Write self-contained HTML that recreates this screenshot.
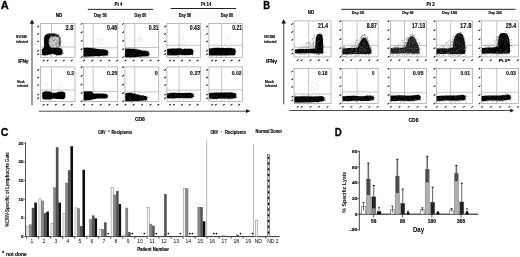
<!DOCTYPE html>
<html><head><meta charset="utf-8"><style>
html,body{margin:0;padding:0;background:#fff;overflow:hidden}
svg{display:block}
text{font-family:"Liberation Sans",sans-serif}
</style></head><body>
<svg width="520" height="257" viewBox="0 0 520 257">
<defs><filter id="b" x="-20%" y="-20%" width="140%" height="140%"><feGaussianBlur stdDeviation="0.35"/></filter><filter id="g" x="0" y="0" width="100%" height="100%"><feGaussianBlur stdDeviation="0.28"/></filter></defs>
<rect width="520" height="257" fill="#fff"/>
<g filter="url(#g)">
<text x="0.8" y="8.9" font-size="11.2" text-anchor="start" font-weight="bold" fill="#000" textLength="8" lengthAdjust="spacingAndGlyphs" stroke="#000" stroke-width="0.3">A</text>
<text x="59.1" y="16.9" font-size="5.0" text-anchor="middle" font-weight="bold" fill="#000" textLength="6.6" lengthAdjust="spacingAndGlyphs"  stroke="#000" stroke-width="0.14">ND</text>
<text x="118.5" y="5.8" font-size="5.0" text-anchor="middle" font-weight="bold" fill="#000" textLength="8" lengthAdjust="spacingAndGlyphs"  stroke="#000" stroke-width="0.14">Pt 4</text>
<line x1="87.8" y1="9.4" x2="153" y2="9.4" stroke="#222" stroke-width="1.0" />
<text x="100.4" y="16.5" font-size="4.8" text-anchor="middle" font-weight="bold" fill="#000" textLength="12.8" lengthAdjust="spacingAndGlyphs"  stroke="#000" stroke-width="0.14">Day 56</text>
<text x="140.4" y="16.5" font-size="4.8" text-anchor="middle" font-weight="bold" fill="#000" textLength="11.8" lengthAdjust="spacingAndGlyphs"  stroke="#000" stroke-width="0.14">Day 80</text>
<text x="206.2" y="5.8" font-size="5.0" text-anchor="middle" font-weight="bold" fill="#000" textLength="10.3" lengthAdjust="spacingAndGlyphs"  stroke="#000" stroke-width="0.14">Pt 14</text>
<line x1="170.7" y1="8.5" x2="236.1" y2="8.5" stroke="#222" stroke-width="1.0" />
<text x="185" y="16.5" font-size="4.8" text-anchor="middle" font-weight="bold" fill="#000" textLength="12.4" lengthAdjust="spacingAndGlyphs"  stroke="#000" stroke-width="0.14">Day 56</text>
<text x="227" y="16.5" font-size="4.8" text-anchor="middle" font-weight="bold" fill="#000" textLength="12.6" lengthAdjust="spacingAndGlyphs"  stroke="#000" stroke-width="0.14">Day 80</text>
<line x1="32" y1="22" x2="32" y2="105.2" stroke="#808080" stroke-width="1.5" />
<path d="M29.7 23.8 L32 19.6 L34.3 23.8Z" fill="#111" />
<text x="16.1" y="37.9" font-size="3.9" text-anchor="start" font-weight="bold" fill="#000" textLength="10.6" lengthAdjust="spacingAndGlyphs"  stroke="#000" stroke-width="0.14">NV/398</text>
<text x="16.1" y="42.7" font-size="3.9" text-anchor="start" font-weight="bold" fill="#000" textLength="11.7" lengthAdjust="spacingAndGlyphs"  stroke="#000" stroke-width="0.14">infected</text>
<text x="18.2" y="62.9" font-size="4.6" text-anchor="start" font-weight="bold" fill="#000" textLength="10.3" lengthAdjust="spacingAndGlyphs"  stroke="#000" stroke-width="0.14">IFN&#947;</text>
<text x="17.3" y="82.6" font-size="3.9" text-anchor="start" font-weight="bold" fill="#000" textLength="7.3" lengthAdjust="spacingAndGlyphs"  stroke="#000" stroke-width="0.14">Mock</text>
<text x="17.3" y="87.1" font-size="3.9" text-anchor="start" font-weight="bold" fill="#000" textLength="10.6" lengthAdjust="spacingAndGlyphs"  stroke="#000" stroke-width="0.14">infected</text>
<line x1="38.8" y1="111.2" x2="247" y2="111.2" stroke="#2a2a2a" stroke-width="0.85" />
<path d="M246 109.2 L250.6 111.1 L246 113Z" fill="#111" />
<text x="139.9" y="121.1" font-size="4.9" text-anchor="middle" font-weight="bold" fill="#000" textLength="10" lengthAdjust="spacingAndGlyphs"  stroke="#000" stroke-width="0.14">CD8</text>
<rect x="40.4" y="23.6" width="34.6" height="33.7" fill="none" stroke="#a0a0a0" stroke-width="0.7" />
<line x1="51.5" y1="23.6" x2="51.5" y2="57.3" stroke="#a0a0a0" stroke-width="0.6" />
<line x1="40.4" y1="47" x2="75" y2="47" stroke="#a0a0a0" stroke-width="0.6" />
<text x="73.4" y="30.2" font-size="6.3" text-anchor="end" font-weight="bold" fill="#111" textLength="8" lengthAdjust="spacingAndGlyphs"  stroke="#111" stroke-width="0.14">2.8</text>
<path d="M37 27l1.7 -1.4 0.7 0.55 -1.7 1.4z" fill="#000"/>
<path d="M37 34.41l1.7 -1.4 0.7 0.55 -1.7 1.4z" fill="#000"/>
<path d="M37 41.82l1.7 -1.4 0.7 0.55 -1.7 1.4z" fill="#000"/>
<path d="M37 51.09l1.7 -1.4 0.7 0.55 -1.7 1.4z" fill="#000"/>
<path d="M37 54.63l1.7 -1.4 0.7 0.55 -1.7 1.4z" fill="#000"/>
<path d="M42.51 61l1.7 -1.4 0.7 0.55 -1.7 1.4z" fill="#000"/>
<path d="M46.32 61l1.7 -1.4 0.7 0.55 -1.7 1.4z" fill="#000"/>
<path d="M54.62 61l1.7 -1.4 0.7 0.55 -1.7 1.4z" fill="#000"/>
<path d="M62.58 61l1.7 -1.4 0.7 0.55 -1.7 1.4z" fill="#000"/>
<path d="M70.54 61l1.7 -1.4 0.7 0.55 -1.7 1.4z" fill="#000"/>
<rect x="40.4" y="66.9" width="34.6" height="34.5" fill="none" stroke="#a0a0a0" stroke-width="0.7" />
<line x1="51.5" y1="66.9" x2="51.5" y2="101.4" stroke="#a0a0a0" stroke-width="0.6" />
<line x1="40.4" y1="90.1" x2="75" y2="90.1" stroke="#a0a0a0" stroke-width="0.6" />
<text x="74" y="75" font-size="6.0" text-anchor="end" font-weight="bold" fill="#111" textLength="7" lengthAdjust="spacingAndGlyphs"  stroke="#111" stroke-width="0.14">0.2</text>
<path d="M37 70.36l1.7 -1.4 0.7 0.55 -1.7 1.4z" fill="#000"/>
<path d="M37 77.95l1.7 -1.4 0.7 0.55 -1.7 1.4z" fill="#000"/>
<path d="M37 85.54l1.7 -1.4 0.7 0.55 -1.7 1.4z" fill="#000"/>
<path d="M37 95.03l1.7 -1.4 0.7 0.55 -1.7 1.4z" fill="#000"/>
<path d="M37 98.65l1.7 -1.4 0.7 0.55 -1.7 1.4z" fill="#000"/>
<path d="M42.51 105.1l1.7 -1.4 0.7 0.55 -1.7 1.4z" fill="#000"/>
<path d="M46.32 105.1l1.7 -1.4 0.7 0.55 -1.7 1.4z" fill="#000"/>
<path d="M54.62 105.1l1.7 -1.4 0.7 0.55 -1.7 1.4z" fill="#000"/>
<path d="M62.58 105.1l1.7 -1.4 0.7 0.55 -1.7 1.4z" fill="#000"/>
<path d="M70.54 105.1l1.7 -1.4 0.7 0.55 -1.7 1.4z" fill="#000"/>
<rect x="83.4" y="23.6" width="34.3" height="33.7" fill="none" stroke="#a0a0a0" stroke-width="0.7" />
<line x1="93.2" y1="23.6" x2="93.2" y2="57.3" stroke="#a0a0a0" stroke-width="0.6" />
<line x1="83.4" y1="47.8" x2="117.7" y2="47.8" stroke="#a0a0a0" stroke-width="0.6" />
<text x="117.2" y="30.2" font-size="6.3" text-anchor="end" font-weight="bold" fill="#111" textLength="10.3" lengthAdjust="spacingAndGlyphs"  stroke="#111" stroke-width="0.14">0.46</text>
<path d="M80.4 24.3l1.7 -1.4 0.7 0.55 -1.7 1.4z" fill="#000"/>
<path d="M80.4 32.73l1.7 -1.4 0.7 0.55 -1.7 1.4z" fill="#000"/>
<path d="M80.4 41.15l1.7 -1.4 0.7 0.55 -1.7 1.4z" fill="#000"/>
<path d="M80.4 49.58l1.7 -1.4 0.7 0.55 -1.7 1.4z" fill="#000"/>
<path d="M80.4 57.66l1.7 -1.4 0.7 0.55 -1.7 1.4z" fill="#000"/>
<path d="M82.74 61l1.7 -1.4 0.7 0.55 -1.7 1.4z" fill="#000"/>
<path d="M90.98 61l1.7 -1.4 0.7 0.55 -1.7 1.4z" fill="#000"/>
<path d="M99.55 61l1.7 -1.4 0.7 0.55 -1.7 1.4z" fill="#000"/>
<path d="M108.12 61l1.7 -1.4 0.7 0.55 -1.7 1.4z" fill="#000"/>
<path d="M116.01 61l1.7 -1.4 0.7 0.55 -1.7 1.4z" fill="#000"/>
<rect x="83.4" y="66.9" width="34.3" height="34.5" fill="none" stroke="#a0a0a0" stroke-width="0.7" />
<line x1="93.2" y1="66.9" x2="93.2" y2="101.4" stroke="#a0a0a0" stroke-width="0.6" />
<line x1="83.4" y1="91.4" x2="117.7" y2="91.4" stroke="#a0a0a0" stroke-width="0.6" />
<text x="117.5" y="75" font-size="6.0" text-anchor="end" font-weight="bold" fill="#111" textLength="10.5" lengthAdjust="spacingAndGlyphs"  stroke="#111" stroke-width="0.14">0.25</text>
<path d="M80.4 67.6l1.7 -1.4 0.7 0.55 -1.7 1.4z" fill="#000"/>
<path d="M80.4 76.23l1.7 -1.4 0.7 0.55 -1.7 1.4z" fill="#000"/>
<path d="M80.4 84.85l1.7 -1.4 0.7 0.55 -1.7 1.4z" fill="#000"/>
<path d="M80.4 93.48l1.7 -1.4 0.7 0.55 -1.7 1.4z" fill="#000"/>
<path d="M80.4 101.76l1.7 -1.4 0.7 0.55 -1.7 1.4z" fill="#000"/>
<path d="M82.74 105.1l1.7 -1.4 0.7 0.55 -1.7 1.4z" fill="#000"/>
<path d="M90.98 105.1l1.7 -1.4 0.7 0.55 -1.7 1.4z" fill="#000"/>
<path d="M99.55 105.1l1.7 -1.4 0.7 0.55 -1.7 1.4z" fill="#000"/>
<path d="M108.12 105.1l1.7 -1.4 0.7 0.55 -1.7 1.4z" fill="#000"/>
<path d="M116.01 105.1l1.7 -1.4 0.7 0.55 -1.7 1.4z" fill="#000"/>
<rect x="124.9" y="23.6" width="33.9" height="33.7" fill="none" stroke="#a0a0a0" stroke-width="0.7" />
<line x1="134.8" y1="23.6" x2="134.8" y2="57.3" stroke="#a0a0a0" stroke-width="0.6" />
<line x1="124.9" y1="47.5" x2="158.8" y2="47.5" stroke="#a0a0a0" stroke-width="0.6" />
<text x="158.6" y="30.2" font-size="6.3" text-anchor="end" font-weight="bold" fill="#111" textLength="9.8" lengthAdjust="spacingAndGlyphs"  stroke="#111" stroke-width="0.14">0.31</text>
<path d="M121.9 24.3l1.7 -1.4 0.7 0.55 -1.7 1.4z" fill="#000"/>
<path d="M121.9 32.73l1.7 -1.4 0.7 0.55 -1.7 1.4z" fill="#000"/>
<path d="M121.9 41.15l1.7 -1.4 0.7 0.55 -1.7 1.4z" fill="#000"/>
<path d="M121.9 49.58l1.7 -1.4 0.7 0.55 -1.7 1.4z" fill="#000"/>
<path d="M121.9 57.66l1.7 -1.4 0.7 0.55 -1.7 1.4z" fill="#000"/>
<path d="M124.24 61l1.7 -1.4 0.7 0.55 -1.7 1.4z" fill="#000"/>
<path d="M132.38 61l1.7 -1.4 0.7 0.55 -1.7 1.4z" fill="#000"/>
<path d="M140.85 61l1.7 -1.4 0.7 0.55 -1.7 1.4z" fill="#000"/>
<path d="M149.33 61l1.7 -1.4 0.7 0.55 -1.7 1.4z" fill="#000"/>
<path d="M157.12 61l1.7 -1.4 0.7 0.55 -1.7 1.4z" fill="#000"/>
<rect x="124.9" y="66.9" width="33.9" height="34.5" fill="none" stroke="#a0a0a0" stroke-width="0.7" />
<line x1="134.8" y1="66.9" x2="134.8" y2="101.4" stroke="#a0a0a0" stroke-width="0.6" />
<line x1="124.9" y1="91.9" x2="158.8" y2="91.9" stroke="#a0a0a0" stroke-width="0.6" />
<text x="157.8" y="75" font-size="6.0" text-anchor="end" font-weight="bold" fill="#111" textLength="3" lengthAdjust="spacingAndGlyphs"  stroke="#111" stroke-width="0.14">0</text>
<path d="M121.9 67.6l1.7 -1.4 0.7 0.55 -1.7 1.4z" fill="#000"/>
<path d="M121.9 76.23l1.7 -1.4 0.7 0.55 -1.7 1.4z" fill="#000"/>
<path d="M121.9 84.85l1.7 -1.4 0.7 0.55 -1.7 1.4z" fill="#000"/>
<path d="M121.9 93.48l1.7 -1.4 0.7 0.55 -1.7 1.4z" fill="#000"/>
<path d="M121.9 101.76l1.7 -1.4 0.7 0.55 -1.7 1.4z" fill="#000"/>
<path d="M124.24 105.1l1.7 -1.4 0.7 0.55 -1.7 1.4z" fill="#000"/>
<path d="M132.38 105.1l1.7 -1.4 0.7 0.55 -1.7 1.4z" fill="#000"/>
<path d="M140.85 105.1l1.7 -1.4 0.7 0.55 -1.7 1.4z" fill="#000"/>
<path d="M149.33 105.1l1.7 -1.4 0.7 0.55 -1.7 1.4z" fill="#000"/>
<path d="M157.12 105.1l1.7 -1.4 0.7 0.55 -1.7 1.4z" fill="#000"/>
<rect x="166.9" y="23.6" width="33.8" height="33.7" fill="none" stroke="#a0a0a0" stroke-width="0.7" />
<line x1="179.1" y1="23.6" x2="179.1" y2="57.3" stroke="#a0a0a0" stroke-width="0.6" />
<line x1="166.9" y1="45.3" x2="200.7" y2="45.3" stroke="#a0a0a0" stroke-width="0.6" />
<text x="199.9" y="30.2" font-size="6.3" text-anchor="end" font-weight="bold" fill="#111" textLength="10.1" lengthAdjust="spacingAndGlyphs"  stroke="#111" stroke-width="0.14">0.43</text>
<path d="M163.9 27l1.7 -1.4 0.7 0.55 -1.7 1.4z" fill="#000"/>
<path d="M163.9 34.41l1.7 -1.4 0.7 0.55 -1.7 1.4z" fill="#000"/>
<path d="M163.9 41.82l1.7 -1.4 0.7 0.55 -1.7 1.4z" fill="#000"/>
<path d="M163.9 51.09l1.7 -1.4 0.7 0.55 -1.7 1.4z" fill="#000"/>
<path d="M163.9 54.63l1.7 -1.4 0.7 0.55 -1.7 1.4z" fill="#000"/>
<path d="M168.94 61l1.7 -1.4 0.7 0.55 -1.7 1.4z" fill="#000"/>
<path d="M172.66 61l1.7 -1.4 0.7 0.55 -1.7 1.4z" fill="#000"/>
<path d="M180.77 61l1.7 -1.4 0.7 0.55 -1.7 1.4z" fill="#000"/>
<path d="M188.55 61l1.7 -1.4 0.7 0.55 -1.7 1.4z" fill="#000"/>
<path d="M196.32 61l1.7 -1.4 0.7 0.55 -1.7 1.4z" fill="#000"/>
<rect x="166.9" y="66.9" width="33.8" height="34.5" fill="none" stroke="#a0a0a0" stroke-width="0.7" />
<line x1="179.1" y1="66.9" x2="179.1" y2="101.4" stroke="#a0a0a0" stroke-width="0.6" />
<line x1="166.9" y1="90.1" x2="200.7" y2="90.1" stroke="#a0a0a0" stroke-width="0.6" />
<text x="200.5" y="75" font-size="6.0" text-anchor="end" font-weight="bold" fill="#111" textLength="10.7" lengthAdjust="spacingAndGlyphs"  stroke="#111" stroke-width="0.14">0.27</text>
<path d="M163.9 70.36l1.7 -1.4 0.7 0.55 -1.7 1.4z" fill="#000"/>
<path d="M163.9 77.95l1.7 -1.4 0.7 0.55 -1.7 1.4z" fill="#000"/>
<path d="M163.9 85.54l1.7 -1.4 0.7 0.55 -1.7 1.4z" fill="#000"/>
<path d="M163.9 95.03l1.7 -1.4 0.7 0.55 -1.7 1.4z" fill="#000"/>
<path d="M163.9 98.65l1.7 -1.4 0.7 0.55 -1.7 1.4z" fill="#000"/>
<path d="M168.94 105.1l1.7 -1.4 0.7 0.55 -1.7 1.4z" fill="#000"/>
<path d="M172.66 105.1l1.7 -1.4 0.7 0.55 -1.7 1.4z" fill="#000"/>
<path d="M180.77 105.1l1.7 -1.4 0.7 0.55 -1.7 1.4z" fill="#000"/>
<path d="M188.55 105.1l1.7 -1.4 0.7 0.55 -1.7 1.4z" fill="#000"/>
<path d="M196.32 105.1l1.7 -1.4 0.7 0.55 -1.7 1.4z" fill="#000"/>
<rect x="208.9" y="23.6" width="33.4" height="33.7" fill="none" stroke="#a0a0a0" stroke-width="0.7" />
<line x1="221.6" y1="23.6" x2="221.6" y2="57.3" stroke="#a0a0a0" stroke-width="0.6" />
<line x1="208.9" y1="45.3" x2="242.3" y2="45.3" stroke="#a0a0a0" stroke-width="0.6" />
<text x="242" y="30.2" font-size="6.3" text-anchor="end" font-weight="bold" fill="#111" textLength="9.7" lengthAdjust="spacingAndGlyphs"  stroke="#111" stroke-width="0.14">0.21</text>
<path d="M205.9 27l1.7 -1.4 0.7 0.55 -1.7 1.4z" fill="#000"/>
<path d="M205.9 34.41l1.7 -1.4 0.7 0.55 -1.7 1.4z" fill="#000"/>
<path d="M205.9 41.82l1.7 -1.4 0.7 0.55 -1.7 1.4z" fill="#000"/>
<path d="M205.9 51.09l1.7 -1.4 0.7 0.55 -1.7 1.4z" fill="#000"/>
<path d="M205.9 54.63l1.7 -1.4 0.7 0.55 -1.7 1.4z" fill="#000"/>
<path d="M210.91 61l1.7 -1.4 0.7 0.55 -1.7 1.4z" fill="#000"/>
<path d="M214.58 61l1.7 -1.4 0.7 0.55 -1.7 1.4z" fill="#000"/>
<path d="M222.6 61l1.7 -1.4 0.7 0.55 -1.7 1.4z" fill="#000"/>
<path d="M230.28 61l1.7 -1.4 0.7 0.55 -1.7 1.4z" fill="#000"/>
<path d="M237.96 61l1.7 -1.4 0.7 0.55 -1.7 1.4z" fill="#000"/>
<rect x="208.9" y="66.9" width="33.4" height="34.5" fill="none" stroke="#a0a0a0" stroke-width="0.7" />
<line x1="221.6" y1="66.9" x2="221.6" y2="101.4" stroke="#a0a0a0" stroke-width="0.6" />
<line x1="208.9" y1="89.8" x2="242.3" y2="89.8" stroke="#a0a0a0" stroke-width="0.6" />
<text x="241.5" y="75" font-size="6.0" text-anchor="end" font-weight="bold" fill="#111" textLength="9.8" lengthAdjust="spacingAndGlyphs"  stroke="#111" stroke-width="0.14">0.02</text>
<path d="M205.9 70.36l1.7 -1.4 0.7 0.55 -1.7 1.4z" fill="#000"/>
<path d="M205.9 77.95l1.7 -1.4 0.7 0.55 -1.7 1.4z" fill="#000"/>
<path d="M205.9 85.54l1.7 -1.4 0.7 0.55 -1.7 1.4z" fill="#000"/>
<path d="M205.9 95.03l1.7 -1.4 0.7 0.55 -1.7 1.4z" fill="#000"/>
<path d="M205.9 98.65l1.7 -1.4 0.7 0.55 -1.7 1.4z" fill="#000"/>
<path d="M210.91 105.1l1.7 -1.4 0.7 0.55 -1.7 1.4z" fill="#000"/>
<path d="M214.58 105.1l1.7 -1.4 0.7 0.55 -1.7 1.4z" fill="#000"/>
<path d="M222.6 105.1l1.7 -1.4 0.7 0.55 -1.7 1.4z" fill="#000"/>
<path d="M230.28 105.1l1.7 -1.4 0.7 0.55 -1.7 1.4z" fill="#000"/>
<path d="M237.96 105.1l1.7 -1.4 0.7 0.55 -1.7 1.4z" fill="#000"/>
<path d="M44.4 47 L44 40 L44.6 36 L46.5 34.2 L50 33.5 L54 33.7 L57.5 34.6 L59.8 36.8 L60.7 41 L60.6 47.2Z" fill="#a8a8a8" filter="url(#b)"/>
<path d="M52.91 38.51h0.6v0.6h-0.6zM55.86 37.72h0.6v0.6h-0.6zM54.82 40.66h0.6v0.6h-0.6zM50.52 42.07h0.6v0.6h-0.6zM50.34 41.34h0.6v0.6h-0.6zM50.63 37.91h0.6v0.6h-0.6zM53.82 45.27h0.6v0.6h-0.6zM51.11 39.23h0.6v0.6h-0.6zM55.65 46.48h0.6v0.6h-0.6zM55.19 40.97h0.6v0.6h-0.6zM58.79 37.47h0.6v0.6h-0.6zM57.73 39.9h0.6v0.6h-0.6zM51.3 38.18h0.6v0.6h-0.6zM52.78 45.16h0.6v0.6h-0.6zM51.63 42.82h0.6v0.6h-0.6zM55.75 40.72h0.6v0.6h-0.6zM54.93 37.63h0.6v0.6h-0.6zM50.54 39.06h0.6v0.6h-0.6zM56.12 41.28h0.6v0.6h-0.6zM52.83 42.86h0.6v0.6h-0.6zM54.08 40h0.6v0.6h-0.6zM57.15 43.99h0.6v0.6h-0.6zM52.2 42.74h0.6v0.6h-0.6zM54.73 45.75h0.6v0.6h-0.6zM56.57 39.88h0.6v0.6h-0.6zM58.82 38.18h0.6v0.6h-0.6zM53.76 44.57h0.6v0.6h-0.6zM51.37 41.89h0.6v0.6h-0.6zM50.35 43.68h0.6v0.6h-0.6zM56.88 42.73h0.6v0.6h-0.6zM57.88 40.14h0.6v0.6h-0.6zM56.26 42.94h0.6v0.6h-0.6zM55.22 41.56h0.6v0.6h-0.6zM57.56 46.45h0.6v0.6h-0.6zM54.27 43.64h0.6v0.6h-0.6zM50.55 44.01h0.6v0.6h-0.6zM55.82 46.93h0.6v0.6h-0.6zM57.4 39.85h0.6v0.6h-0.6zM53.47 43.69h0.6v0.6h-0.6zM50.2 41.62h0.6v0.6h-0.6zM51.51 38.17h0.6v0.6h-0.6zM50.53 44.68h0.6v0.6h-0.6zM51.16 39.48h0.6v0.6h-0.6zM53.52 45.71h0.6v0.6h-0.6zM50.73 41.49h0.6v0.6h-0.6zM54.94 45.83h0.6v0.6h-0.6zM57.37 45.64h0.6v0.6h-0.6zM52.51 41.15h0.6v0.6h-0.6zM53.23 45.84h0.6v0.6h-0.6zM58.62 38.51h0.6v0.6h-0.6zM51.59 39.32h0.6v0.6h-0.6zM52.1 41.85h0.6v0.6h-0.6zM55.3 39.63h0.6v0.6h-0.6zM50.04 41.19h0.6v0.6h-0.6zM53.32 42.66h0.6v0.6h-0.6zM58.58 43.9h0.6v0.6h-0.6zM54.64 43.18h0.6v0.6h-0.6zM56.09 37.54h0.6v0.6h-0.6zM58.1 44.8h0.6v0.6h-0.6zM57.87 44.98h0.6v0.6h-0.6zM53.53 40.99h0.6v0.6h-0.6zM50.93 43.34h0.6v0.6h-0.6zM50.56 37.67h0.6v0.6h-0.6zM51.88 38.62h0.6v0.6h-0.6zM53.06 37.53h0.6v0.6h-0.6zM50 38.51h0.6v0.6h-0.6zM50.91 40.64h0.6v0.6h-0.6zM50.23 45.74h0.6v0.6h-0.6zM55.53 38.49h0.6v0.6h-0.6zM52.27 40.47h0.6v0.6h-0.6zM53.28 38.23h0.6v0.6h-0.6zM57.64 46.93h0.6v0.6h-0.6zM54.19 41.84h0.6v0.6h-0.6zM50.77 38.02h0.6v0.6h-0.6zM53.08 39.65h0.6v0.6h-0.6zM57.46 38.61h0.6v0.6h-0.6zM50.21 46.51h0.6v0.6h-0.6zM54.75 38.47h0.6v0.6h-0.6zM54.89 37.27h0.6v0.6h-0.6zM54.75 46.79h0.6v0.6h-0.6zM57.77 43.96h0.6v0.6h-0.6zM52.35 40.67h0.6v0.6h-0.6zM51.5 44.72h0.6v0.6h-0.6zM54.79 44.79h0.6v0.6h-0.6zM52.97 39.23h0.6v0.6h-0.6zM57.3 46.85h0.6v0.6h-0.6zM57.67 45.06h0.6v0.6h-0.6zM57.36 44.4h0.6v0.6h-0.6zM52.04 42.18h0.6v0.6h-0.6zM53.2 37.29h0.6v0.6h-0.6zM50.25 39.79h0.6v0.6h-0.6zM52.33 43.93h0.6v0.6h-0.6zM58.61 41.47h0.6v0.6h-0.6zM58.43 46.88h0.6v0.6h-0.6zM58.6 40.65h0.6v0.6h-0.6zM51.98 39.27h0.6v0.6h-0.6zM51.77 39.04h0.6v0.6h-0.6zM55.62 46h0.6v0.6h-0.6zM57.56 41.79h0.6v0.6h-0.6zM55.88 45h0.6v0.6h-0.6zM50.76 43.61h0.6v0.6h-0.6zM58.19 44.82h0.6v0.6h-0.6zM56.75 41.78h0.6v0.6h-0.6zM51.61 44.89h0.6v0.6h-0.6zM52.99 45.01h0.6v0.6h-0.6zM58.74 40.96h0.6v0.6h-0.6zM53.61 46.47h0.6v0.6h-0.6zM56.52 38.7h0.6v0.6h-0.6zM51.14 38.51h0.6v0.6h-0.6zM58.14 45.07h0.6v0.6h-0.6zM51.32 45.27h0.6v0.6h-0.6zM58.82 43.57h0.6v0.6h-0.6zM53.15 42.49h0.6v0.6h-0.6zM51.18 37.14h0.6v0.6h-0.6zM58.74 43.5h0.6v0.6h-0.6zM54.74 46.34h0.6v0.6h-0.6zM53.9 45.72h0.6v0.6h-0.6zM57.44 39.11h0.6v0.6h-0.6zM52.27 39.93h0.6v0.6h-0.6zM52.16 42.86h0.6v0.6h-0.6zM52.33 41.19h0.6v0.6h-0.6zM51.18 46.1h0.6v0.6h-0.6zM53.18 41.58h0.6v0.6h-0.6zM55.25 46.04h0.6v0.6h-0.6zM53.79 46.18h0.6v0.6h-0.6zM54.51 42.32h0.6v0.6h-0.6zM54.71 37.19h0.6v0.6h-0.6zM53.96 38.83h0.6v0.6h-0.6zM50.04 44.99h0.6v0.6h-0.6zM51.55 41.73h0.6v0.6h-0.6zM56.53 42.56h0.6v0.6h-0.6zM52.93 42.18h0.6v0.6h-0.6zM55 44.84h0.6v0.6h-0.6zM50.95 42.6h0.6v0.6h-0.6zM52.24 39.77h0.6v0.6h-0.6zM56.95 42.08h0.6v0.6h-0.6zM55.06 44.6h0.6v0.6h-0.6zM58.21 41.43h0.6v0.6h-0.6zM55.51 42.06h0.6v0.6h-0.6zM54.61 43.93h0.6v0.6h-0.6zM54.07 42.33h0.6v0.6h-0.6zM54.3 46.42h0.6v0.6h-0.6zM56.29 45.77h0.6v0.6h-0.6zM58.48 39.6h0.6v0.6h-0.6zM55.04 46.43h0.6v0.6h-0.6zM57.56 38.37h0.6v0.6h-0.6zM51.09 41.42h0.6v0.6h-0.6zM50.65 39.41h0.6v0.6h-0.6zM50.66 43.69h0.6v0.6h-0.6zM57.06 45.97h0.6v0.6h-0.6zM51.39 44.16h0.6v0.6h-0.6zM55.94 38.43h0.6v0.6h-0.6zM57.95 46.68h0.6v0.6h-0.6zM51.98 46.53h0.6v0.6h-0.6zM53.58 41.87h0.6v0.6h-0.6zM58.91 45.32h0.6v0.6h-0.6zM51.45 41.32h0.6v0.6h-0.6zM54.64 40.39h0.6v0.6h-0.6zM51.76 40.19h0.6v0.6h-0.6zM56.5 37.19h0.6v0.6h-0.6zM54.99 41.4h0.6v0.6h-0.6zM50.16 40.31h0.6v0.6h-0.6zM55.62 42.12h0.6v0.6h-0.6zM50.58 46.85h0.6v0.6h-0.6zM57.1 46.72h0.6v0.6h-0.6zM50.94 39.66h0.6v0.6h-0.6zM50.36 44.79h0.6v0.6h-0.6zM52.43 38.3h0.6v0.6h-0.6zM53.8 46.11h0.6v0.6h-0.6zM57.37 39.59h0.6v0.6h-0.6z" fill="#f2f2f2"/>
<path d="M51.34 46.19h0.5v0.5h-0.5zM55.14 44h0.5v0.5h-0.5zM50.81 37.58h0.5v0.5h-0.5zM56.19 41.25h0.5v0.5h-0.5zM50.65 46.38h0.5v0.5h-0.5zM55.71 45.02h0.5v0.5h-0.5zM50.75 45.56h0.5v0.5h-0.5zM50.6 45.63h0.5v0.5h-0.5zM54.08 40.39h0.5v0.5h-0.5zM54.98 46.27h0.5v0.5h-0.5zM52.41 38.29h0.5v0.5h-0.5zM54.74 39.38h0.5v0.5h-0.5zM50.99 38.61h0.5v0.5h-0.5zM50.45 39.02h0.5v0.5h-0.5zM52.81 40.05h0.5v0.5h-0.5zM56.84 39.9h0.5v0.5h-0.5zM54.5 38.78h0.5v0.5h-0.5zM53.12 37.18h0.5v0.5h-0.5zM52.25 37.15h0.5v0.5h-0.5zM56.6 42.51h0.5v0.5h-0.5zM51.71 41.75h0.5v0.5h-0.5zM58.41 38.06h0.5v0.5h-0.5zM57.37 41.32h0.5v0.5h-0.5zM54.46 45.35h0.5v0.5h-0.5zM53.54 42.07h0.5v0.5h-0.5zM56.19 46.82h0.5v0.5h-0.5zM53.08 45.32h0.5v0.5h-0.5zM56.36 43.36h0.5v0.5h-0.5zM53.64 40.48h0.5v0.5h-0.5zM50.49 38.3h0.5v0.5h-0.5zM50.64 44.41h0.5v0.5h-0.5zM52.3 38.63h0.5v0.5h-0.5zM50.76 45.41h0.5v0.5h-0.5zM57.83 43.71h0.5v0.5h-0.5zM52.54 39.42h0.5v0.5h-0.5zM52.64 41.59h0.5v0.5h-0.5zM51.42 41.46h0.5v0.5h-0.5zM52.37 46.62h0.5v0.5h-0.5zM58.75 42.47h0.5v0.5h-0.5zM52.2 46.66h0.5v0.5h-0.5zM52.79 40.57h0.5v0.5h-0.5zM50.01 40.82h0.5v0.5h-0.5zM54.27 42.03h0.5v0.5h-0.5zM51.81 42.05h0.5v0.5h-0.5zM50.04 39.64h0.5v0.5h-0.5zM50.81 41h0.5v0.5h-0.5zM50.38 37.22h0.5v0.5h-0.5zM52.74 39.33h0.5v0.5h-0.5zM55.27 42.29h0.5v0.5h-0.5zM56.75 43.58h0.5v0.5h-0.5zM56.44 45.79h0.5v0.5h-0.5zM53.51 40.26h0.5v0.5h-0.5zM58.86 38.49h0.5v0.5h-0.5zM56.52 43.43h0.5v0.5h-0.5zM50.39 45.35h0.5v0.5h-0.5zM58.03 43.27h0.5v0.5h-0.5zM56.6 45.12h0.5v0.5h-0.5zM51.25 42.24h0.5v0.5h-0.5zM54.54 45.35h0.5v0.5h-0.5zM57.24 45.26h0.5v0.5h-0.5z" fill="#555"/>
<path d="M44.2 47.2 L43.9 39 L44.8 35.4 L47.6 33.7 L51.5 33.8 L50.4 36.4 L48.9 39.2 L48.6 43 L49.8 47.4Z" fill="#000" filter="url(#b)"/>
<ellipse cx="52.5" cy="35" rx="4.2" ry="1.4" fill="#1a1a1a" filter="url(#b)"/>
<ellipse cx="57.2" cy="35.8" rx="2" ry="1.3" fill="#333" filter="url(#b)"/>
<ellipse cx="59.7" cy="41.6" rx="1" ry="5" fill="#5a5a5a" filter="url(#b)"/>
<path d="M45.78 44.7h0.5v0.5h-0.5zM52.32 33.05h0.5v0.5h-0.5zM55.21 33.92h0.5v0.5h-0.5zM45.27 36.72h0.5v0.5h-0.5zM56.58 46.66h0.5v0.5h-0.5zM54.93 34.08h0.5v0.5h-0.5zM53.65 33.17h0.5v0.5h-0.5zM45.03 36.76h0.5v0.5h-0.5zM59.19 35.79h0.5v0.5h-0.5zM44.3 39.43h0.5v0.5h-0.5zM57.94 46.55h0.5v0.5h-0.5zM47.57 46.24h0.5v0.5h-0.5zM52.26 33.35h0.5v0.5h-0.5zM44.06 39.88h0.5v0.5h-0.5zM44.03 43.51h0.5v0.5h-0.5zM58.26 34.68h0.5v0.5h-0.5zM59.75 42.98h0.5v0.5h-0.5zM59.33 37.06h0.5v0.5h-0.5zM60.98 41.25h0.5v0.5h-0.5zM48.68 33.68h0.5v0.5h-0.5zM45.73 44.69h0.5v0.5h-0.5zM59.03 44.37h0.5v0.5h-0.5zM59.99 40.69h0.5v0.5h-0.5zM56.23 33.69h0.5v0.5h-0.5zM48.87 33.69h0.5v0.5h-0.5zM46.84 35.26h0.5v0.5h-0.5zM47.27 34.27h0.5v0.5h-0.5zM45.06 36.89h0.5v0.5h-0.5zM58.67 36.02h0.5v0.5h-0.5zM44.55 42.93h0.5v0.5h-0.5zM53.98 33h0.5v0.5h-0.5zM58.04 44.98h0.5v0.5h-0.5zM45.85 35.16h0.5v0.5h-0.5zM60.01 43.1h0.5v0.5h-0.5zM44.67 43.95h0.5v0.5h-0.5zM54.22 33.15h0.5v0.5h-0.5zM60.3 42.02h0.5v0.5h-0.5zM60.33 42.87h0.5v0.5h-0.5zM49.23 33.31h0.5v0.5h-0.5zM60.49 37.36h0.5v0.5h-0.5z" fill="#222"/>
<path d="M42 49.4 L43.8 47.6 L44.3 46 L49.6 46.2 L51 47.7 L58 47.6 L61.5 48.4 L62.8 51.5 L62.2 54.8 L57 55.2 L53 53.8 L50 54.4 L45 55.5 L42 54.9Z" fill="#000" filter="url(#b)"/>
<path d="M59.06 48.19h0.5v0.5h-0.5zM46.61 53.22h0.5v0.5h-0.5zM52.31 47.78h0.5v0.5h-0.5zM46.65 49.96h0.5v0.5h-0.5zM45.04 49.74h0.5v0.5h-0.5zM44.95 46.49h0.5v0.5h-0.5zM43.25 49.74h0.5v0.5h-0.5zM60.68 54.39h0.5v0.5h-0.5z" fill="#fff" fill-opacity="0.4"/>
<path d="M61.12 47.16h0.5v0.5h-0.5zM41.93 52.74h0.5v0.5h-0.5zM52.87 47.38h0.5v0.5h-0.5zM62.76 51.29h0.5v0.5h-0.5zM41.14 55.08h0.5v0.5h-0.5zM41.47 50.22h0.5v0.5h-0.5zM61.95 49.21h0.5v0.5h-0.5zM52.27 47.19h0.5v0.5h-0.5zM57.82 55.33h0.5v0.5h-0.5zM58.91 55.06h0.5v0.5h-0.5zM57.95 47.08h0.5v0.5h-0.5zM41.72 51.91h0.5v0.5h-0.5zM62.55 50.12h0.5v0.5h-0.5zM41.69 50.32h0.5v0.5h-0.5zM41.02 50.72h0.5v0.5h-0.5zM47.33 55.37h0.5v0.5h-0.5zM49.96 55.06h0.5v0.5h-0.5zM44.59 55.49h0.5v0.5h-0.5zM56.4 55.64h0.5v0.5h-0.5zM44.42 55.51h0.5v0.5h-0.5zM41.97 53.3h0.5v0.5h-0.5zM41.38 54.14h0.5v0.5h-0.5zM55.38 56.33h0.5v0.5h-0.5zM45.98 45.04h0.5v0.5h-0.5zM41.11 48.91h0.5v0.5h-0.5zM56.1 54.89h0.5v0.5h-0.5zM53.82 54.53h0.5v0.5h-0.5zM46.44 45.8h0.5v0.5h-0.5zM45.57 55.74h0.5v0.5h-0.5zM46.14 46.01h0.5v0.5h-0.5zM58.7 55.31h0.5v0.5h-0.5zM62.95 53.05h0.5v0.5h-0.5zM61.77 48.12h0.5v0.5h-0.5zM53.28 54.21h0.5v0.5h-0.5zM42.98 47.46h0.5v0.5h-0.5zM41.82 53.71h0.5v0.5h-0.5zM60.85 55.3h0.5v0.5h-0.5zM42.57 48.67h0.5v0.5h-0.5zM46.21 46.05h0.5v0.5h-0.5zM63.28 53.42h0.5v0.5h-0.5z" fill="#333"/>
<path d="M83.6 47.8 L92 48 L98 48.9 L104 49.5 L107.4 50.3 L108.5 52.8 L107.6 55.4 L100 56 L90 56.4 L83.6 56.8Z" fill="#000" filter="url(#b)"/>
<path d="M107.55 53.38h0.5v0.5h-0.5zM100.44 53.28h0.5v0.5h-0.5zM91 52.94h0.5v0.5h-0.5zM107.32 52.13h0.5v0.5h-0.5zM99.72 50.49h0.5v0.5h-0.5zM92.15 55.77h0.5v0.5h-0.5zM84.29 49.5h0.5v0.5h-0.5zM100.5 51.83h0.5v0.5h-0.5zM85.72 53.74h0.5v0.5h-0.5zM92.86 53.03h0.5v0.5h-0.5zM93.97 52.57h0.5v0.5h-0.5zM97.66 51.37h0.5v0.5h-0.5zM86.44 49.42h0.5v0.5h-0.5zM105.76 52.73h0.5v0.5h-0.5zM86.4 55.56h0.5v0.5h-0.5zM89.91 48.65h0.5v0.5h-0.5zM96.82 50.06h0.5v0.5h-0.5zM95.78 52.79h0.5v0.5h-0.5zM89.24 52.95h0.5v0.5h-0.5zM86.41 52.42h0.5v0.5h-0.5zM93.76 48.46h0.5v0.5h-0.5zM94.54 55.57h0.5v0.5h-0.5zM97.31 54.23h0.5v0.5h-0.5zM86.14 55.27h0.5v0.5h-0.5zM93.36 49.34h0.5v0.5h-0.5zM107.5 52.87h0.5v0.5h-0.5zM89.5 51.15h0.5v0.5h-0.5zM83.98 53.15h0.5v0.5h-0.5zM88.91 50.5h0.5v0.5h-0.5zM101.21 51.63h0.5v0.5h-0.5z" fill="#fff" fill-opacity="0.4"/>
<path d="M98.48 56.07h0.5v0.5h-0.5zM103.55 56h0.5v0.5h-0.5zM101.77 48.97h0.5v0.5h-0.5zM103.19 48.68h0.5v0.5h-0.5zM87.2 47.82h0.5v0.5h-0.5zM87.73 47.55h0.5v0.5h-0.5zM105.26 48.9h0.5v0.5h-0.5zM98.39 57.15h0.5v0.5h-0.5zM84.5 56.93h0.5v0.5h-0.5zM83.51 58.03h0.5v0.5h-0.5zM89.22 47.82h0.5v0.5h-0.5zM99.66 56.23h0.5v0.5h-0.5zM91.83 47.75h0.5v0.5h-0.5zM83.48 53.32h0.5v0.5h-0.5zM86.15 47.69h0.5v0.5h-0.5zM99.24 49h0.5v0.5h-0.5zM86.48 46.98h0.5v0.5h-0.5zM82.74 56.38h0.5v0.5h-0.5zM107.7 56.22h0.5v0.5h-0.5zM99.34 56.12h0.5v0.5h-0.5zM98.15 56.35h0.5v0.5h-0.5zM86.74 56.66h0.5v0.5h-0.5zM103.84 56.2h0.5v0.5h-0.5zM89.41 47.62h0.5v0.5h-0.5zM93.39 47.55h0.5v0.5h-0.5zM107.81 50.74h0.5v0.5h-0.5zM109.32 54.03h0.5v0.5h-0.5zM107.94 51.05h0.5v0.5h-0.5zM94.51 48.18h0.5v0.5h-0.5zM108.32 55.36h0.5v0.5h-0.5zM82.44 55.02h0.5v0.5h-0.5zM99.25 56.05h0.5v0.5h-0.5zM87.05 56.68h0.5v0.5h-0.5zM83.49 48.07h0.5v0.5h-0.5zM105.01 48.84h0.5v0.5h-0.5zM85.2 56.78h0.5v0.5h-0.5zM83.57 54.04h0.5v0.5h-0.5zM86.83 56.75h0.5v0.5h-0.5zM108.53 51.96h0.5v0.5h-0.5zM83.36 51.09h0.5v0.5h-0.5z" fill="#333"/>
<path d="M100.89 39.26h0.5v0.5h-0.5zM102.75 43.5h0.5v0.5h-0.5zM98.4 41.01h0.5v0.5h-0.5zM102.75 39.45h0.5v0.5h-0.5zM99.45 44.73h0.5v0.5h-0.5zM102.4 39.63h0.5v0.5h-0.5zM101.41 40.52h0.5v0.5h-0.5zM100.98 43.37h0.5v0.5h-0.5zM97.77 39.56h0.5v0.5h-0.5zM98.29 39.86h0.5v0.5h-0.5zM97.21 38.95h0.5v0.5h-0.5zM99.44 40.95h0.5v0.5h-0.5z" fill="#999"/>
<path d="M125.1 48.6 L129 48.4 L133 49 L138 49.6 L142 50.4 L146 50.9 L148.8 51.8 L149.6 54.2 L148 56.2 L142 56.6 L136 57 L130 57.2 L125.1 57.2Z" fill="#000" filter="url(#b)"/>
<path d="M127.01 53.52h0.5v0.5h-0.5zM148.19 53.48h0.5v0.5h-0.5zM133.81 54.6h0.5v0.5h-0.5zM135.81 49.94h0.5v0.5h-0.5zM134.16 56.87h0.5v0.5h-0.5zM143.89 55.75h0.5v0.5h-0.5zM140.83 53.98h0.5v0.5h-0.5zM129.91 55.14h0.5v0.5h-0.5zM132.47 50.65h0.5v0.5h-0.5zM145.23 53.69h0.5v0.5h-0.5zM145.92 56.1h0.5v0.5h-0.5zM139.53 50.15h0.5v0.5h-0.5zM125.47 53.11h0.5v0.5h-0.5zM142.88 50.8h0.5v0.5h-0.5zM129.34 54.52h0.5v0.5h-0.5zM125.2 50.42h0.5v0.5h-0.5zM131.6 54.66h0.5v0.5h-0.5zM127.9 56.62h0.5v0.5h-0.5zM133.32 53h0.5v0.5h-0.5zM132.94 52.07h0.5v0.5h-0.5zM136.83 50.67h0.5v0.5h-0.5zM126.45 49.14h0.5v0.5h-0.5zM129.08 49.2h0.5v0.5h-0.5zM140.39 54.53h0.5v0.5h-0.5zM131.54 55.37h0.5v0.5h-0.5zM142.95 51.41h0.5v0.5h-0.5zM137.15 50.06h0.5v0.5h-0.5zM147.86 53.33h0.5v0.5h-0.5zM126.36 49.75h0.5v0.5h-0.5zM142.07 51.79h0.5v0.5h-0.5z" fill="#fff" fill-opacity="0.4"/>
<path d="M130.3 48.45h0.5v0.5h-0.5zM140.33 56.92h0.5v0.5h-0.5zM138.99 49.13h0.5v0.5h-0.5zM130.85 57.63h0.5v0.5h-0.5zM146.89 56.62h0.5v0.5h-0.5zM125 50.26h0.5v0.5h-0.5zM140.15 57.24h0.5v0.5h-0.5zM134.2 57.11h0.5v0.5h-0.5zM128.69 47.3h0.5v0.5h-0.5zM139.94 57.36h0.5v0.5h-0.5zM135.72 48.71h0.5v0.5h-0.5zM135.37 48.38h0.5v0.5h-0.5zM133.3 57.29h0.5v0.5h-0.5zM148.88 55.53h0.5v0.5h-0.5zM148.59 56.02h0.5v0.5h-0.5zM132.4 48.85h0.5v0.5h-0.5zM142.77 49.65h0.5v0.5h-0.5zM136.68 49.05h0.5v0.5h-0.5zM148.73 51.14h0.5v0.5h-0.5zM127.43 58.04h0.5v0.5h-0.5zM125.02 49.15h0.5v0.5h-0.5zM133.26 48.19h0.5v0.5h-0.5zM137.25 49.23h0.5v0.5h-0.5zM136.52 48.52h0.5v0.5h-0.5zM149.71 53.78h0.5v0.5h-0.5zM147.79 51.42h0.5v0.5h-0.5zM133.68 48.26h0.5v0.5h-0.5zM146.87 50.13h0.5v0.5h-0.5zM135.53 57.71h0.5v0.5h-0.5zM144.47 56.73h0.5v0.5h-0.5zM134.41 48.94h0.5v0.5h-0.5zM143.19 50.39h0.5v0.5h-0.5zM145.74 50.3h0.5v0.5h-0.5zM129.69 57.95h0.5v0.5h-0.5zM138.64 49.37h0.5v0.5h-0.5zM144.94 50.04h0.5v0.5h-0.5zM144.16 50.6h0.5v0.5h-0.5zM132.77 48.2h0.5v0.5h-0.5zM124.62 55.91h0.5v0.5h-0.5zM135.68 57.34h0.5v0.5h-0.5z" fill="#333"/>
<path d="M141.55 38.44h0.5v0.5h-0.5zM142.62 38.76h0.5v0.5h-0.5zM139.51 43.01h0.5v0.5h-0.5zM138.1 40.63h0.5v0.5h-0.5zM138.63 41.31h0.5v0.5h-0.5zM138.08 39.06h0.5v0.5h-0.5zM139.11 38.57h0.5v0.5h-0.5zM138.45 39.36h0.5v0.5h-0.5zM140.59 38.96h0.5v0.5h-0.5zM142.11 40.92h0.5v0.5h-0.5z" fill="#999"/>
<path d="M167.2 49 L172 48.4 L176 48.6 L180 48.2 L182 49 L186 48.8 L192 48.8 L193.5 51 L193 54.8 L186 55.2 L180 54.8 L176 55.5 L167.2 55.3Z" fill="#000" filter="url(#b)"/>
<path d="M173.82 49.96h0.5v0.5h-0.5zM186.72 48.91h0.5v0.5h-0.5zM192.04 51.18h0.5v0.5h-0.5zM182.92 54.5h0.5v0.5h-0.5zM185.44 52.49h0.5v0.5h-0.5zM186.16 50.23h0.5v0.5h-0.5zM180.27 49.56h0.5v0.5h-0.5zM178.7 50.26h0.5v0.5h-0.5zM182.6 50.38h0.5v0.5h-0.5zM174.43 52.89h0.5v0.5h-0.5zM169.45 54.05h0.5v0.5h-0.5zM180.24 49.87h0.5v0.5h-0.5zM170.22 51.91h0.5v0.5h-0.5zM180.45 53.45h0.5v0.5h-0.5zM177.03 51.21h0.5v0.5h-0.5zM190.67 50.2h0.5v0.5h-0.5zM193 54.72h0.5v0.5h-0.5zM173.96 54.14h0.5v0.5h-0.5zM183.29 49.69h0.5v0.5h-0.5zM188.49 52.27h0.5v0.5h-0.5zM169.29 54.5h0.5v0.5h-0.5zM171.81 50.09h0.5v0.5h-0.5zM183.41 49.62h0.5v0.5h-0.5zM179.37 53.41h0.5v0.5h-0.5zM169.72 53.02h0.5v0.5h-0.5z" fill="#fff" fill-opacity="0.4"/>
<path d="M193.54 51.22h0.5v0.5h-0.5zM188.94 55.52h0.5v0.5h-0.5zM188.03 55.08h0.5v0.5h-0.5zM181.02 48.24h0.5v0.5h-0.5zM193.78 49.42h0.5v0.5h-0.5zM180.13 48.05h0.5v0.5h-0.5zM179.64 54.93h0.5v0.5h-0.5zM192.45 54.87h0.5v0.5h-0.5zM187.25 48.07h0.5v0.5h-0.5zM178.8 48.12h0.5v0.5h-0.5zM172.56 48h0.5v0.5h-0.5zM167.13 53.87h0.5v0.5h-0.5zM178.38 56.58h0.5v0.5h-0.5zM170.16 55.38h0.5v0.5h-0.5zM189.17 48.59h0.5v0.5h-0.5zM178.67 55.35h0.5v0.5h-0.5zM184.91 48.01h0.5v0.5h-0.5zM181.06 47.91h0.5v0.5h-0.5zM169.5 48.45h0.5v0.5h-0.5zM184.19 48.61h0.5v0.5h-0.5zM166.89 51.44h0.5v0.5h-0.5zM169.46 55.48h0.5v0.5h-0.5zM192.06 55.71h0.5v0.5h-0.5zM184.56 48.78h0.5v0.5h-0.5zM182.27 55.52h0.5v0.5h-0.5zM193.19 50.16h0.5v0.5h-0.5zM184.05 55.42h0.5v0.5h-0.5zM193.19 54.19h0.5v0.5h-0.5zM177.18 55.82h0.5v0.5h-0.5zM182.69 55.06h0.5v0.5h-0.5z" fill="#333"/>
<path d="M183.34 37.86h0.5v0.5h-0.5zM182.32 44.37h0.5v0.5h-0.5zM184.62 41.07h0.5v0.5h-0.5zM184.05 43.89h0.5v0.5h-0.5zM185.77 41.76h0.5v0.5h-0.5zM181.25 43.97h0.5v0.5h-0.5zM181.82 38.92h0.5v0.5h-0.5zM181.69 41.1h0.5v0.5h-0.5zM183.91 40.68h0.5v0.5h-0.5zM183.35 38.13h0.5v0.5h-0.5z" fill="#aaa"/>
<path d="M209.1 48.6 L216 47.8 L224 48 L231 48 L235.2 48.8 L235.8 51.5 L235 55.2 L226 55.5 L216 55.5 L209.1 55.6Z" fill="#000" filter="url(#b)"/>
<path d="M228.27 51.99h0.5v0.5h-0.5zM217.35 54.3h0.5v0.5h-0.5zM234.17 54.99h0.5v0.5h-0.5zM219.48 51.31h0.5v0.5h-0.5zM215.95 53.6h0.5v0.5h-0.5zM233.26 48.88h0.5v0.5h-0.5zM222.61 55.35h0.5v0.5h-0.5zM232.83 51.32h0.5v0.5h-0.5zM211.9 51.36h0.5v0.5h-0.5zM222.92 53.93h0.5v0.5h-0.5zM214.07 49.98h0.5v0.5h-0.5zM225.41 48.54h0.5v0.5h-0.5zM229.14 51.1h0.5v0.5h-0.5zM233.81 49.54h0.5v0.5h-0.5zM232.53 49.58h0.5v0.5h-0.5zM210.37 48.47h0.5v0.5h-0.5zM211.13 50.83h0.5v0.5h-0.5zM235.05 50.57h0.5v0.5h-0.5zM228.24 48.07h0.5v0.5h-0.5zM222.87 52.01h0.5v0.5h-0.5zM211.72 52.32h0.5v0.5h-0.5zM221.01 50.35h0.5v0.5h-0.5zM231.27 53.19h0.5v0.5h-0.5zM212.31 48.63h0.5v0.5h-0.5zM210.5 49.85h0.5v0.5h-0.5z" fill="#fff" fill-opacity="0.4"/>
<path d="M210.9 48.35h0.5v0.5h-0.5zM235.95 51.6h0.5v0.5h-0.5zM216.24 56.4h0.5v0.5h-0.5zM229.61 47.37h0.5v0.5h-0.5zM217.97 47.02h0.5v0.5h-0.5zM225.15 47.91h0.5v0.5h-0.5zM211.49 56.04h0.5v0.5h-0.5zM228.11 47.6h0.5v0.5h-0.5zM226.34 47.3h0.5v0.5h-0.5zM223.18 47.61h0.5v0.5h-0.5zM214.41 47.7h0.5v0.5h-0.5zM209.21 48.4h0.5v0.5h-0.5zM233 55.47h0.5v0.5h-0.5zM220.35 55.57h0.5v0.5h-0.5zM214.49 47.72h0.5v0.5h-0.5zM232.88 47.96h0.5v0.5h-0.5zM215.51 55.54h0.5v0.5h-0.5zM219.35 56.91h0.5v0.5h-0.5zM225.03 56.15h0.5v0.5h-0.5zM235.4 49.5h0.5v0.5h-0.5zM230.79 47.84h0.5v0.5h-0.5zM213.78 47.42h0.5v0.5h-0.5zM212.46 47.9h0.5v0.5h-0.5zM233.89 48.07h0.5v0.5h-0.5zM208.86 53.04h0.5v0.5h-0.5zM226.46 55.57h0.5v0.5h-0.5zM235.7 50.98h0.5v0.5h-0.5zM222.63 47.63h0.5v0.5h-0.5zM217.16 47.39h0.5v0.5h-0.5zM211.77 55.77h0.5v0.5h-0.5z" fill="#333"/>
<path d="M228.05 38.83h0.5v0.5h-0.5zM229.13 35.47h0.5v0.5h-0.5zM227.76 43.07h0.5v0.5h-0.5zM229.18 42.49h0.5v0.5h-0.5zM225.49 39.12h0.5v0.5h-0.5zM228.79 37.8h0.5v0.5h-0.5zM224.04 34.31h0.5v0.5h-0.5zM223.63 35.41h0.5v0.5h-0.5zM229.43 37.09h0.5v0.5h-0.5zM224.82 43.75h0.5v0.5h-0.5zM227.53 38.34h0.5v0.5h-0.5zM222.84 37.65h0.5v0.5h-0.5zM224.33 43.49h0.5v0.5h-0.5zM225.37 43.73h0.5v0.5h-0.5z" fill="#aaa"/>
<path d="M42.2 92.6 L45 91.3 L50 91.6 L52.5 92.8 L56 92.8 L58.5 91.8 L62.5 91.4 L65.2 92.6 L65.4 97.5 L63.5 99.2 L57 99.1 L53.5 98.4 L50 99.4 L44 99.6 L42.2 98.6Z" fill="#000" filter="url(#b)"/>
<path d="M45.31 84.33h0.5v0.5h-0.5zM47.2 84.53h0.5v0.5h-0.5zM46.86 88.17h0.5v0.5h-0.5zM45.35 89.84h0.5v0.5h-0.5zM45.79 90.88h0.5v0.5h-0.5zM46.17 90.61h0.5v0.5h-0.5zM47.29 86.63h0.5v0.5h-0.5zM46.57 89.1h0.5v0.5h-0.5zM46.47 84.16h0.5v0.5h-0.5zM46.56 89.33h0.5v0.5h-0.5z" fill="#999"/>
<path d="M58.77 82.86h0.5v0.5h-0.5zM58.27 86.9h0.5v0.5h-0.5zM58.42 89.63h0.5v0.5h-0.5zM59.66 90.96h0.5v0.5h-0.5zM60.94 85.85h0.5v0.5h-0.5zM58.73 85.84h0.5v0.5h-0.5zM60.43 89.75h0.5v0.5h-0.5zM61.57 84.92h0.5v0.5h-0.5zM58.09 87.98h0.5v0.5h-0.5zM60.75 87.83h0.5v0.5h-0.5z" fill="#999"/>
<path d="M83.8 91.6 L88 91.2 L92 91.6 L93.4 93.4 L100 93.6 L106 93.8 L107.8 95 L107.9 97.6 L106 98.4 L98 98.6 L93 99.2 L90 100.2 L83.8 100.4Z" fill="#000" filter="url(#b)"/>
<path d="M125.3 93.2 L130 92.8 L134 93.6 L138 94.8 L142 95.6 L146 96 L147.4 97.5 L146.8 100 L142 100.8 L136 101.1 L130 101.3 L125.3 101.3Z" fill="#000" filter="url(#b)"/>
<path d="M143.05 99.7h0.5v0.5h-0.5zM139.12 99.78h0.5v0.5h-0.5zM128.06 100.84h0.5v0.5h-0.5zM129.02 98.25h0.5v0.5h-0.5zM132.06 100.77h0.5v0.5h-0.5zM131.46 96.93h0.5v0.5h-0.5zM136.43 100.79h0.5v0.5h-0.5zM132.02 100.38h0.5v0.5h-0.5zM141.29 97.64h0.5v0.5h-0.5zM141.86 97.44h0.5v0.5h-0.5zM126.27 94.68h0.5v0.5h-0.5zM139.51 95.75h0.5v0.5h-0.5zM133.86 99.79h0.5v0.5h-0.5zM143.88 99.15h0.5v0.5h-0.5zM135.17 97.36h0.5v0.5h-0.5zM127.89 98.4h0.5v0.5h-0.5zM129.64 99.2h0.5v0.5h-0.5zM143.01 96.82h0.5v0.5h-0.5zM133.53 98.78h0.5v0.5h-0.5zM133.39 94.22h0.5v0.5h-0.5zM139.25 98.27h0.5v0.5h-0.5zM129.7 98.13h0.5v0.5h-0.5zM137.44 98.03h0.5v0.5h-0.5zM129.39 96.85h0.5v0.5h-0.5zM143.78 98.05h0.5v0.5h-0.5zM130.69 95.64h0.5v0.5h-0.5zM135.87 97.16h0.5v0.5h-0.5zM127.65 99.96h0.5v0.5h-0.5zM135.36 95.28h0.5v0.5h-0.5zM127.1 99.84h0.5v0.5h-0.5z" fill="#fff" fill-opacity="0.4"/>
<path d="M143.37 95.06h0.5v0.5h-0.5zM147.86 97.5h0.5v0.5h-0.5zM138.19 101.11h0.5v0.5h-0.5zM137.86 94.75h0.5v0.5h-0.5zM135.1 93.22h0.5v0.5h-0.5zM147.13 98.84h0.5v0.5h-0.5zM140.88 94.99h0.5v0.5h-0.5zM147.7 96.97h0.5v0.5h-0.5zM130.45 92.43h0.5v0.5h-0.5zM131.22 101.38h0.5v0.5h-0.5zM125.3 97.18h0.5v0.5h-0.5zM131.6 92.83h0.5v0.5h-0.5zM137.1 101.09h0.5v0.5h-0.5zM140.21 101.97h0.5v0.5h-0.5zM142.51 101.28h0.5v0.5h-0.5zM125.23 96.2h0.5v0.5h-0.5zM137.42 94.38h0.5v0.5h-0.5zM145.47 100.22h0.5v0.5h-0.5zM146.18 100.18h0.5v0.5h-0.5zM125.02 101.17h0.5v0.5h-0.5zM136.01 93.92h0.5v0.5h-0.5zM134.64 101.23h0.5v0.5h-0.5zM143.42 95.55h0.5v0.5h-0.5zM125.53 101.5h0.5v0.5h-0.5zM138.35 94.25h0.5v0.5h-0.5zM129.02 101.36h0.5v0.5h-0.5zM145.91 100.19h0.5v0.5h-0.5zM145.18 100.98h0.5v0.5h-0.5zM137.84 94.23h0.5v0.5h-0.5zM137.38 101.18h0.5v0.5h-0.5zM132.36 102.23h0.5v0.5h-0.5zM130.98 102.42h0.5v0.5h-0.5zM147.58 100.08h0.5v0.5h-0.5zM142.95 95.12h0.5v0.5h-0.5zM145.4 100.76h0.5v0.5h-0.5zM147.11 96.78h0.5v0.5h-0.5zM137.39 94.25h0.5v0.5h-0.5zM141.95 95.35h0.5v0.5h-0.5zM128.8 92.86h0.5v0.5h-0.5zM132.58 101.84h0.5v0.5h-0.5z" fill="#333"/>
<path d="M167.1 93.4 L174 92.8 L182 93 L190 92.8 L193.6 93.8 L193.8 97 L190 98.3 L180 98 L172 98.4 L167.1 98.2Z" fill="#000" filter="url(#b)"/>
<path d="M170.42 96.16h0.5v0.5h-0.5zM174.36 94.11h0.5v0.5h-0.5zM175.21 95.02h0.5v0.5h-0.5zM184.29 95.08h0.5v0.5h-0.5zM190.09 93.67h0.5v0.5h-0.5zM189.94 95.24h0.5v0.5h-0.5zM188.26 95.01h0.5v0.5h-0.5zM173.97 97.81h0.5v0.5h-0.5zM184.1 96.84h0.5v0.5h-0.5zM181.05 96.78h0.5v0.5h-0.5zM192.64 96.95h0.5v0.5h-0.5zM192.97 94.76h0.5v0.5h-0.5zM175.05 97.75h0.5v0.5h-0.5zM189.37 97.78h0.5v0.5h-0.5zM178.73 95.12h0.5v0.5h-0.5zM192.39 93.93h0.5v0.5h-0.5zM171.54 93.76h0.5v0.5h-0.5zM175.18 95.14h0.5v0.5h-0.5zM177.33 95.38h0.5v0.5h-0.5zM168.04 94.71h0.5v0.5h-0.5zM180.67 93.1h0.5v0.5h-0.5zM179.96 97.87h0.5v0.5h-0.5zM184.54 98.1h0.5v0.5h-0.5zM190.06 95.57h0.5v0.5h-0.5zM182.48 97.52h0.5v0.5h-0.5zM175.96 93.54h0.5v0.5h-0.5zM187.37 95.82h0.5v0.5h-0.5zM179.59 93.52h0.5v0.5h-0.5zM181.89 96.01h0.5v0.5h-0.5zM186.07 97.85h0.5v0.5h-0.5z" fill="#fff" fill-opacity="0.4"/>
<path d="M193.83 96.22h0.5v0.5h-0.5zM186.25 98.49h0.5v0.5h-0.5zM172.53 92.41h0.5v0.5h-0.5zM173.21 98.71h0.5v0.5h-0.5zM173.37 98.67h0.5v0.5h-0.5zM183.75 98.47h0.5v0.5h-0.5zM168.98 92.94h0.5v0.5h-0.5zM175.45 92.75h0.5v0.5h-0.5zM192.53 98.08h0.5v0.5h-0.5zM184 98.73h0.5v0.5h-0.5zM167.02 93h0.5v0.5h-0.5zM166.69 92.1h0.5v0.5h-0.5zM192.29 97.69h0.5v0.5h-0.5zM181.07 98.55h0.5v0.5h-0.5zM185.33 92.48h0.5v0.5h-0.5zM193.66 94.01h0.5v0.5h-0.5zM178.39 92.73h0.5v0.5h-0.5zM193.91 96.29h0.5v0.5h-0.5zM191.41 98.54h0.5v0.5h-0.5zM169.9 92.88h0.5v0.5h-0.5zM173.71 99.16h0.5v0.5h-0.5zM166.87 95.59h0.5v0.5h-0.5zM190.9 98.38h0.5v0.5h-0.5zM183.29 99h0.5v0.5h-0.5zM166.81 94.1h0.5v0.5h-0.5zM190.57 92.77h0.5v0.5h-0.5zM166.22 96.33h0.5v0.5h-0.5zM182.3 99.73h0.5v0.5h-0.5zM169.92 92.84h0.5v0.5h-0.5zM174.9 98.42h0.5v0.5h-0.5zM170.42 92.74h0.5v0.5h-0.5zM169.3 91.94h0.5v0.5h-0.5zM181.24 92.53h0.5v0.5h-0.5zM179.3 98.16h0.5v0.5h-0.5zM171.25 92.06h0.5v0.5h-0.5zM180.95 98.04h0.5v0.5h-0.5zM174.81 92.72h0.5v0.5h-0.5zM187.07 98.23h0.5v0.5h-0.5zM165.54 97.37h0.5v0.5h-0.5zM172.65 92.75h0.5v0.5h-0.5z" fill="#333"/>
<path d="M209.1 93.2 L216 92.4 L224 92.6 L232 92.4 L236.2 93.4 L236.4 97.8 L232 98.8 L222 98.4 L214 98.9 L209.1 98.6Z" fill="#000" filter="url(#b)"/>
<path d="M226.26 97.33h0.5v0.5h-0.5zM226.47 93.35h0.5v0.5h-0.5zM216.07 96.18h0.5v0.5h-0.5zM229.68 95.13h0.5v0.5h-0.5zM228.07 94.57h0.5v0.5h-0.5zM217.7 93.5h0.5v0.5h-0.5zM220.4 96.17h0.5v0.5h-0.5zM212.1 98.45h0.5v0.5h-0.5zM209.33 97.15h0.5v0.5h-0.5zM218.57 98.5h0.5v0.5h-0.5zM216.92 92.57h0.5v0.5h-0.5zM227.95 94.86h0.5v0.5h-0.5zM231.43 96.73h0.5v0.5h-0.5zM221.14 96.7h0.5v0.5h-0.5zM227.7 94.54h0.5v0.5h-0.5zM214.42 96.65h0.5v0.5h-0.5zM224.64 92.71h0.5v0.5h-0.5zM213.52 95.2h0.5v0.5h-0.5zM211.56 95.81h0.5v0.5h-0.5zM219.89 94.32h0.5v0.5h-0.5zM229.59 97.2h0.5v0.5h-0.5zM210.93 96.28h0.5v0.5h-0.5zM236.2 96.34h0.5v0.5h-0.5zM235.99 93.91h0.5v0.5h-0.5zM215.13 94.53h0.5v0.5h-0.5zM215.5 93.44h0.5v0.5h-0.5zM216.05 95.66h0.5v0.5h-0.5zM231.26 97.42h0.5v0.5h-0.5zM210.19 97.38h0.5v0.5h-0.5zM226.52 94.13h0.5v0.5h-0.5z" fill="#fff" fill-opacity="0.4"/>
<path d="M208.87 93.2h0.5v0.5h-0.5zM215.92 92.23h0.5v0.5h-0.5zM210.95 92.06h0.5v0.5h-0.5zM236.69 96.96h0.5v0.5h-0.5zM236.92 97.06h0.5v0.5h-0.5zM215.79 98.87h0.5v0.5h-0.5zM227.92 99.09h0.5v0.5h-0.5zM209.79 98.92h0.5v0.5h-0.5zM225.65 92.02h0.5v0.5h-0.5zM229.82 92.45h0.5v0.5h-0.5zM208.52 93.14h0.5v0.5h-0.5zM222.89 98.85h0.5v0.5h-0.5zM230.7 91.35h0.5v0.5h-0.5zM208.94 92.46h0.5v0.5h-0.5zM210.87 91.48h0.5v0.5h-0.5zM217.07 98.95h0.5v0.5h-0.5zM224.98 91.68h0.5v0.5h-0.5zM213.19 99.15h0.5v0.5h-0.5zM236.36 94.22h0.5v0.5h-0.5zM230.56 98.9h0.5v0.5h-0.5zM208.8 94.75h0.5v0.5h-0.5zM223.72 98.57h0.5v0.5h-0.5zM226.6 92.13h0.5v0.5h-0.5zM212.85 99.38h0.5v0.5h-0.5zM216.19 92.31h0.5v0.5h-0.5zM227.63 92.39h0.5v0.5h-0.5zM207.97 97.7h0.5v0.5h-0.5zM216.4 98.86h0.5v0.5h-0.5zM236.4 98.32h0.5v0.5h-0.5zM211.42 99.72h0.5v0.5h-0.5zM214.6 92.24h0.5v0.5h-0.5zM228.57 99.58h0.5v0.5h-0.5zM215.75 92.1h0.5v0.5h-0.5zM210.82 92.69h0.5v0.5h-0.5zM214.66 91.74h0.5v0.5h-0.5zM208.78 94.04h0.5v0.5h-0.5zM208.49 99.18h0.5v0.5h-0.5zM211.85 92.52h0.5v0.5h-0.5zM223.87 98.88h0.5v0.5h-0.5zM227.81 98.8h0.5v0.5h-0.5z" fill="#333"/>
<text x="263.2" y="9.1" font-size="11.2" text-anchor="start" font-weight="bold" fill="#000" textLength="6.8" lengthAdjust="spacingAndGlyphs" stroke="#000" stroke-width="0.3">B</text>
<text x="311" y="13.7" font-size="4.6" text-anchor="middle" font-weight="bold" fill="#000" textLength="6.3" lengthAdjust="spacingAndGlyphs"  stroke="#000" stroke-width="0.14">ND</text>
<text x="430.6" y="6.1" font-size="5.0" text-anchor="middle" font-weight="bold" fill="#000" textLength="8.4" lengthAdjust="spacingAndGlyphs"  stroke="#000" stroke-width="0.14">Pt 2</text>
<line x1="341.4" y1="9.3" x2="515.6" y2="9.3" stroke="#222" stroke-width="1.0" />
<text x="357.9" y="13.8" font-size="4.0" text-anchor="middle" font-weight="bold" fill="#000" textLength="12.2" lengthAdjust="spacingAndGlyphs"  stroke="#000" stroke-width="0.14">Day 56</text>
<text x="407.9" y="13.8" font-size="4.0" text-anchor="middle" font-weight="bold" fill="#000" textLength="11.4" lengthAdjust="spacingAndGlyphs"  stroke="#000" stroke-width="0.14">Day 80</text>
<text x="449.6" y="13.8" font-size="4.0" text-anchor="middle" font-weight="bold" fill="#000" textLength="15" lengthAdjust="spacingAndGlyphs"  stroke="#000" stroke-width="0.14">Day 180</text>
<text x="495.3" y="13.8" font-size="4.0" text-anchor="middle" font-weight="bold" fill="#000" textLength="13.4" lengthAdjust="spacingAndGlyphs"  stroke="#000" stroke-width="0.14">Day 365</text>
<line x1="283.7" y1="22" x2="283.7" y2="104.4" stroke="#808080" stroke-width="1.5" />
<path d="M281.4 23.4 L283.7 19.3 L286 23.4Z" fill="#111" />
<text x="264.2" y="37.8" font-size="3.9" text-anchor="start" font-weight="bold" fill="#000" textLength="10.9" lengthAdjust="spacingAndGlyphs"  stroke="#000" stroke-width="0.14">NV398</text>
<text x="264.1" y="43" font-size="3.9" text-anchor="start" font-weight="bold" fill="#000" textLength="12.4" lengthAdjust="spacingAndGlyphs"  stroke="#000" stroke-width="0.14">infected</text>
<text x="266" y="62.7" font-size="4.6" text-anchor="start" font-weight="bold" fill="#000" textLength="11.2" lengthAdjust="spacingAndGlyphs"  stroke="#000" stroke-width="0.14">IFN&#947;</text>
<text x="265" y="82.5" font-size="3.9" text-anchor="start" font-weight="bold" fill="#000" textLength="8.9" lengthAdjust="spacingAndGlyphs"  stroke="#000" stroke-width="0.14">Mock</text>
<text x="265" y="87.4" font-size="3.9" text-anchor="start" font-weight="bold" fill="#000" textLength="11.9" lengthAdjust="spacingAndGlyphs"  stroke="#000" stroke-width="0.14">infected</text>
<line x1="289.4" y1="110.5" x2="511" y2="110.5" stroke="#2a2a2a" stroke-width="0.85" />
<path d="M510.2 108.7 L514 110.5 L510.2 112.4Z" fill="#111" />
<text x="413.5" y="121.5" font-size="4.8" text-anchor="middle" font-weight="bold" fill="#000" textLength="9.9" lengthAdjust="spacingAndGlyphs"  stroke="#000" stroke-width="0.14">CD8</text>
<text x="504.1" y="62.1" font-size="3.9" text-anchor="middle" font-weight="bold" fill="#000" textLength="10.2" lengthAdjust="spacingAndGlyphs"  stroke="#000" stroke-width="0.14">Pt 2*</text>
<rect x="294.1" y="20.9" width="36.9" height="36" fill="none" stroke="#a0a0a0" stroke-width="0.7" />
<line x1="308.6" y1="20.9" x2="308.6" y2="56.9" stroke="#a0a0a0" stroke-width="0.6" />
<line x1="294.1" y1="47.2" x2="331" y2="47.2" stroke="#a0a0a0" stroke-width="0.6" />
<text x="328.1" y="28" font-size="6.4" text-anchor="end" font-weight="bold" fill="#111" textLength="10" lengthAdjust="spacingAndGlyphs"  stroke="#111" stroke-width="0.14">21.4</text>
<path d="M291.1 24.48l1.7 -1.4 0.7 0.55 -1.7 1.4z" fill="#000"/>
<path d="M291.1 32.4l1.7 -1.4 0.7 0.55 -1.7 1.4z" fill="#000"/>
<path d="M291.1 40.32l1.7 -1.4 0.7 0.55 -1.7 1.4z" fill="#000"/>
<path d="M291.1 50.22l1.7 -1.4 0.7 0.55 -1.7 1.4z" fill="#000"/>
<path d="M291.1 54l1.7 -1.4 0.7 0.55 -1.7 1.4z" fill="#000"/>
<path d="M296.42 60.6l1.7 -1.4 0.7 0.55 -1.7 1.4z" fill="#000"/>
<path d="M300.48 60.6l1.7 -1.4 0.7 0.55 -1.7 1.4z" fill="#000"/>
<path d="M309.34 60.6l1.7 -1.4 0.7 0.55 -1.7 1.4z" fill="#000"/>
<path d="M317.82 60.6l1.7 -1.4 0.7 0.55 -1.7 1.4z" fill="#000"/>
<path d="M326.31 60.6l1.7 -1.4 0.7 0.55 -1.7 1.4z" fill="#000"/>
<rect x="294.1" y="68.4" width="36.9" height="35.2" fill="none" stroke="#a0a0a0" stroke-width="0.7" />
<line x1="308.6" y1="68.4" x2="308.6" y2="103.6" stroke="#a0a0a0" stroke-width="0.6" />
<line x1="294.1" y1="94" x2="331" y2="94" stroke="#a0a0a0" stroke-width="0.6" />
<text x="327.5" y="74.5" font-size="5.3" text-anchor="end" font-weight="bold" fill="#111" textLength="9.4" lengthAdjust="spacingAndGlyphs"  stroke="#111" stroke-width="0.14">0.18</text>
<path d="M291.1 71.92l1.7 -1.4 0.7 0.55 -1.7 1.4z" fill="#000"/>
<path d="M291.1 79.66l1.7 -1.4 0.7 0.55 -1.7 1.4z" fill="#000"/>
<path d="M291.1 87.4l1.7 -1.4 0.7 0.55 -1.7 1.4z" fill="#000"/>
<path d="M291.1 97.08l1.7 -1.4 0.7 0.55 -1.7 1.4z" fill="#000"/>
<path d="M291.1 100.78l1.7 -1.4 0.7 0.55 -1.7 1.4z" fill="#000"/>
<path d="M296.42 107.3l1.7 -1.4 0.7 0.55 -1.7 1.4z" fill="#000"/>
<path d="M300.48 107.3l1.7 -1.4 0.7 0.55 -1.7 1.4z" fill="#000"/>
<path d="M309.34 107.3l1.7 -1.4 0.7 0.55 -1.7 1.4z" fill="#000"/>
<path d="M317.82 107.3l1.7 -1.4 0.7 0.55 -1.7 1.4z" fill="#000"/>
<path d="M326.31 107.3l1.7 -1.4 0.7 0.55 -1.7 1.4z" fill="#000"/>
<rect x="342.2" y="20.9" width="35.9" height="36" fill="none" stroke="#a0a0a0" stroke-width="0.7" />
<line x1="357.1" y1="20.9" x2="357.1" y2="56.9" stroke="#a0a0a0" stroke-width="0.6" />
<line x1="342.2" y1="45.6" x2="378.1" y2="45.6" stroke="#a0a0a0" stroke-width="0.6" />
<text x="376.8" y="28" font-size="6.4" text-anchor="end" font-weight="bold" fill="#111" textLength="10.1" lengthAdjust="spacingAndGlyphs"  stroke="#111" stroke-width="0.14">8.87</text>
<path d="M339.2 21.6l1.7 -1.4 0.7 0.55 -1.7 1.4z" fill="#000"/>
<path d="M339.2 30.6l1.7 -1.4 0.7 0.55 -1.7 1.4z" fill="#000"/>
<path d="M339.2 39.6l1.7 -1.4 0.7 0.55 -1.7 1.4z" fill="#000"/>
<path d="M339.2 48.6l1.7 -1.4 0.7 0.55 -1.7 1.4z" fill="#000"/>
<path d="M339.2 57.24l1.7 -1.4 0.7 0.55 -1.7 1.4z" fill="#000"/>
<path d="M341.56 60.6l1.7 -1.4 0.7 0.55 -1.7 1.4z" fill="#000"/>
<path d="M350.18 60.6l1.7 -1.4 0.7 0.55 -1.7 1.4z" fill="#000"/>
<path d="M359.15 60.6l1.7 -1.4 0.7 0.55 -1.7 1.4z" fill="#000"/>
<path d="M368.12 60.6l1.7 -1.4 0.7 0.55 -1.7 1.4z" fill="#000"/>
<path d="M376.38 60.6l1.7 -1.4 0.7 0.55 -1.7 1.4z" fill="#000"/>
<rect x="342.2" y="68.4" width="35.9" height="35.2" fill="none" stroke="#a0a0a0" stroke-width="0.7" />
<line x1="357.1" y1="68.4" x2="357.1" y2="103.6" stroke="#a0a0a0" stroke-width="0.6" />
<line x1="342.2" y1="91.9" x2="378.1" y2="91.9" stroke="#a0a0a0" stroke-width="0.6" />
<text x="374.3" y="74.5" font-size="5.3" text-anchor="end" font-weight="bold" fill="#111" textLength="2.4" lengthAdjust="spacingAndGlyphs"  stroke="#111" stroke-width="0.14">0</text>
<path d="M339.2 69.1l1.7 -1.4 0.7 0.55 -1.7 1.4z" fill="#000"/>
<path d="M339.2 77.9l1.7 -1.4 0.7 0.55 -1.7 1.4z" fill="#000"/>
<path d="M339.2 86.7l1.7 -1.4 0.7 0.55 -1.7 1.4z" fill="#000"/>
<path d="M339.2 95.5l1.7 -1.4 0.7 0.55 -1.7 1.4z" fill="#000"/>
<path d="M339.2 103.95l1.7 -1.4 0.7 0.55 -1.7 1.4z" fill="#000"/>
<path d="M341.56 107.3l1.7 -1.4 0.7 0.55 -1.7 1.4z" fill="#000"/>
<path d="M350.18 107.3l1.7 -1.4 0.7 0.55 -1.7 1.4z" fill="#000"/>
<path d="M359.15 107.3l1.7 -1.4 0.7 0.55 -1.7 1.4z" fill="#000"/>
<path d="M368.12 107.3l1.7 -1.4 0.7 0.55 -1.7 1.4z" fill="#000"/>
<path d="M376.38 107.3l1.7 -1.4 0.7 0.55 -1.7 1.4z" fill="#000"/>
<rect x="390.3" y="20.9" width="36.1" height="36" fill="none" stroke="#a0a0a0" stroke-width="0.7" />
<line x1="404.5" y1="20.9" x2="404.5" y2="56.9" stroke="#a0a0a0" stroke-width="0.6" />
<line x1="390.3" y1="45.5" x2="426.4" y2="45.5" stroke="#a0a0a0" stroke-width="0.6" />
<text x="425.3" y="28" font-size="6.4" text-anchor="end" font-weight="bold" fill="#111" textLength="13.5" lengthAdjust="spacingAndGlyphs"  stroke="#111" stroke-width="0.14">17.13</text>
<path d="M387.3 21.6l1.7 -1.4 0.7 0.55 -1.7 1.4z" fill="#000"/>
<path d="M387.3 30.6l1.7 -1.4 0.7 0.55 -1.7 1.4z" fill="#000"/>
<path d="M387.3 39.6l1.7 -1.4 0.7 0.55 -1.7 1.4z" fill="#000"/>
<path d="M387.3 48.6l1.7 -1.4 0.7 0.55 -1.7 1.4z" fill="#000"/>
<path d="M387.3 57.24l1.7 -1.4 0.7 0.55 -1.7 1.4z" fill="#000"/>
<path d="M389.66 60.6l1.7 -1.4 0.7 0.55 -1.7 1.4z" fill="#000"/>
<path d="M398.32 60.6l1.7 -1.4 0.7 0.55 -1.7 1.4z" fill="#000"/>
<path d="M407.35 60.6l1.7 -1.4 0.7 0.55 -1.7 1.4z" fill="#000"/>
<path d="M416.38 60.6l1.7 -1.4 0.7 0.55 -1.7 1.4z" fill="#000"/>
<path d="M424.68 60.6l1.7 -1.4 0.7 0.55 -1.7 1.4z" fill="#000"/>
<rect x="390.3" y="68.4" width="36.1" height="35.2" fill="none" stroke="#a0a0a0" stroke-width="0.7" />
<line x1="404.5" y1="68.4" x2="404.5" y2="103.6" stroke="#a0a0a0" stroke-width="0.6" />
<line x1="390.3" y1="92.7" x2="426.4" y2="92.7" stroke="#a0a0a0" stroke-width="0.6" />
<text x="423.5" y="74.5" font-size="5.3" text-anchor="end" font-weight="bold" fill="#111" textLength="10.8" lengthAdjust="spacingAndGlyphs"  stroke="#111" stroke-width="0.14">0.05</text>
<path d="M387.3 69.1l1.7 -1.4 0.7 0.55 -1.7 1.4z" fill="#000"/>
<path d="M387.3 77.9l1.7 -1.4 0.7 0.55 -1.7 1.4z" fill="#000"/>
<path d="M387.3 86.7l1.7 -1.4 0.7 0.55 -1.7 1.4z" fill="#000"/>
<path d="M387.3 95.5l1.7 -1.4 0.7 0.55 -1.7 1.4z" fill="#000"/>
<path d="M387.3 103.95l1.7 -1.4 0.7 0.55 -1.7 1.4z" fill="#000"/>
<path d="M389.66 107.3l1.7 -1.4 0.7 0.55 -1.7 1.4z" fill="#000"/>
<path d="M398.32 107.3l1.7 -1.4 0.7 0.55 -1.7 1.4z" fill="#000"/>
<path d="M407.35 107.3l1.7 -1.4 0.7 0.55 -1.7 1.4z" fill="#000"/>
<path d="M416.38 107.3l1.7 -1.4 0.7 0.55 -1.7 1.4z" fill="#000"/>
<path d="M424.68 107.3l1.7 -1.4 0.7 0.55 -1.7 1.4z" fill="#000"/>
<rect x="436.3" y="20.9" width="36.4" height="36" fill="none" stroke="#a0a0a0" stroke-width="0.7" />
<line x1="450.7" y1="20.9" x2="450.7" y2="56.9" stroke="#a0a0a0" stroke-width="0.6" />
<line x1="436.3" y1="45.3" x2="472.7" y2="45.3" stroke="#a0a0a0" stroke-width="0.6" />
<text x="471.5" y="28" font-size="6.4" text-anchor="end" font-weight="bold" fill="#111" textLength="11.4" lengthAdjust="spacingAndGlyphs"  stroke="#111" stroke-width="0.14">17.8</text>
<path d="M433.3 21.6l1.7 -1.4 0.7 0.55 -1.7 1.4z" fill="#000"/>
<path d="M433.3 30.6l1.7 -1.4 0.7 0.55 -1.7 1.4z" fill="#000"/>
<path d="M433.3 39.6l1.7 -1.4 0.7 0.55 -1.7 1.4z" fill="#000"/>
<path d="M433.3 48.6l1.7 -1.4 0.7 0.55 -1.7 1.4z" fill="#000"/>
<path d="M433.3 57.24l1.7 -1.4 0.7 0.55 -1.7 1.4z" fill="#000"/>
<path d="M435.66 60.6l1.7 -1.4 0.7 0.55 -1.7 1.4z" fill="#000"/>
<path d="M444.4 60.6l1.7 -1.4 0.7 0.55 -1.7 1.4z" fill="#000"/>
<path d="M453.5 60.6l1.7 -1.4 0.7 0.55 -1.7 1.4z" fill="#000"/>
<path d="M462.6 60.6l1.7 -1.4 0.7 0.55 -1.7 1.4z" fill="#000"/>
<path d="M470.97 60.6l1.7 -1.4 0.7 0.55 -1.7 1.4z" fill="#000"/>
<rect x="436.3" y="68.4" width="36.4" height="35.2" fill="none" stroke="#a0a0a0" stroke-width="0.7" />
<line x1="450.7" y1="68.4" x2="450.7" y2="103.6" stroke="#a0a0a0" stroke-width="0.6" />
<line x1="436.3" y1="92.3" x2="472.7" y2="92.3" stroke="#a0a0a0" stroke-width="0.6" />
<text x="470" y="74.5" font-size="5.3" text-anchor="end" font-weight="bold" fill="#111" textLength="9.5" lengthAdjust="spacingAndGlyphs"  stroke="#111" stroke-width="0.14">0.01</text>
<path d="M433.3 69.1l1.7 -1.4 0.7 0.55 -1.7 1.4z" fill="#000"/>
<path d="M433.3 77.9l1.7 -1.4 0.7 0.55 -1.7 1.4z" fill="#000"/>
<path d="M433.3 86.7l1.7 -1.4 0.7 0.55 -1.7 1.4z" fill="#000"/>
<path d="M433.3 95.5l1.7 -1.4 0.7 0.55 -1.7 1.4z" fill="#000"/>
<path d="M433.3 103.95l1.7 -1.4 0.7 0.55 -1.7 1.4z" fill="#000"/>
<path d="M435.66 107.3l1.7 -1.4 0.7 0.55 -1.7 1.4z" fill="#000"/>
<path d="M444.4 107.3l1.7 -1.4 0.7 0.55 -1.7 1.4z" fill="#000"/>
<path d="M453.5 107.3l1.7 -1.4 0.7 0.55 -1.7 1.4z" fill="#000"/>
<path d="M462.6 107.3l1.7 -1.4 0.7 0.55 -1.7 1.4z" fill="#000"/>
<path d="M470.97 107.3l1.7 -1.4 0.7 0.55 -1.7 1.4z" fill="#000"/>
<rect x="481.3" y="20.9" width="37.1" height="36" fill="none" stroke="#a0a0a0" stroke-width="0.7" />
<line x1="496.7" y1="20.9" x2="496.7" y2="56.9" stroke="#a0a0a0" stroke-width="0.6" />
<line x1="481.3" y1="45.3" x2="518.4" y2="45.3" stroke="#a0a0a0" stroke-width="0.6" />
<text x="516.1" y="28" font-size="6.4" text-anchor="end" font-weight="bold" fill="#111" textLength="10.3" lengthAdjust="spacingAndGlyphs"  stroke="#111" stroke-width="0.14">25.4</text>
<path d="M478.3 21.6l1.7 -1.4 0.7 0.55 -1.7 1.4z" fill="#000"/>
<path d="M478.3 30.6l1.7 -1.4 0.7 0.55 -1.7 1.4z" fill="#000"/>
<path d="M478.3 39.6l1.7 -1.4 0.7 0.55 -1.7 1.4z" fill="#000"/>
<path d="M478.3 48.6l1.7 -1.4 0.7 0.55 -1.7 1.4z" fill="#000"/>
<path d="M478.3 57.24l1.7 -1.4 0.7 0.55 -1.7 1.4z" fill="#000"/>
<path d="M480.67 60.6l1.7 -1.4 0.7 0.55 -1.7 1.4z" fill="#000"/>
<path d="M489.57 60.6l1.7 -1.4 0.7 0.55 -1.7 1.4z" fill="#000"/>
<path d="M498.85 60.6l1.7 -1.4 0.7 0.55 -1.7 1.4z" fill="#000"/>
<path d="M508.12 60.6l1.7 -1.4 0.7 0.55 -1.7 1.4z" fill="#000"/>
<path d="M516.66 60.6l1.7 -1.4 0.7 0.55 -1.7 1.4z" fill="#000"/>
<rect x="481.3" y="68.4" width="37.1" height="35.2" fill="none" stroke="#a0a0a0" stroke-width="0.7" />
<line x1="496.7" y1="68.4" x2="496.7" y2="103.6" stroke="#a0a0a0" stroke-width="0.6" />
<line x1="481.3" y1="92.3" x2="518.4" y2="92.3" stroke="#a0a0a0" stroke-width="0.6" />
<text x="516" y="74.5" font-size="5.3" text-anchor="end" font-weight="bold" fill="#111" textLength="10.1" lengthAdjust="spacingAndGlyphs"  stroke="#111" stroke-width="0.14">0.03</text>
<path d="M478.3 69.1l1.7 -1.4 0.7 0.55 -1.7 1.4z" fill="#000"/>
<path d="M478.3 77.9l1.7 -1.4 0.7 0.55 -1.7 1.4z" fill="#000"/>
<path d="M478.3 86.7l1.7 -1.4 0.7 0.55 -1.7 1.4z" fill="#000"/>
<path d="M478.3 95.5l1.7 -1.4 0.7 0.55 -1.7 1.4z" fill="#000"/>
<path d="M478.3 103.95l1.7 -1.4 0.7 0.55 -1.7 1.4z" fill="#000"/>
<path d="M480.67 107.3l1.7 -1.4 0.7 0.55 -1.7 1.4z" fill="#000"/>
<path d="M489.57 107.3l1.7 -1.4 0.7 0.55 -1.7 1.4z" fill="#000"/>
<path d="M498.85 107.3l1.7 -1.4 0.7 0.55 -1.7 1.4z" fill="#000"/>
<path d="M508.12 107.3l1.7 -1.4 0.7 0.55 -1.7 1.4z" fill="#000"/>
<path d="M516.66 107.3l1.7 -1.4 0.7 0.55 -1.7 1.4z" fill="#000"/>
<path d="M309.52 42.68h0.5v0.5h-0.5zM311.74 45.13h0.5v0.5h-0.5zM316.4 42.12h0.5v0.5h-0.5zM309.31 42.14h0.5v0.5h-0.5zM307.94 44.03h0.5v0.5h-0.5zM316.75 42.87h0.5v0.5h-0.5zM316.82 39.27h0.5v0.5h-0.5zM309.17 42.86h0.5v0.5h-0.5zM301.73 48.26h0.5v0.5h-0.5zM303.14 47.77h0.5v0.5h-0.5zM305.32 43.93h0.5v0.5h-0.5zM308.15 42.18h0.5v0.5h-0.5zM311.83 39.39h0.5v0.5h-0.5zM311.1 46.23h0.5v0.5h-0.5zM316.11 42.52h0.5v0.5h-0.5zM315.94 39.97h0.5v0.5h-0.5zM307.07 43.59h0.5v0.5h-0.5zM312.28 39.83h0.5v0.5h-0.5zM309.59 42.5h0.5v0.5h-0.5zM316.46 39.71h0.5v0.5h-0.5zM314.95 46.55h0.5v0.5h-0.5zM301.72 45.52h0.5v0.5h-0.5zM312.8 46.68h0.5v0.5h-0.5zM313.3 39.7h0.5v0.5h-0.5zM313.38 38.52h0.5v0.5h-0.5zM315.63 36.9h0.5v0.5h-0.5zM313.41 45.32h0.5v0.5h-0.5zM307.63 42.26h0.5v0.5h-0.5zM316.11 41.17h0.5v0.5h-0.5zM306.28 42.9h0.5v0.5h-0.5zM304.59 47.53h0.5v0.5h-0.5zM310.82 45.08h0.5v0.5h-0.5zM314.61 46h0.5v0.5h-0.5zM307.13 47.02h0.5v0.5h-0.5zM312.58 44.08h0.5v0.5h-0.5zM310.5 44.47h0.5v0.5h-0.5zM315.91 40.17h0.5v0.5h-0.5zM304.27 46.62h0.5v0.5h-0.5zM312.83 48.23h0.5v0.5h-0.5zM305.26 45.77h0.5v0.5h-0.5zM312.05 44.72h0.5v0.5h-0.5zM313.4 42.63h0.5v0.5h-0.5zM312.78 45.26h0.5v0.5h-0.5zM301.98 47.55h0.5v0.5h-0.5zM305.31 46.61h0.5v0.5h-0.5zM299.11 47.38h0.5v0.5h-0.5zM309.7 41.99h0.5v0.5h-0.5zM315.21 40.72h0.5v0.5h-0.5zM307.06 47.45h0.5v0.5h-0.5zM304.98 46.52h0.5v0.5h-0.5zM314.87 45.71h0.5v0.5h-0.5zM307.4 47.13h0.5v0.5h-0.5zM316.75 47.81h0.5v0.5h-0.5zM311.27 43.43h0.5v0.5h-0.5zM310.57 45.33h0.5v0.5h-0.5zM312.97 38.24h0.5v0.5h-0.5zM309.79 44.11h0.5v0.5h-0.5zM301.81 47.49h0.5v0.5h-0.5zM300.51 47.93h0.5v0.5h-0.5zM314.93 38.67h0.5v0.5h-0.5zM306.36 43.81h0.5v0.5h-0.5zM310.07 43.8h0.5v0.5h-0.5zM313.92 43.01h0.5v0.5h-0.5zM310.5 48.18h0.5v0.5h-0.5zM299.96 47.13h0.5v0.5h-0.5zM308.73 46.8h0.5v0.5h-0.5zM307.09 43.47h0.5v0.5h-0.5zM312.53 38.31h0.5v0.5h-0.5zM312.09 42.33h0.5v0.5h-0.5zM309.6 45.7h0.5v0.5h-0.5zM309.48 42.54h0.5v0.5h-0.5zM316.59 46.37h0.5v0.5h-0.5zM310.71 39.71h0.5v0.5h-0.5zM310.05 46.62h0.5v0.5h-0.5zM302.15 46.24h0.5v0.5h-0.5zM306.11 42.43h0.5v0.5h-0.5zM316.66 40.25h0.5v0.5h-0.5zM312.01 47.14h0.5v0.5h-0.5zM301.93 47.34h0.5v0.5h-0.5zM309.87 41.73h0.5v0.5h-0.5zM306.19 45.74h0.5v0.5h-0.5zM311.79 38.8h0.5v0.5h-0.5zM301.59 46.96h0.5v0.5h-0.5zM306.1 42.38h0.5v0.5h-0.5zM303.38 47.87h0.5v0.5h-0.5zM316.9 45h0.5v0.5h-0.5zM315.19 45.44h0.5v0.5h-0.5zM312.71 42.83h0.5v0.5h-0.5zM315.35 39.43h0.5v0.5h-0.5zM314.56 46.98h0.5v0.5h-0.5zM303.01 44.7h0.5v0.5h-0.5zM311.8 40.82h0.5v0.5h-0.5zM313.53 44.97h0.5v0.5h-0.5zM307.23 42.66h0.5v0.5h-0.5zM309.62 46.08h0.5v0.5h-0.5zM310.57 43.64h0.5v0.5h-0.5zM316.02 39.53h0.5v0.5h-0.5zM312.53 43.42h0.5v0.5h-0.5zM302.56 47.75h0.5v0.5h-0.5zM311.88 45.46h0.5v0.5h-0.5zM315.46 42h0.5v0.5h-0.5zM311.94 45.69h0.5v0.5h-0.5zM313.3 43.17h0.5v0.5h-0.5zM314.88 45.06h0.5v0.5h-0.5zM313.8 47.52h0.5v0.5h-0.5zM304.55 47.46h0.5v0.5h-0.5zM312.88 44.39h0.5v0.5h-0.5zM314.18 42.48h0.5v0.5h-0.5zM308.3 45.62h0.5v0.5h-0.5zM313.94 47.93h0.5v0.5h-0.5z" fill="#777"/>
<path d="M294.9 49.4 L300 49.1 L308 48.9 L315.2 48.4 L315.6 41 L316.4 36 L318 34 L320.8 33.8 L322.4 35.2 L323 40 L323.3 47 L323.2 53.4 L318 53.8 L310 53.2 L300 53.4 L294.9 53.2Z" fill="#000" filter="url(#b)"/>
<path d="M320.58 51.51h0.5v0.5h-0.5zM322.87 46.68h0.5v0.5h-0.5zM319.83 39.02h0.5v0.5h-0.5zM308.7 50.66h0.5v0.5h-0.5zM320.31 45.5h0.5v0.5h-0.5zM316.44 39.84h0.5v0.5h-0.5zM320.92 46.64h0.5v0.5h-0.5zM316.8 45.28h0.5v0.5h-0.5zM316.29 53.05h0.5v0.5h-0.5zM322.83 49.48h0.5v0.5h-0.5zM321.29 52.67h0.5v0.5h-0.5zM316.83 53.13h0.5v0.5h-0.5zM308.4 52.45h0.5v0.5h-0.5zM319.75 51.82h0.5v0.5h-0.5zM313.75 50.05h0.5v0.5h-0.5zM318.52 36.2h0.5v0.5h-0.5zM317.9 40.28h0.5v0.5h-0.5zM309.17 50.7h0.5v0.5h-0.5zM318.22 47.07h0.5v0.5h-0.5zM316.69 44.92h0.5v0.5h-0.5zM304.54 51.1h0.5v0.5h-0.5zM307.26 52.42h0.5v0.5h-0.5zM318.54 38.29h0.5v0.5h-0.5zM316.63 41.08h0.5v0.5h-0.5zM322.09 52.91h0.5v0.5h-0.5zM299.85 49.92h0.5v0.5h-0.5zM309.61 51.91h0.5v0.5h-0.5zM320.45 33.94h0.5v0.5h-0.5zM316.11 50.19h0.5v0.5h-0.5zM321.25 41.73h0.5v0.5h-0.5zM317.83 42.91h0.5v0.5h-0.5zM318.83 35.89h0.5v0.5h-0.5zM318.92 42.74h0.5v0.5h-0.5zM322.86 40.38h0.5v0.5h-0.5zM296.01 52.08h0.5v0.5h-0.5zM322.72 46.08h0.5v0.5h-0.5zM304.17 50.56h0.5v0.5h-0.5zM316.56 48.36h0.5v0.5h-0.5zM318.11 41.24h0.5v0.5h-0.5zM318.03 35.79h0.5v0.5h-0.5zM315.4 47.65h0.5v0.5h-0.5zM318.94 40.52h0.5v0.5h-0.5zM295.08 51.37h0.5v0.5h-0.5zM316.06 42.48h0.5v0.5h-0.5zM321.35 46.72h0.5v0.5h-0.5zM305.15 52.77h0.5v0.5h-0.5zM315.75 49.86h0.5v0.5h-0.5zM317.51 41.74h0.5v0.5h-0.5zM302.5 52.65h0.5v0.5h-0.5zM319.07 52.71h0.5v0.5h-0.5z" fill="#fff" fill-opacity="0.5"/>
<path d="M317.82 54h0.5v0.5h-0.5zM321.84 53.68h0.5v0.5h-0.5zM311.63 48.41h0.5v0.5h-0.5zM311.63 48.45h0.5v0.5h-0.5zM323.32 46.74h0.5v0.5h-0.5zM319.3 53.76h0.5v0.5h-0.5zM319.48 54.68h0.5v0.5h-0.5zM323.6 46.73h0.5v0.5h-0.5zM299.21 53.73h0.5v0.5h-0.5zM323.83 34.05h0.5v0.5h-0.5zM296.47 48.91h0.5v0.5h-0.5zM298.5 48.52h0.5v0.5h-0.5zM302.4 54.37h0.5v0.5h-0.5zM323.14 38.92h0.5v0.5h-0.5zM323.68 45.31h0.5v0.5h-0.5zM305.26 54.73h0.5v0.5h-0.5zM299.42 48.87h0.5v0.5h-0.5zM306.51 47.29h0.5v0.5h-0.5zM305.98 48.53h0.5v0.5h-0.5zM324.35 51.27h0.5v0.5h-0.5zM323.36 52.39h0.5v0.5h-0.5zM301.39 48.97h0.5v0.5h-0.5zM295.99 49.26h0.5v0.5h-0.5zM299.76 48.43h0.5v0.5h-0.5zM309.08 48.67h0.5v0.5h-0.5zM323.87 45.85h0.5v0.5h-0.5zM321.75 33.63h0.5v0.5h-0.5zM316.19 36.67h0.5v0.5h-0.5zM315.17 46.68h0.5v0.5h-0.5zM305.75 48.03h0.5v0.5h-0.5zM300.88 54.29h0.5v0.5h-0.5zM297.81 53.34h0.5v0.5h-0.5zM295.93 49.33h0.5v0.5h-0.5zM322.67 53.68h0.5v0.5h-0.5zM301.24 53.92h0.5v0.5h-0.5zM316.94 54.04h0.5v0.5h-0.5zM296.1 53.63h0.5v0.5h-0.5zM308.34 53.34h0.5v0.5h-0.5zM314.43 54.58h0.5v0.5h-0.5zM308.56 47.77h0.5v0.5h-0.5zM316.24 54.54h0.5v0.5h-0.5zM308.77 53.96h0.5v0.5h-0.5zM318.62 54.07h0.5v0.5h-0.5zM305.01 53.43h0.5v0.5h-0.5zM318.04 55.99h0.5v0.5h-0.5zM293.93 54.24h0.5v0.5h-0.5zM304.53 53.96h0.5v0.5h-0.5zM316.73 54.22h0.5v0.5h-0.5zM319.65 32.08h0.5v0.5h-0.5zM318.21 54.55h0.5v0.5h-0.5z" fill="#333"/>
<path d="M315.68 43.49h0.5v0.5h-0.5zM313.33 42.09h0.5v0.5h-0.5zM313.89 44.99h0.5v0.5h-0.5zM313.32 43.84h0.5v0.5h-0.5zM314.2 35.38h0.5v0.5h-0.5zM313.76 44.99h0.5v0.5h-0.5zM315.84 47.48h0.5v0.5h-0.5zM313.12 46.24h0.5v0.5h-0.5zM314.88 38.85h0.5v0.5h-0.5zM313.12 43.75h0.5v0.5h-0.5zM314.61 36.24h0.5v0.5h-0.5zM314.6 34.2h0.5v0.5h-0.5zM315.83 45.7h0.5v0.5h-0.5zM315.2 47.89h0.5v0.5h-0.5zM313.53 40.26h0.5v0.5h-0.5zM315.86 46.55h0.5v0.5h-0.5zM314.92 34.66h0.5v0.5h-0.5zM314.48 41.29h0.5v0.5h-0.5zM314.61 37.31h0.5v0.5h-0.5zM313.67 37.53h0.5v0.5h-0.5z" fill="#333"/>
<path d="M347.95 47.07h0.5v0.5h-0.5zM359.72 37.48h0.5v0.5h-0.5zM352.91 43.56h0.5v0.5h-0.5zM357.89 46.54h0.5v0.5h-0.5zM352.68 46.71h0.5v0.5h-0.5zM350.55 43.36h0.5v0.5h-0.5zM356.27 40.19h0.5v0.5h-0.5zM351.71 42.37h0.5v0.5h-0.5zM351.04 43.51h0.5v0.5h-0.5zM352.66 44.89h0.5v0.5h-0.5zM359.05 40.54h0.5v0.5h-0.5zM354.19 47.32h0.5v0.5h-0.5zM357.39 40.14h0.5v0.5h-0.5zM353.76 45.69h0.5v0.5h-0.5zM358.25 39.13h0.5v0.5h-0.5zM355.14 43.64h0.5v0.5h-0.5zM354.78 44.87h0.5v0.5h-0.5zM353.48 44.19h0.5v0.5h-0.5zM354.94 39.77h0.5v0.5h-0.5zM352.68 41.84h0.5v0.5h-0.5zM350.23 45.96h0.5v0.5h-0.5zM349.74 45.77h0.5v0.5h-0.5zM359.62 44.75h0.5v0.5h-0.5zM356.18 40.38h0.5v0.5h-0.5zM355.66 43.73h0.5v0.5h-0.5zM359.8 38.77h0.5v0.5h-0.5zM355.31 39.65h0.5v0.5h-0.5zM359.56 38.28h0.5v0.5h-0.5zM354.28 45.8h0.5v0.5h-0.5zM359.76 40.44h0.5v0.5h-0.5zM356.42 42.15h0.5v0.5h-0.5zM344.92 47.21h0.5v0.5h-0.5zM351.89 45.82h0.5v0.5h-0.5zM358.68 42.76h0.5v0.5h-0.5zM351.02 43.82h0.5v0.5h-0.5zM358.66 44.22h0.5v0.5h-0.5zM352.52 45.65h0.5v0.5h-0.5zM356.56 46.17h0.5v0.5h-0.5zM352.93 42.08h0.5v0.5h-0.5zM353.84 40.47h0.5v0.5h-0.5zM353.4 45.25h0.5v0.5h-0.5zM349.64 44.07h0.5v0.5h-0.5zM355.71 43.9h0.5v0.5h-0.5zM353.64 46.15h0.5v0.5h-0.5zM352.5 46.26h0.5v0.5h-0.5zM357.81 42.15h0.5v0.5h-0.5zM355.46 46.62h0.5v0.5h-0.5zM355.34 43.1h0.5v0.5h-0.5zM357.02 47.27h0.5v0.5h-0.5zM359.6 43.15h0.5v0.5h-0.5zM356.96 40.49h0.5v0.5h-0.5zM354.82 42.47h0.5v0.5h-0.5zM354.98 46.82h0.5v0.5h-0.5zM358.33 44.51h0.5v0.5h-0.5zM354.78 42.24h0.5v0.5h-0.5zM357.07 39.74h0.5v0.5h-0.5zM359.05 41.32h0.5v0.5h-0.5zM355.31 42.56h0.5v0.5h-0.5zM356.61 47.25h0.5v0.5h-0.5zM356.36 43.93h0.5v0.5h-0.5zM358.99 44.6h0.5v0.5h-0.5zM355 40.96h0.5v0.5h-0.5zM359.94 41.41h0.5v0.5h-0.5zM357.72 43.79h0.5v0.5h-0.5zM356.02 40.6h0.5v0.5h-0.5zM359.62 37.39h0.5v0.5h-0.5zM353.85 45.86h0.5v0.5h-0.5zM359.4 40.61h0.5v0.5h-0.5zM358.42 41.62h0.5v0.5h-0.5zM357.3 39.51h0.5v0.5h-0.5z" fill="#888"/>
<path d="M342.4 48.4 L348 47.9 L354 48 L357.5 47.4 L359.5 43 L361.3 39.5 L363.5 37.6 L365.8 38.2 L367.8 41.5 L369.8 46 L371.4 50.4 L371.2 53.8 L366 54.2 L356 54.1 L348 54.4 L342.4 54.2Z" fill="#111" filter="url(#b)"/>
<path d="M348.34 51.61h0.5v0.5h-0.5zM361.67 47.02h0.5v0.5h-0.5zM369.98 52.63h0.5v0.5h-0.5zM368.44 43.65h0.5v0.5h-0.5zM361.24 41.81h0.5v0.5h-0.5zM361.03 46.56h0.5v0.5h-0.5zM360.53 50.04h0.5v0.5h-0.5zM352.69 48.34h0.5v0.5h-0.5zM363.07 52.83h0.5v0.5h-0.5zM363.61 47.65h0.5v0.5h-0.5zM360.11 42.12h0.5v0.5h-0.5zM370.13 53.86h0.5v0.5h-0.5zM344.37 51.52h0.5v0.5h-0.5zM350.17 51.91h0.5v0.5h-0.5zM362.41 47.61h0.5v0.5h-0.5zM368.69 49.94h0.5v0.5h-0.5zM351.21 49.34h0.5v0.5h-0.5zM345.56 51.03h0.5v0.5h-0.5zM352.63 52.45h0.5v0.5h-0.5zM349.28 50.57h0.5v0.5h-0.5zM367.29 43.08h0.5v0.5h-0.5zM358.78 50.62h0.5v0.5h-0.5zM369.72 47.23h0.5v0.5h-0.5zM368.32 52.56h0.5v0.5h-0.5zM355.63 47.93h0.5v0.5h-0.5zM359.07 53.06h0.5v0.5h-0.5zM351.33 52.87h0.5v0.5h-0.5zM356.42 48.76h0.5v0.5h-0.5zM367.08 40.71h0.5v0.5h-0.5zM358.62 46.32h0.5v0.5h-0.5zM360.33 49.02h0.5v0.5h-0.5zM344.6 53.9h0.5v0.5h-0.5zM347.31 50.95h0.5v0.5h-0.5zM344.85 48.37h0.5v0.5h-0.5zM351.37 53.81h0.5v0.5h-0.5zM363.18 50.83h0.5v0.5h-0.5zM346.9 54.28h0.5v0.5h-0.5zM365.77 51.31h0.5v0.5h-0.5zM370.13 48.49h0.5v0.5h-0.5zM346.19 53.27h0.5v0.5h-0.5zM359.95 49.62h0.5v0.5h-0.5zM364.65 50.21h0.5v0.5h-0.5zM360.11 46.01h0.5v0.5h-0.5zM354.72 52.28h0.5v0.5h-0.5zM360.15 52.71h0.5v0.5h-0.5zM354.31 53h0.5v0.5h-0.5zM351.82 49h0.5v0.5h-0.5zM363.58 42.33h0.5v0.5h-0.5zM353.97 51.81h0.5v0.5h-0.5zM359.44 50.85h0.5v0.5h-0.5zM355.41 52.46h0.5v0.5h-0.5zM349.03 54.29h0.5v0.5h-0.5zM342.73 51.27h0.5v0.5h-0.5zM357.43 52.32h0.5v0.5h-0.5zM364.76 44.55h0.5v0.5h-0.5zM350.43 51.81h0.5v0.5h-0.5zM359.14 47.67h0.5v0.5h-0.5zM368.43 43.9h0.5v0.5h-0.5zM354.94 54.06h0.5v0.5h-0.5zM350.66 53.75h0.5v0.5h-0.5zM364.75 52.62h0.5v0.5h-0.5zM361.81 53.39h0.5v0.5h-0.5zM350.27 52.95h0.5v0.5h-0.5zM365.08 49.04h0.5v0.5h-0.5zM355.8 49.77h0.5v0.5h-0.5zM344.29 52.69h0.5v0.5h-0.5zM344.22 49.41h0.5v0.5h-0.5zM367.67 53.06h0.5v0.5h-0.5zM362.72 49.36h0.5v0.5h-0.5zM358.71 45.98h0.5v0.5h-0.5zM354.1 51.9h0.5v0.5h-0.5zM363.82 49.53h0.5v0.5h-0.5zM364.74 39.04h0.5v0.5h-0.5zM356.92 51.28h0.5v0.5h-0.5zM360.92 53.78h0.5v0.5h-0.5zM364.94 49.84h0.5v0.5h-0.5zM369.13 46.74h0.5v0.5h-0.5zM359.28 47.63h0.5v0.5h-0.5zM367.14 46.12h0.5v0.5h-0.5zM364.69 50.77h0.5v0.5h-0.5zM353.5 53.63h0.5v0.5h-0.5zM362.32 45.54h0.5v0.5h-0.5zM359 45.57h0.5v0.5h-0.5zM343.38 50.18h0.5v0.5h-0.5zM352.19 49.43h0.5v0.5h-0.5zM362.18 50.97h0.5v0.5h-0.5zM362.66 43.22h0.5v0.5h-0.5zM361.72 50.98h0.5v0.5h-0.5zM362.77 47.73h0.5v0.5h-0.5zM350.95 50.46h0.5v0.5h-0.5zM359.4 52.61h0.5v0.5h-0.5zM367.35 49.72h0.5v0.5h-0.5zM363.9 48.23h0.5v0.5h-0.5zM356.88 52.8h0.5v0.5h-0.5zM363.11 53.23h0.5v0.5h-0.5zM365 38.71h0.5v0.5h-0.5zM354.01 51.8h0.5v0.5h-0.5zM363.3 45.83h0.5v0.5h-0.5zM360.7 47.24h0.5v0.5h-0.5zM355.55 47.95h0.5v0.5h-0.5zM364.79 38.45h0.5v0.5h-0.5zM355.77 52.84h0.5v0.5h-0.5zM369.38 49.76h0.5v0.5h-0.5zM369.51 46.01h0.5v0.5h-0.5zM363.38 42.06h0.5v0.5h-0.5zM367.88 46.39h0.5v0.5h-0.5zM364.63 41.92h0.5v0.5h-0.5zM352.01 49.03h0.5v0.5h-0.5zM359.26 49.58h0.5v0.5h-0.5zM355.76 52.26h0.5v0.5h-0.5zM367.24 47.4h0.5v0.5h-0.5zM356.4 50.43h0.5v0.5h-0.5zM361.85 39.21h0.5v0.5h-0.5zM365.96 53.19h0.5v0.5h-0.5zM364.04 40.5h0.5v0.5h-0.5zM342.86 49.38h0.5v0.5h-0.5zM362.44 50.71h0.5v0.5h-0.5zM343.49 48.46h0.5v0.5h-0.5zM364.46 43.42h0.5v0.5h-0.5zM364.56 43.96h0.5v0.5h-0.5zM355.65 49.13h0.5v0.5h-0.5zM362.37 48.48h0.5v0.5h-0.5zM346.42 49.18h0.5v0.5h-0.5zM365.04 50.23h0.5v0.5h-0.5zM360.68 47.57h0.5v0.5h-0.5zM349.47 54.33h0.5v0.5h-0.5zM361.45 50.24h0.5v0.5h-0.5zM365.68 46.32h0.5v0.5h-0.5zM345.94 48.24h0.5v0.5h-0.5zM349.22 53.08h0.5v0.5h-0.5z" fill="#fff" fill-opacity="0.55"/>
<path d="M355.34 55.81h0.5v0.5h-0.5zM361.88 38.33h0.5v0.5h-0.5zM358.24 54.22h0.5v0.5h-0.5zM357.63 43.74h0.5v0.5h-0.5zM366.37 38.38h0.5v0.5h-0.5zM341.02 55.18h0.5v0.5h-0.5zM342.55 54.87h0.5v0.5h-0.5zM355.98 45.6h0.5v0.5h-0.5zM360.97 39.79h0.5v0.5h-0.5zM367.79 41.13h0.5v0.5h-0.5zM368.16 40.52h0.5v0.5h-0.5zM369.79 43.54h0.5v0.5h-0.5zM351.37 47.33h0.5v0.5h-0.5zM343.19 47.24h0.5v0.5h-0.5zM354.24 56.71h0.5v0.5h-0.5zM345.88 57.26h0.5v0.5h-0.5zM367.99 54.38h0.5v0.5h-0.5zM357.81 55.14h0.5v0.5h-0.5zM365.45 37.72h0.5v0.5h-0.5zM371.11 47.04h0.5v0.5h-0.5zM368.79 54.21h0.5v0.5h-0.5zM342.33 48.54h0.5v0.5h-0.5zM371.02 47.78h0.5v0.5h-0.5zM357.75 46.62h0.5v0.5h-0.5zM351.14 47.5h0.5v0.5h-0.5zM370.81 47.97h0.5v0.5h-0.5zM351.03 54.69h0.5v0.5h-0.5zM367.08 40h0.5v0.5h-0.5zM365.81 55.72h0.5v0.5h-0.5zM367.06 39.67h0.5v0.5h-0.5zM371.78 49.84h0.5v0.5h-0.5zM344.27 56.02h0.5v0.5h-0.5zM368.76 41.32h0.5v0.5h-0.5zM343.4 47.55h0.5v0.5h-0.5zM368.16 54.63h0.5v0.5h-0.5zM345.43 56.26h0.5v0.5h-0.5zM370.97 48.76h0.5v0.5h-0.5zM359.55 42.73h0.5v0.5h-0.5zM368.13 40.7h0.5v0.5h-0.5zM342.63 46.72h0.5v0.5h-0.5zM346 55.33h0.5v0.5h-0.5zM362.22 54.35h0.5v0.5h-0.5zM353.63 47.7h0.5v0.5h-0.5zM370.35 47.4h0.5v0.5h-0.5zM343.21 48.21h0.5v0.5h-0.5zM363.58 36.84h0.5v0.5h-0.5zM367.23 39.08h0.5v0.5h-0.5zM343.22 56.29h0.5v0.5h-0.5zM354.94 55.21h0.5v0.5h-0.5zM341.74 51.22h0.5v0.5h-0.5zM358.15 54.46h0.5v0.5h-0.5zM359.28 54.79h0.5v0.5h-0.5zM355.45 44.83h0.5v0.5h-0.5zM371.62 52.09h0.5v0.5h-0.5zM341.8 54.16h0.5v0.5h-0.5zM358.31 43.69h0.5v0.5h-0.5zM344.67 47.31h0.5v0.5h-0.5zM354.61 47.52h0.5v0.5h-0.5zM365.91 54.22h0.5v0.5h-0.5zM341.26 50.64h0.5v0.5h-0.5zM369.8 45.58h0.5v0.5h-0.5zM344.27 46h0.5v0.5h-0.5zM352.53 47.78h0.5v0.5h-0.5zM354.9 54.62h0.5v0.5h-0.5zM358.74 42.99h0.5v0.5h-0.5zM369.7 54.69h0.5v0.5h-0.5zM369.06 43.7h0.5v0.5h-0.5zM341.86 49.26h0.5v0.5h-0.5zM371.54 53.14h0.5v0.5h-0.5zM344 47.67h0.5v0.5h-0.5z" fill="#333"/>
<path d="M364.59 38.98h0.5v0.5h-0.5zM361.51 36.11h0.5v0.5h-0.5zM363.94 34.24h0.5v0.5h-0.5zM360.71 37.67h0.5v0.5h-0.5zM363.57 38.6h0.5v0.5h-0.5zM361.99 35.1h0.5v0.5h-0.5zM365.44 37.68h0.5v0.5h-0.5zM364.38 38.9h0.5v0.5h-0.5zM365.23 35.69h0.5v0.5h-0.5zM362.11 38.67h0.5v0.5h-0.5zM363.78 37.07h0.5v0.5h-0.5zM363.48 38.21h0.5v0.5h-0.5zM361.26 36.53h0.5v0.5h-0.5zM365.05 37.6h0.5v0.5h-0.5zM365.26 35.87h0.5v0.5h-0.5zM364.71 37.87h0.5v0.5h-0.5zM360.94 36.83h0.5v0.5h-0.5zM360.78 38.77h0.5v0.5h-0.5zM365.12 38.61h0.5v0.5h-0.5zM365.14 38.27h0.5v0.5h-0.5zM366.65 38.6h0.5v0.5h-0.5zM360.52 37.1h0.5v0.5h-0.5zM365.73 37.62h0.5v0.5h-0.5zM365.96 38.94h0.5v0.5h-0.5zM367.41 37.12h0.5v0.5h-0.5zM361.97 35.79h0.5v0.5h-0.5zM362.21 34.98h0.5v0.5h-0.5zM362.72 35h0.5v0.5h-0.5zM362 37.05h0.5v0.5h-0.5zM364.22 38.28h0.5v0.5h-0.5zM365.91 37.57h0.5v0.5h-0.5zM367.09 38.61h0.5v0.5h-0.5zM364.34 34.3h0.5v0.5h-0.5zM361.06 36.7h0.5v0.5h-0.5zM364.74 34.05h0.5v0.5h-0.5zM364.74 34.52h0.5v0.5h-0.5zM364.46 36.27h0.5v0.5h-0.5zM362.71 38.06h0.5v0.5h-0.5zM367.77 37.87h0.5v0.5h-0.5zM362.92 35.25h0.5v0.5h-0.5zM364.05 35.12h0.5v0.5h-0.5zM364.37 38.25h0.5v0.5h-0.5zM364.16 38.78h0.5v0.5h-0.5zM361.08 38.19h0.5v0.5h-0.5zM364.21 35.11h0.5v0.5h-0.5z" fill="#222"/>
<path d="M404.49 46.34h0.5v0.5h-0.5zM405.6 38.83h0.5v0.5h-0.5zM400.21 44.32h0.5v0.5h-0.5zM399.68 45.6h0.5v0.5h-0.5zM399.14 45.13h0.5v0.5h-0.5zM400.62 41.08h0.5v0.5h-0.5zM397.55 46.55h0.5v0.5h-0.5zM405.47 46.84h0.5v0.5h-0.5zM402.99 39.93h0.5v0.5h-0.5zM402.65 42.46h0.5v0.5h-0.5zM398.42 45.3h0.5v0.5h-0.5zM404.86 41.44h0.5v0.5h-0.5zM403.47 43.13h0.5v0.5h-0.5zM406.33 39.84h0.5v0.5h-0.5zM406.28 42.84h0.5v0.5h-0.5zM405.46 38.63h0.5v0.5h-0.5zM406.6 43.16h0.5v0.5h-0.5zM398.24 45.82h0.5v0.5h-0.5zM401.84 46.03h0.5v0.5h-0.5zM403.62 46.07h0.5v0.5h-0.5zM402.54 40.32h0.5v0.5h-0.5zM400.35 46.65h0.5v0.5h-0.5zM399.88 46.72h0.5v0.5h-0.5zM403.56 42.19h0.5v0.5h-0.5zM405.71 40.96h0.5v0.5h-0.5zM404.88 42.97h0.5v0.5h-0.5zM405.01 42.61h0.5v0.5h-0.5zM400.6 40.93h0.5v0.5h-0.5zM394.5 46.46h0.5v0.5h-0.5zM404.83 46h0.5v0.5h-0.5zM394.77 45.71h0.5v0.5h-0.5zM405.49 41.92h0.5v0.5h-0.5zM401.85 41.94h0.5v0.5h-0.5zM405.48 43.25h0.5v0.5h-0.5zM405.13 43.6h0.5v0.5h-0.5zM402.45 46.43h0.5v0.5h-0.5zM397.98 46.93h0.5v0.5h-0.5zM404.54 44.37h0.5v0.5h-0.5zM403.04 43.59h0.5v0.5h-0.5zM395.78 46.04h0.5v0.5h-0.5zM401.58 40.57h0.5v0.5h-0.5zM400.72 43.11h0.5v0.5h-0.5zM397.79 46.62h0.5v0.5h-0.5zM406.8 42.95h0.5v0.5h-0.5zM404.1 40.04h0.5v0.5h-0.5zM403.93 45.82h0.5v0.5h-0.5zM402.57 44.43h0.5v0.5h-0.5zM404.27 40.16h0.5v0.5h-0.5zM397.11 45.08h0.5v0.5h-0.5zM403.01 40.93h0.5v0.5h-0.5zM398.8 42.68h0.5v0.5h-0.5zM400.79 42.55h0.5v0.5h-0.5zM403.2 45.66h0.5v0.5h-0.5zM405.07 45.82h0.5v0.5h-0.5zM395.73 46.08h0.5v0.5h-0.5zM404.01 44.59h0.5v0.5h-0.5zM406.02 39.08h0.5v0.5h-0.5zM405.63 42.36h0.5v0.5h-0.5zM404.66 43.76h0.5v0.5h-0.5zM405.54 43h0.5v0.5h-0.5zM397.81 46.39h0.5v0.5h-0.5zM406.93 45.46h0.5v0.5h-0.5zM401.19 45.22h0.5v0.5h-0.5zM401.74 40.06h0.5v0.5h-0.5zM405.44 45.98h0.5v0.5h-0.5zM404.21 42.79h0.5v0.5h-0.5zM404.12 39.77h0.5v0.5h-0.5zM401.58 46.69h0.5v0.5h-0.5zM403.77 43.98h0.5v0.5h-0.5zM395.24 46.91h0.5v0.5h-0.5z" fill="#888"/>
<path d="M390.6 47.9 L396 47.5 L401 47.8 L405.5 47.2 L407.2 42 L409 38 L411.3 36 L413.8 36.9 L416 40 L418.3 45 L419.6 49.5 L419.4 53.4 L414 53.7 L404 53.2 L396 53.8 L390.6 53.7Z" fill="#1a1a1a" filter="url(#b)"/>
<path d="M411.14 49.86h0.5v0.5h-0.5zM398.67 50.2h0.5v0.5h-0.5zM416.19 41.59h0.5v0.5h-0.5zM414.6 38.23h0.5v0.5h-0.5zM400.03 49.86h0.5v0.5h-0.5zM411.02 39.03h0.5v0.5h-0.5zM418.7 47.81h0.5v0.5h-0.5zM414.04 53.51h0.5v0.5h-0.5zM414.9 46.6h0.5v0.5h-0.5zM415.37 53.56h0.5v0.5h-0.5zM418.56 47.05h0.5v0.5h-0.5zM411.35 38.87h0.5v0.5h-0.5zM417.29 50.99h0.5v0.5h-0.5zM406.48 46.61h0.5v0.5h-0.5zM394.04 52.46h0.5v0.5h-0.5zM412.25 43.06h0.5v0.5h-0.5zM410.26 49.82h0.5v0.5h-0.5zM416.32 48.34h0.5v0.5h-0.5zM394.3 47.99h0.5v0.5h-0.5zM412.09 47.9h0.5v0.5h-0.5zM416.57 45.34h0.5v0.5h-0.5zM409.89 41.01h0.5v0.5h-0.5zM403.85 48.87h0.5v0.5h-0.5zM409.47 45.4h0.5v0.5h-0.5zM409.82 41.95h0.5v0.5h-0.5zM414.8 48.19h0.5v0.5h-0.5zM398.63 52.54h0.5v0.5h-0.5zM409.06 47.83h0.5v0.5h-0.5zM409.26 45.88h0.5v0.5h-0.5zM418.31 49.64h0.5v0.5h-0.5zM419.3 49.98h0.5v0.5h-0.5zM408.81 38.45h0.5v0.5h-0.5zM409.3 51.95h0.5v0.5h-0.5zM406.46 49.53h0.5v0.5h-0.5zM409.2 38.72h0.5v0.5h-0.5zM411.4 48.32h0.5v0.5h-0.5zM400.52 52.58h0.5v0.5h-0.5zM414.05 48.76h0.5v0.5h-0.5zM409.22 40.62h0.5v0.5h-0.5zM415.17 46.63h0.5v0.5h-0.5zM406.05 51.21h0.5v0.5h-0.5zM416.47 52.65h0.5v0.5h-0.5zM416.07 43.14h0.5v0.5h-0.5zM412.89 50.7h0.5v0.5h-0.5zM406.5 46.44h0.5v0.5h-0.5zM392.55 48.71h0.5v0.5h-0.5zM409.35 48.88h0.5v0.5h-0.5zM399.94 50.99h0.5v0.5h-0.5zM416.5 48.04h0.5v0.5h-0.5zM397.93 51.82h0.5v0.5h-0.5zM404.3 51.06h0.5v0.5h-0.5zM399.12 50.9h0.5v0.5h-0.5zM412.26 42.04h0.5v0.5h-0.5zM417.98 45.26h0.5v0.5h-0.5zM395.32 50.33h0.5v0.5h-0.5zM412.22 48.78h0.5v0.5h-0.5zM411.66 40.3h0.5v0.5h-0.5zM406.71 45.28h0.5v0.5h-0.5zM412.18 43.29h0.5v0.5h-0.5zM390.79 52.07h0.5v0.5h-0.5zM399.27 49.62h0.5v0.5h-0.5zM412.71 50.97h0.5v0.5h-0.5zM411.09 51.55h0.5v0.5h-0.5zM398.82 48.23h0.5v0.5h-0.5zM408.4 47.34h0.5v0.5h-0.5zM403.37 48.77h0.5v0.5h-0.5zM413.1 43.13h0.5v0.5h-0.5zM413.75 40.74h0.5v0.5h-0.5zM418.16 47.33h0.5v0.5h-0.5zM395.62 51.76h0.5v0.5h-0.5zM415.42 52.79h0.5v0.5h-0.5zM391.92 52.35h0.5v0.5h-0.5zM390.87 52.1h0.5v0.5h-0.5zM393.69 50.11h0.5v0.5h-0.5zM417.68 50.95h0.5v0.5h-0.5zM413.33 38.47h0.5v0.5h-0.5zM406.41 52.24h0.5v0.5h-0.5zM407.44 51.12h0.5v0.5h-0.5zM410.11 41.45h0.5v0.5h-0.5zM404.59 49.51h0.5v0.5h-0.5zM411.04 52.07h0.5v0.5h-0.5zM396.07 47.99h0.5v0.5h-0.5zM413.79 50.17h0.5v0.5h-0.5zM417.06 48.7h0.5v0.5h-0.5zM414.29 42.67h0.5v0.5h-0.5zM399.6 47.84h0.5v0.5h-0.5zM396.34 47.72h0.5v0.5h-0.5zM407.58 47h0.5v0.5h-0.5zM409.67 45.87h0.5v0.5h-0.5zM395.03 53.27h0.5v0.5h-0.5zM410.64 37.02h0.5v0.5h-0.5zM414.22 46.84h0.5v0.5h-0.5zM413.62 41.15h0.5v0.5h-0.5zM415.67 42.68h0.5v0.5h-0.5zM414.31 40.57h0.5v0.5h-0.5zM414.55 48.18h0.5v0.5h-0.5zM409.58 42.47h0.5v0.5h-0.5zM404.32 49.61h0.5v0.5h-0.5zM399.75 51.4h0.5v0.5h-0.5zM410.86 53.39h0.5v0.5h-0.5zM405.54 52.53h0.5v0.5h-0.5zM412.69 42.06h0.5v0.5h-0.5zM408.6 48.03h0.5v0.5h-0.5zM413.17 38.92h0.5v0.5h-0.5zM409.32 43.98h0.5v0.5h-0.5zM407.87 44.46h0.5v0.5h-0.5zM407.67 41.82h0.5v0.5h-0.5zM416.82 48.48h0.5v0.5h-0.5zM402.33 50.69h0.5v0.5h-0.5zM414.92 40.24h0.5v0.5h-0.5zM409.4 43.43h0.5v0.5h-0.5zM408.88 44.48h0.5v0.5h-0.5zM407.29 48.6h0.5v0.5h-0.5zM405.81 47.86h0.5v0.5h-0.5zM418.98 51.12h0.5v0.5h-0.5zM412.77 47.33h0.5v0.5h-0.5zM414.46 50.15h0.5v0.5h-0.5zM410.86 53.1h0.5v0.5h-0.5zM411.43 47.85h0.5v0.5h-0.5zM392.9 53.1h0.5v0.5h-0.5zM392.73 48.44h0.5v0.5h-0.5zM408.07 50.97h0.5v0.5h-0.5zM414.77 48.27h0.5v0.5h-0.5zM393.21 48.17h0.5v0.5h-0.5zM413.13 38.82h0.5v0.5h-0.5zM410.68 52.31h0.5v0.5h-0.5zM408.94 38.95h0.5v0.5h-0.5zM395.39 53.74h0.5v0.5h-0.5zM401.62 50.61h0.5v0.5h-0.5zM408.54 40.67h0.5v0.5h-0.5zM396.01 49.35h0.5v0.5h-0.5zM412.7 44.27h0.5v0.5h-0.5zM399.67 50.41h0.5v0.5h-0.5zM413.96 41.94h0.5v0.5h-0.5zM409.13 48.53h0.5v0.5h-0.5zM415.76 48.82h0.5v0.5h-0.5zM415.8 42.86h0.5v0.5h-0.5zM412.24 45.72h0.5v0.5h-0.5zM391.2 52.83h0.5v0.5h-0.5zM401.74 52.31h0.5v0.5h-0.5zM403.36 50.01h0.5v0.5h-0.5zM409.78 45.95h0.5v0.5h-0.5zM396.86 50.22h0.5v0.5h-0.5zM407.53 42.66h0.5v0.5h-0.5zM404.69 51.4h0.5v0.5h-0.5zM409.45 45.59h0.5v0.5h-0.5zM401.95 50.31h0.5v0.5h-0.5zM396.85 53.1h0.5v0.5h-0.5zM392.29 47.93h0.5v0.5h-0.5zM404.46 51.17h0.5v0.5h-0.5z" fill="#fff" fill-opacity="0.55"/>
<path d="M397.88 44.3h0.5v0.5h-0.5zM406.67 40.42h0.5v0.5h-0.5zM414.11 54.47h0.5v0.5h-0.5zM418.49 55.99h0.5v0.5h-0.5zM417.62 43.2h0.5v0.5h-0.5zM403.73 45.56h0.5v0.5h-0.5zM419.81 53.93h0.5v0.5h-0.5zM406.37 43.96h0.5v0.5h-0.5zM396.51 54.91h0.5v0.5h-0.5zM403.85 47.26h0.5v0.5h-0.5zM390.08 53.9h0.5v0.5h-0.5zM405.06 43.07h0.5v0.5h-0.5zM417.21 55.09h0.5v0.5h-0.5zM411.68 36.12h0.5v0.5h-0.5zM414.27 37.13h0.5v0.5h-0.5zM414.72 37.78h0.5v0.5h-0.5zM418.49 53.54h0.5v0.5h-0.5zM389.94 50.42h0.5v0.5h-0.5zM406.49 42.22h0.5v0.5h-0.5zM416.49 56.53h0.5v0.5h-0.5zM406.25 43.2h0.5v0.5h-0.5zM412.08 35.7h0.5v0.5h-0.5zM399.04 55.49h0.5v0.5h-0.5zM392.69 54.46h0.5v0.5h-0.5zM409.18 36.77h0.5v0.5h-0.5zM406.22 44.16h0.5v0.5h-0.5zM390.4 52.16h0.5v0.5h-0.5zM406.17 54.22h0.5v0.5h-0.5zM408.48 37.58h0.5v0.5h-0.5zM419.22 43.74h0.5v0.5h-0.5zM404.72 45.23h0.5v0.5h-0.5zM392.81 54.44h0.5v0.5h-0.5zM411.89 54.51h0.5v0.5h-0.5zM419.54 53.34h0.5v0.5h-0.5zM392.83 55.43h0.5v0.5h-0.5zM416.76 39.51h0.5v0.5h-0.5zM407.09 53.55h0.5v0.5h-0.5zM408.36 38.7h0.5v0.5h-0.5zM407.56 55.47h0.5v0.5h-0.5zM407.39 40.14h0.5v0.5h-0.5zM412.58 54.86h0.5v0.5h-0.5zM405.38 45.97h0.5v0.5h-0.5zM410.43 55.88h0.5v0.5h-0.5zM406.66 53.95h0.5v0.5h-0.5zM408.08 54.21h0.5v0.5h-0.5zM406.56 54.04h0.5v0.5h-0.5zM397.54 54.42h0.5v0.5h-0.5zM419.24 42.75h0.5v0.5h-0.5zM398.6 53.91h0.5v0.5h-0.5zM409.99 36.16h0.5v0.5h-0.5zM408.95 53.94h0.5v0.5h-0.5zM417.29 54.74h0.5v0.5h-0.5zM394.04 47.22h0.5v0.5h-0.5zM412.91 35.09h0.5v0.5h-0.5zM416.18 54.35h0.5v0.5h-0.5zM410.26 36.47h0.5v0.5h-0.5zM418.94 43.34h0.5v0.5h-0.5zM392.57 55.5h0.5v0.5h-0.5zM395.33 47.52h0.5v0.5h-0.5zM413.86 54.18h0.5v0.5h-0.5zM396.94 47.17h0.5v0.5h-0.5zM397.34 46.1h0.5v0.5h-0.5zM403.84 46.25h0.5v0.5h-0.5zM420.38 48.59h0.5v0.5h-0.5zM397.61 55.08h0.5v0.5h-0.5zM409.06 34.21h0.5v0.5h-0.5zM418.63 45.02h0.5v0.5h-0.5zM418.8 53.46h0.5v0.5h-0.5zM419.05 47.23h0.5v0.5h-0.5zM405.98 44.74h0.5v0.5h-0.5zM394.64 46.64h0.5v0.5h-0.5zM390.39 51.25h0.5v0.5h-0.5zM401.89 53.77h0.5v0.5h-0.5zM393.75 47.59h0.5v0.5h-0.5zM402.32 53.68h0.5v0.5h-0.5zM418.7 42.16h0.5v0.5h-0.5zM403.11 46.2h0.5v0.5h-0.5zM404.52 45.37h0.5v0.5h-0.5zM412.19 54.21h0.5v0.5h-0.5zM402.41 54.58h0.5v0.5h-0.5z" fill="#333"/>
<path d="M406.67 38.64h0.5v0.5h-0.5zM411.56 36.54h0.5v0.5h-0.5zM410.3 34.85h0.5v0.5h-0.5zM416.92 39.8h0.5v0.5h-0.5zM409.03 38.11h0.5v0.5h-0.5zM412 38.27h0.5v0.5h-0.5zM408.17 38.72h0.5v0.5h-0.5zM411.19 37.12h0.5v0.5h-0.5zM411.65 37.92h0.5v0.5h-0.5zM411.86 34h0.5v0.5h-0.5zM411.18 36.7h0.5v0.5h-0.5zM407.8 38.49h0.5v0.5h-0.5zM414.53 37.4h0.5v0.5h-0.5zM413.86 39.17h0.5v0.5h-0.5zM413.7 38.46h0.5v0.5h-0.5zM408.26 39.57h0.5v0.5h-0.5zM413.8 35.31h0.5v0.5h-0.5zM414.98 37.72h0.5v0.5h-0.5zM407.55 39.07h0.5v0.5h-0.5zM413.98 35.93h0.5v0.5h-0.5zM406.87 37.66h0.5v0.5h-0.5zM411.48 36.32h0.5v0.5h-0.5zM409.49 37.54h0.5v0.5h-0.5zM411.14 36.38h0.5v0.5h-0.5zM406.49 38.3h0.5v0.5h-0.5zM415.67 39.52h0.5v0.5h-0.5zM412.1 34.87h0.5v0.5h-0.5zM410.74 37.71h0.5v0.5h-0.5zM411.16 35.21h0.5v0.5h-0.5zM407.8 38.8h0.5v0.5h-0.5zM411.61 39.36h0.5v0.5h-0.5zM410.17 37.43h0.5v0.5h-0.5zM411.64 38.52h0.5v0.5h-0.5zM411.75 39.61h0.5v0.5h-0.5zM412.08 33.42h0.5v0.5h-0.5zM413.2 37.16h0.5v0.5h-0.5zM413.72 37.72h0.5v0.5h-0.5zM412.49 35.02h0.5v0.5h-0.5zM413.09 36.54h0.5v0.5h-0.5zM413.41 35.13h0.5v0.5h-0.5zM408.04 36.91h0.5v0.5h-0.5zM407.73 39.36h0.5v0.5h-0.5zM407.21 37.42h0.5v0.5h-0.5zM410.34 35.76h0.5v0.5h-0.5zM414.97 39.37h0.5v0.5h-0.5z" fill="#333"/>
<path d="M450.54 47.37h0.5v0.5h-0.5zM444.13 46.46h0.5v0.5h-0.5zM452.29 44.45h0.5v0.5h-0.5zM445.82 46.14h0.5v0.5h-0.5zM451.29 42.59h0.5v0.5h-0.5zM450.88 44.11h0.5v0.5h-0.5zM449.17 46.92h0.5v0.5h-0.5zM450.51 40.53h0.5v0.5h-0.5zM447.99 44.64h0.5v0.5h-0.5zM442.82 47h0.5v0.5h-0.5zM447.76 43.77h0.5v0.5h-0.5zM441.35 45.4h0.5v0.5h-0.5zM443.33 44.66h0.5v0.5h-0.5zM446.97 46.21h0.5v0.5h-0.5zM442.72 46.5h0.5v0.5h-0.5zM441.32 45.86h0.5v0.5h-0.5zM450.4 44.41h0.5v0.5h-0.5zM452.58 39.54h0.5v0.5h-0.5zM448.2 41.56h0.5v0.5h-0.5zM439.31 47.36h0.5v0.5h-0.5zM442.47 45.86h0.5v0.5h-0.5zM452.69 45.68h0.5v0.5h-0.5zM450.32 43.21h0.5v0.5h-0.5zM448.54 44.63h0.5v0.5h-0.5zM450.21 41.66h0.5v0.5h-0.5zM449.47 41.13h0.5v0.5h-0.5zM452.95 40.7h0.5v0.5h-0.5zM452.19 47.11h0.5v0.5h-0.5zM442.99 46.3h0.5v0.5h-0.5zM451.9 45.5h0.5v0.5h-0.5zM448.18 44.46h0.5v0.5h-0.5zM451.72 41.75h0.5v0.5h-0.5zM450.85 40.17h0.5v0.5h-0.5zM445.28 42.46h0.5v0.5h-0.5zM452.83 45.87h0.5v0.5h-0.5zM441.07 45.55h0.5v0.5h-0.5zM448.7 42.57h0.5v0.5h-0.5zM447.7 42.7h0.5v0.5h-0.5zM449.79 45.91h0.5v0.5h-0.5zM447.62 41.75h0.5v0.5h-0.5zM452.47 44.16h0.5v0.5h-0.5zM446.21 42.42h0.5v0.5h-0.5zM448.67 40.48h0.5v0.5h-0.5zM446.64 41.93h0.5v0.5h-0.5zM449.53 46.66h0.5v0.5h-0.5zM447.25 43.02h0.5v0.5h-0.5zM444.46 46.76h0.5v0.5h-0.5zM450.39 44.74h0.5v0.5h-0.5zM452.28 42.03h0.5v0.5h-0.5zM449.47 43.83h0.5v0.5h-0.5zM451.44 46.9h0.5v0.5h-0.5zM441.14 45.67h0.5v0.5h-0.5zM443.51 44.68h0.5v0.5h-0.5zM445.4 44.24h0.5v0.5h-0.5zM450.04 41.46h0.5v0.5h-0.5zM443.29 46.8h0.5v0.5h-0.5zM450.84 46.56h0.5v0.5h-0.5zM449.64 45.84h0.5v0.5h-0.5zM451.1 44.56h0.5v0.5h-0.5zM446.65 43.64h0.5v0.5h-0.5zM450.63 42.22h0.5v0.5h-0.5zM449.13 39.99h0.5v0.5h-0.5zM445.27 44.63h0.5v0.5h-0.5zM439.11 47.43h0.5v0.5h-0.5zM445.74 42.69h0.5v0.5h-0.5zM441.51 46.23h0.5v0.5h-0.5zM440.65 46.96h0.5v0.5h-0.5zM450.3 47.39h0.5v0.5h-0.5zM450.18 43.44h0.5v0.5h-0.5zM441.15 45.42h0.5v0.5h-0.5z" fill="#888"/>
<path d="M436.6 48.5 L442 48.2 L448 48.4 L452.8 47.4 L453.6 41 L455 36 L457.2 33.4 L460.6 33.1 L463 35 L464.5 40 L465.4 46 L465.5 51 L465.1 54 L458 54.2 L448 53.8 L436.6 54.2Z" fill="#0a0a0a" filter="url(#b)"/>
<path d="M459.14 53.07h0.5v0.5h-0.5zM458.09 34.39h0.5v0.5h-0.5zM460.99 48.39h0.5v0.5h-0.5zM438.29 53.15h0.5v0.5h-0.5zM458.88 41.9h0.5v0.5h-0.5zM455.27 36.42h0.5v0.5h-0.5zM464.51 45.46h0.5v0.5h-0.5zM455.15 40.62h0.5v0.5h-0.5zM456.19 52.7h0.5v0.5h-0.5zM458.89 36.01h0.5v0.5h-0.5zM463.8 49.36h0.5v0.5h-0.5zM442.96 49.21h0.5v0.5h-0.5zM448.34 52.2h0.5v0.5h-0.5zM461.25 43.87h0.5v0.5h-0.5zM440.01 51.58h0.5v0.5h-0.5zM462.6 47.39h0.5v0.5h-0.5zM438.09 49.47h0.5v0.5h-0.5zM455.79 41.48h0.5v0.5h-0.5zM464.15 48.86h0.5v0.5h-0.5zM440.53 48.87h0.5v0.5h-0.5zM457.48 51.39h0.5v0.5h-0.5zM447.53 52.62h0.5v0.5h-0.5zM442.83 52.01h0.5v0.5h-0.5zM453.66 48.75h0.5v0.5h-0.5zM447.79 51.46h0.5v0.5h-0.5zM455.52 46.42h0.5v0.5h-0.5zM458.91 36.19h0.5v0.5h-0.5zM458.01 43.12h0.5v0.5h-0.5zM454.31 51.47h0.5v0.5h-0.5zM454.23 51.47h0.5v0.5h-0.5zM464.72 53.44h0.5v0.5h-0.5zM462.28 46.76h0.5v0.5h-0.5zM454.84 50.78h0.5v0.5h-0.5zM454.38 41.36h0.5v0.5h-0.5zM454.78 53.1h0.5v0.5h-0.5zM463.51 49.37h0.5v0.5h-0.5zM461.98 41.26h0.5v0.5h-0.5zM459.81 52.99h0.5v0.5h-0.5zM443.08 48.89h0.5v0.5h-0.5zM442.21 53.16h0.5v0.5h-0.5zM458.84 45.9h0.5v0.5h-0.5zM456.69 49.2h0.5v0.5h-0.5zM441.33 50.72h0.5v0.5h-0.5zM447.61 50.57h0.5v0.5h-0.5zM456.69 51.36h0.5v0.5h-0.5zM449.56 49.31h0.5v0.5h-0.5zM455.88 38.09h0.5v0.5h-0.5zM439.42 48.69h0.5v0.5h-0.5zM453.62 52.07h0.5v0.5h-0.5zM439.48 53.55h0.5v0.5h-0.5zM459.34 40.48h0.5v0.5h-0.5zM463.7 45.44h0.5v0.5h-0.5zM451.5 50.9h0.5v0.5h-0.5zM445.28 49.78h0.5v0.5h-0.5zM456.66 45.98h0.5v0.5h-0.5zM456.65 51.31h0.5v0.5h-0.5zM459.72 46.02h0.5v0.5h-0.5zM447.31 49.45h0.5v0.5h-0.5zM461.44 36.45h0.5v0.5h-0.5zM456.97 42.37h0.5v0.5h-0.5zM461.22 42.45h0.5v0.5h-0.5zM447.72 53.64h0.5v0.5h-0.5zM455.95 50.64h0.5v0.5h-0.5zM458.67 44.05h0.5v0.5h-0.5zM437.82 53.2h0.5v0.5h-0.5zM449.37 51.78h0.5v0.5h-0.5zM456.64 49.89h0.5v0.5h-0.5zM440.51 51.81h0.5v0.5h-0.5zM458.19 36.32h0.5v0.5h-0.5zM454.46 43.64h0.5v0.5h-0.5zM442.4 52.64h0.5v0.5h-0.5zM463.97 49.52h0.5v0.5h-0.5zM461.94 53.34h0.5v0.5h-0.5zM453.97 47.47h0.5v0.5h-0.5zM453.87 51.35h0.5v0.5h-0.5zM453.25 46.42h0.5v0.5h-0.5zM458.41 49.37h0.5v0.5h-0.5zM460.17 50.31h0.5v0.5h-0.5zM458.72 34.01h0.5v0.5h-0.5zM465.06 51.18h0.5v0.5h-0.5zM460.78 48.2h0.5v0.5h-0.5zM453.66 48.98h0.5v0.5h-0.5zM449.67 52.46h0.5v0.5h-0.5zM456.67 41.39h0.5v0.5h-0.5zM440.69 51.98h0.5v0.5h-0.5zM463.93 39.92h0.5v0.5h-0.5zM455.3 46.14h0.5v0.5h-0.5zM458.78 48.7h0.5v0.5h-0.5zM454.47 47.3h0.5v0.5h-0.5zM461.67 44.57h0.5v0.5h-0.5zM455.96 42.38h0.5v0.5h-0.5zM438.73 53.47h0.5v0.5h-0.5zM459.16 43.12h0.5v0.5h-0.5zM460.39 53.7h0.5v0.5h-0.5zM457.34 49.86h0.5v0.5h-0.5zM452.37 51.31h0.5v0.5h-0.5zM460.44 33.36h0.5v0.5h-0.5zM459.99 52.28h0.5v0.5h-0.5zM462.14 37.18h0.5v0.5h-0.5zM461.94 49.72h0.5v0.5h-0.5zM462.47 45.04h0.5v0.5h-0.5zM459.16 40.53h0.5v0.5h-0.5zM458.34 52.13h0.5v0.5h-0.5zM463.57 37.91h0.5v0.5h-0.5zM436.77 48.6h0.5v0.5h-0.5zM457.58 39.74h0.5v0.5h-0.5zM462.28 46.43h0.5v0.5h-0.5zM451 50.42h0.5v0.5h-0.5zM457.1 44.47h0.5v0.5h-0.5zM456.04 35.7h0.5v0.5h-0.5z" fill="#fff" fill-opacity="0.5"/>
<path d="M453.26 40.01h0.5v0.5h-0.5zM452.96 43.63h0.5v0.5h-0.5zM443.52 54.7h0.5v0.5h-0.5zM434.64 53.15h0.5v0.5h-0.5zM436.17 50.9h0.5v0.5h-0.5zM454.25 36.31h0.5v0.5h-0.5zM446.95 47.34h0.5v0.5h-0.5zM453.48 39.41h0.5v0.5h-0.5zM451.7 55.21h0.5v0.5h-0.5zM459.37 55.43h0.5v0.5h-0.5zM460.65 54.48h0.5v0.5h-0.5zM459.2 55.56h0.5v0.5h-0.5zM452.4 42.26h0.5v0.5h-0.5zM455.01 55.21h0.5v0.5h-0.5zM444.58 47.89h0.5v0.5h-0.5zM452.23 54.77h0.5v0.5h-0.5zM450.53 46.48h0.5v0.5h-0.5zM448 54.78h0.5v0.5h-0.5zM459.03 32.35h0.5v0.5h-0.5zM465.56 47.11h0.5v0.5h-0.5zM465.87 50.77h0.5v0.5h-0.5zM443.63 46.9h0.5v0.5h-0.5zM448.47 47.83h0.5v0.5h-0.5zM447.8 53.91h0.5v0.5h-0.5zM452.09 47.27h0.5v0.5h-0.5zM438.17 54.72h0.5v0.5h-0.5zM461.22 32.53h0.5v0.5h-0.5zM465.36 55.27h0.5v0.5h-0.5zM464.56 39.57h0.5v0.5h-0.5zM437.6 54.18h0.5v0.5h-0.5zM450.89 54.59h0.5v0.5h-0.5zM436.84 55.26h0.5v0.5h-0.5zM439.29 55.56h0.5v0.5h-0.5zM457.82 55.13h0.5v0.5h-0.5zM448.96 54.53h0.5v0.5h-0.5zM454.08 54.67h0.5v0.5h-0.5zM450.58 54.06h0.5v0.5h-0.5zM443.8 54.21h0.5v0.5h-0.5zM435.86 51.03h0.5v0.5h-0.5zM435.97 48.18h0.5v0.5h-0.5zM459.95 32.61h0.5v0.5h-0.5zM456.26 54.29h0.5v0.5h-0.5zM451.78 44.68h0.5v0.5h-0.5zM443.27 48.19h0.5v0.5h-0.5zM454.04 37.71h0.5v0.5h-0.5zM455.67 34.98h0.5v0.5h-0.5zM458.34 56.04h0.5v0.5h-0.5zM460.23 54.25h0.5v0.5h-0.5zM452.41 41.28h0.5v0.5h-0.5zM453.32 55.09h0.5v0.5h-0.5zM463.2 56.09h0.5v0.5h-0.5zM437.93 47.68h0.5v0.5h-0.5zM442.23 54.42h0.5v0.5h-0.5zM453.08 43.96h0.5v0.5h-0.5zM443.79 48.15h0.5v0.5h-0.5zM456.89 33.71h0.5v0.5h-0.5zM437.21 48.42h0.5v0.5h-0.5zM464.89 55.64h0.5v0.5h-0.5zM464.09 37.63h0.5v0.5h-0.5zM466.11 46.96h0.5v0.5h-0.5zM445.22 54.11h0.5v0.5h-0.5zM454.03 54.27h0.5v0.5h-0.5zM443.21 55.33h0.5v0.5h-0.5zM452.39 54.11h0.5v0.5h-0.5zM442.73 55.17h0.5v0.5h-0.5zM449.09 47.18h0.5v0.5h-0.5zM466.49 47.92h0.5v0.5h-0.5zM435.29 48.16h0.5v0.5h-0.5zM457.61 55.21h0.5v0.5h-0.5zM453 43.47h0.5v0.5h-0.5zM458.81 31.97h0.5v0.5h-0.5zM455.66 32.93h0.5v0.5h-0.5zM442.22 54.48h0.5v0.5h-0.5zM460.06 33.14h0.5v0.5h-0.5zM460.43 32.27h0.5v0.5h-0.5zM448.29 54.82h0.5v0.5h-0.5zM448.79 46.87h0.5v0.5h-0.5zM453.22 35.81h0.5v0.5h-0.5zM465.49 42.09h0.5v0.5h-0.5zM463.69 36.54h0.5v0.5h-0.5z" fill="#333"/>
<path d="M452.08 46.93h0.5v0.5h-0.5zM455.37 36.59h0.5v0.5h-0.5zM454 45.38h0.5v0.5h-0.5zM452.48 38.16h0.5v0.5h-0.5zM453.07 41.73h0.5v0.5h-0.5zM455.43 38.97h0.5v0.5h-0.5zM453.45 43.87h0.5v0.5h-0.5zM454.61 38.22h0.5v0.5h-0.5zM454.33 42.45h0.5v0.5h-0.5zM452.43 39.76h0.5v0.5h-0.5zM453.03 39.16h0.5v0.5h-0.5zM452.43 42.62h0.5v0.5h-0.5zM454.01 44.99h0.5v0.5h-0.5zM453.14 45.01h0.5v0.5h-0.5zM452.16 44.59h0.5v0.5h-0.5zM453.44 42.86h0.5v0.5h-0.5zM454.87 37.58h0.5v0.5h-0.5zM452.13 41.85h0.5v0.5h-0.5zM455.08 38.5h0.5v0.5h-0.5zM453.24 45.37h0.5v0.5h-0.5zM454.73 44.06h0.5v0.5h-0.5zM455.84 43.51h0.5v0.5h-0.5zM453.58 36.09h0.5v0.5h-0.5zM455.67 46.63h0.5v0.5h-0.5zM452.45 37.09h0.5v0.5h-0.5z" fill="#444"/>
<path d="M486.42 46.56h0.5v0.5h-0.5zM493.95 44.19h0.5v0.5h-0.5zM496.69 46.71h0.5v0.5h-0.5zM497.28 43.59h0.5v0.5h-0.5zM492.95 40.85h0.5v0.5h-0.5zM492.02 46.79h0.5v0.5h-0.5zM494.91 42.05h0.5v0.5h-0.5zM496.98 45.18h0.5v0.5h-0.5zM487.7 45.83h0.5v0.5h-0.5zM495.25 40.4h0.5v0.5h-0.5zM496.23 37.92h0.5v0.5h-0.5zM495.61 43.21h0.5v0.5h-0.5zM496.47 44.56h0.5v0.5h-0.5zM489.5 45.32h0.5v0.5h-0.5zM486.97 44.7h0.5v0.5h-0.5zM496.33 46.58h0.5v0.5h-0.5zM494.62 46.54h0.5v0.5h-0.5zM497.87 44.85h0.5v0.5h-0.5zM485.61 45.39h0.5v0.5h-0.5zM491.32 44h0.5v0.5h-0.5zM497.2 44.04h0.5v0.5h-0.5zM493.78 41.53h0.5v0.5h-0.5zM486.18 45.95h0.5v0.5h-0.5zM490.66 42.37h0.5v0.5h-0.5zM497.97 42.47h0.5v0.5h-0.5zM488.45 46.84h0.5v0.5h-0.5zM497.79 40.44h0.5v0.5h-0.5zM486.32 44.96h0.5v0.5h-0.5zM491.24 43.35h0.5v0.5h-0.5zM492.72 46.82h0.5v0.5h-0.5zM497.12 42.97h0.5v0.5h-0.5zM497.7 37.22h0.5v0.5h-0.5zM491.23 41.57h0.5v0.5h-0.5zM495.52 40.29h0.5v0.5h-0.5zM496.6 43.06h0.5v0.5h-0.5zM497.96 36.38h0.5v0.5h-0.5zM494.99 46.35h0.5v0.5h-0.5zM486.57 46.76h0.5v0.5h-0.5zM496.76 41.45h0.5v0.5h-0.5zM494.5 44.18h0.5v0.5h-0.5zM494.71 39.62h0.5v0.5h-0.5zM496.95 40.36h0.5v0.5h-0.5zM493.93 44.94h0.5v0.5h-0.5zM495.74 38.28h0.5v0.5h-0.5zM490.17 44.33h0.5v0.5h-0.5zM488.78 45.44h0.5v0.5h-0.5zM497.12 45.18h0.5v0.5h-0.5zM497.18 40.06h0.5v0.5h-0.5zM489.52 46.48h0.5v0.5h-0.5zM496.3 41.44h0.5v0.5h-0.5zM493.04 44.2h0.5v0.5h-0.5zM495.84 41.61h0.5v0.5h-0.5zM493.82 46.04h0.5v0.5h-0.5zM496.44 37.16h0.5v0.5h-0.5zM495.37 42.87h0.5v0.5h-0.5zM493.17 40.87h0.5v0.5h-0.5zM494.64 42.82h0.5v0.5h-0.5zM487.25 44.58h0.5v0.5h-0.5zM492.32 45.23h0.5v0.5h-0.5zM493.19 45.13h0.5v0.5h-0.5zM497.41 37.25h0.5v0.5h-0.5zM488.51 43.83h0.5v0.5h-0.5zM497.12 43.47h0.5v0.5h-0.5zM497.7 36.3h0.5v0.5h-0.5zM491.37 46.11h0.5v0.5h-0.5zM489.71 45.89h0.5v0.5h-0.5zM495.19 41.82h0.5v0.5h-0.5zM489.59 42.95h0.5v0.5h-0.5zM485.5 46.19h0.5v0.5h-0.5zM497.17 43.99h0.5v0.5h-0.5z" fill="#888"/>
<path d="M481.9 47.9 L488 47.5 L494 47.6 L497.6 46.5 L498.2 40 L499.3 35 L501.5 33.1 L505.5 33 L507.8 34.8 L509.2 39 L510 45 L510.1 50 L509.6 53.6 L500 53.7 L490 53.4 L481.9 53.8Z" fill="#000" filter="url(#b)"/>
<path d="M506.41 50.35h0.5v0.5h-0.5zM499.71 38.29h0.5v0.5h-0.5zM498.45 44.37h0.5v0.5h-0.5zM500.2 42.7h0.5v0.5h-0.5zM507 34.23h0.5v0.5h-0.5zM500.36 39.87h0.5v0.5h-0.5zM503.45 45.92h0.5v0.5h-0.5zM501.31 36.43h0.5v0.5h-0.5zM499.27 35.48h0.5v0.5h-0.5zM505.38 51.7h0.5v0.5h-0.5zM503.4 35.57h0.5v0.5h-0.5zM505.61 36.5h0.5v0.5h-0.5zM507.36 40.3h0.5v0.5h-0.5zM507.16 47.32h0.5v0.5h-0.5zM507.11 48.73h0.5v0.5h-0.5zM484.92 48.17h0.5v0.5h-0.5zM509.23 43.37h0.5v0.5h-0.5zM496.82 51.9h0.5v0.5h-0.5zM507.64 48.95h0.5v0.5h-0.5zM505.64 43.98h0.5v0.5h-0.5zM505.59 41.77h0.5v0.5h-0.5zM497.88 46.76h0.5v0.5h-0.5zM499.91 49.32h0.5v0.5h-0.5zM483.62 50.03h0.5v0.5h-0.5zM505.33 39.14h0.5v0.5h-0.5zM498.92 45.48h0.5v0.5h-0.5zM498.07 42.41h0.5v0.5h-0.5zM500.42 49.8h0.5v0.5h-0.5zM496.4 52.42h0.5v0.5h-0.5zM505.89 51.58h0.5v0.5h-0.5zM500.21 52.01h0.5v0.5h-0.5zM497.49 50.96h0.5v0.5h-0.5zM485.83 48.76h0.5v0.5h-0.5zM501.32 41.36h0.5v0.5h-0.5zM504.61 47.75h0.5v0.5h-0.5zM499.22 53.07h0.5v0.5h-0.5zM506.23 41.87h0.5v0.5h-0.5zM500.41 42.75h0.5v0.5h-0.5zM500.26 50.24h0.5v0.5h-0.5zM498.59 51.16h0.5v0.5h-0.5zM506.19 52.14h0.5v0.5h-0.5zM505.11 52.91h0.5v0.5h-0.5zM489.57 52.88h0.5v0.5h-0.5zM509.61 45.48h0.5v0.5h-0.5zM497.12 51h0.5v0.5h-0.5zM507.59 42.32h0.5v0.5h-0.5zM509.09 40.85h0.5v0.5h-0.5zM486.07 49.39h0.5v0.5h-0.5zM487.04 49.37h0.5v0.5h-0.5zM499.66 51.88h0.5v0.5h-0.5zM506.28 49.01h0.5v0.5h-0.5zM497.49 53.31h0.5v0.5h-0.5zM504.92 33.76h0.5v0.5h-0.5zM504.4 37.72h0.5v0.5h-0.5zM504.56 52.24h0.5v0.5h-0.5zM506.48 51.62h0.5v0.5h-0.5zM484.9 50.77h0.5v0.5h-0.5zM509.74 46.87h0.5v0.5h-0.5zM497.44 51.02h0.5v0.5h-0.5zM499.78 40.42h0.5v0.5h-0.5zM504.04 43.62h0.5v0.5h-0.5zM491.09 52.45h0.5v0.5h-0.5zM500.34 38.31h0.5v0.5h-0.5zM507.44 39.92h0.5v0.5h-0.5zM507.05 39.04h0.5v0.5h-0.5zM496.23 50.78h0.5v0.5h-0.5zM508.71 42.77h0.5v0.5h-0.5zM503.63 52.06h0.5v0.5h-0.5zM497.59 52.14h0.5v0.5h-0.5zM505.39 49.14h0.5v0.5h-0.5zM502.07 39.07h0.5v0.5h-0.5zM502.77 53.63h0.5v0.5h-0.5zM484.94 52.94h0.5v0.5h-0.5zM502.54 41.41h0.5v0.5h-0.5zM504.79 44.06h0.5v0.5h-0.5zM505.26 34.82h0.5v0.5h-0.5zM488.15 50.04h0.5v0.5h-0.5zM504.71 40.7h0.5v0.5h-0.5zM485.1 50.51h0.5v0.5h-0.5zM493.62 52.17h0.5v0.5h-0.5z" fill="#fff" fill-opacity="0.5"/>
<path d="M498.89 34.54h0.5v0.5h-0.5zM497 54.6h0.5v0.5h-0.5zM495.85 45.26h0.5v0.5h-0.5zM508.22 33.27h0.5v0.5h-0.5zM492.85 47.51h0.5v0.5h-0.5zM496.63 46.29h0.5v0.5h-0.5zM501.81 32.78h0.5v0.5h-0.5zM510.66 44.96h0.5v0.5h-0.5zM501.09 33.09h0.5v0.5h-0.5zM485.27 45.38h0.5v0.5h-0.5zM493.01 47.33h0.5v0.5h-0.5zM510.06 51.32h0.5v0.5h-0.5zM495.21 46.39h0.5v0.5h-0.5zM501.75 53.86h0.5v0.5h-0.5zM507.3 54.47h0.5v0.5h-0.5zM486.72 54.7h0.5v0.5h-0.5zM481.51 50.31h0.5v0.5h-0.5zM488.59 46.43h0.5v0.5h-0.5zM511.19 41.94h0.5v0.5h-0.5zM510.34 41.82h0.5v0.5h-0.5zM511.25 39.53h0.5v0.5h-0.5zM496.09 46.5h0.5v0.5h-0.5zM510.83 45h0.5v0.5h-0.5zM500.36 54.09h0.5v0.5h-0.5zM512.24 47.17h0.5v0.5h-0.5zM498.28 55.25h0.5v0.5h-0.5zM502.77 55.01h0.5v0.5h-0.5zM508.85 37.63h0.5v0.5h-0.5zM496.86 40.48h0.5v0.5h-0.5zM497.43 42.89h0.5v0.5h-0.5zM498.19 36.05h0.5v0.5h-0.5zM497.61 45.08h0.5v0.5h-0.5zM511.17 45.62h0.5v0.5h-0.5zM505.42 31.44h0.5v0.5h-0.5zM504.27 53.83h0.5v0.5h-0.5zM490.19 46.88h0.5v0.5h-0.5zM505.7 54.68h0.5v0.5h-0.5zM499.19 35.18h0.5v0.5h-0.5zM509.13 35.01h0.5v0.5h-0.5zM498.23 35.89h0.5v0.5h-0.5zM494.36 47.28h0.5v0.5h-0.5zM498.72 54.42h0.5v0.5h-0.5zM497.76 40.58h0.5v0.5h-0.5zM485.35 54.31h0.5v0.5h-0.5zM511.25 50h0.5v0.5h-0.5zM484.01 53.9h0.5v0.5h-0.5zM497.95 38.05h0.5v0.5h-0.5zM505.11 31.5h0.5v0.5h-0.5zM511 45.82h0.5v0.5h-0.5zM500.5 32.86h0.5v0.5h-0.5zM496.39 46.12h0.5v0.5h-0.5zM480.4 50.44h0.5v0.5h-0.5zM506.1 33.06h0.5v0.5h-0.5zM497.01 39.46h0.5v0.5h-0.5zM510.07 40.22h0.5v0.5h-0.5zM495.2 46.98h0.5v0.5h-0.5zM509.89 44.1h0.5v0.5h-0.5zM479.52 54.25h0.5v0.5h-0.5zM490.66 53.63h0.5v0.5h-0.5zM501.63 54.07h0.5v0.5h-0.5zM490.87 55.09h0.5v0.5h-0.5zM493.19 47.02h0.5v0.5h-0.5zM507.1 33.64h0.5v0.5h-0.5zM492.56 54.86h0.5v0.5h-0.5zM488.64 53.57h0.5v0.5h-0.5zM497.69 44.37h0.5v0.5h-0.5zM493.57 54.09h0.5v0.5h-0.5zM510.05 51.14h0.5v0.5h-0.5zM492.75 47.18h0.5v0.5h-0.5zM481.54 51.34h0.5v0.5h-0.5z" fill="#333"/>
<path d="M498.76 40.35h0.5v0.5h-0.5zM498.31 39.69h0.5v0.5h-0.5zM498.98 44.83h0.5v0.5h-0.5zM497.97 40.55h0.5v0.5h-0.5zM497.97 36.12h0.5v0.5h-0.5zM496.88 36.08h0.5v0.5h-0.5zM498.65 43.84h0.5v0.5h-0.5zM497.1 38.53h0.5v0.5h-0.5zM499 40.87h0.5v0.5h-0.5zM496.1 39.62h0.5v0.5h-0.5zM498.13 43.26h0.5v0.5h-0.5zM498.38 38.93h0.5v0.5h-0.5zM498.07 45.88h0.5v0.5h-0.5zM498.84 45.32h0.5v0.5h-0.5zM498.33 40.62h0.5v0.5h-0.5zM497.71 36.29h0.5v0.5h-0.5zM497.15 42.02h0.5v0.5h-0.5zM497.27 37.31h0.5v0.5h-0.5zM497.43 42.31h0.5v0.5h-0.5zM497.08 38.39h0.5v0.5h-0.5z" fill="#444"/>
<path d="M317.24 86.23h0.5v0.5h-0.5zM311.9 92.09h0.5v0.5h-0.5zM311.6 87.24h0.5v0.5h-0.5zM313.95 93.52h0.5v0.5h-0.5zM316.94 85.08h0.5v0.5h-0.5zM316.1 83.39h0.5v0.5h-0.5zM316.72 94.33h0.5v0.5h-0.5zM311.07 86.38h0.5v0.5h-0.5zM315.82 93.23h0.5v0.5h-0.5zM311.48 89.55h0.5v0.5h-0.5zM316.78 81.87h0.5v0.5h-0.5zM311.97 82.33h0.5v0.5h-0.5zM314.46 88.74h0.5v0.5h-0.5zM312.18 86.8h0.5v0.5h-0.5zM315.51 88.76h0.5v0.5h-0.5zM317.05 87.9h0.5v0.5h-0.5zM315.65 83.76h0.5v0.5h-0.5zM318.07 88.77h0.5v0.5h-0.5zM314.65 87.72h0.5v0.5h-0.5zM317.6 84.59h0.5v0.5h-0.5zM312.36 90.08h0.5v0.5h-0.5zM313.55 81.76h0.5v0.5h-0.5zM318.86 93.05h0.5v0.5h-0.5zM315.93 83.44h0.5v0.5h-0.5zM311.23 91.61h0.5v0.5h-0.5z" fill="#aaa"/>
<path d="M294.4 96.6 L304 96.2 L314 96.4 L322 96 L324.6 97.5 L324.4 101 L318 102 L304 102.4 L294.4 102.4Z" fill="#000" filter="url(#b)"/>
<path d="M316.74 98.05h0.5v0.5h-0.5zM303.42 101.21h0.5v0.5h-0.5zM306.04 101.8h0.5v0.5h-0.5zM312.56 96.68h0.5v0.5h-0.5zM311.07 99.27h0.5v0.5h-0.5zM298.33 96.45h0.5v0.5h-0.5zM305.78 100.42h0.5v0.5h-0.5zM310.59 101.86h0.5v0.5h-0.5zM294.64 100.4h0.5v0.5h-0.5zM318.93 96.45h0.5v0.5h-0.5zM303.98 101.45h0.5v0.5h-0.5zM299.56 98.92h0.5v0.5h-0.5zM303.12 98.55h0.5v0.5h-0.5zM323.5 98.77h0.5v0.5h-0.5zM298.25 100.22h0.5v0.5h-0.5zM294.5 100.77h0.5v0.5h-0.5zM296.59 101.87h0.5v0.5h-0.5zM300.57 101.88h0.5v0.5h-0.5zM320.2 100.9h0.5v0.5h-0.5zM316.08 97.42h0.5v0.5h-0.5zM306.15 98.42h0.5v0.5h-0.5zM304.47 97.47h0.5v0.5h-0.5zM301.29 99.59h0.5v0.5h-0.5zM313.5 99.86h0.5v0.5h-0.5zM307.83 100.77h0.5v0.5h-0.5zM313.72 100.98h0.5v0.5h-0.5zM302.62 99.24h0.5v0.5h-0.5zM312.62 100.19h0.5v0.5h-0.5zM322.59 97.31h0.5v0.5h-0.5zM299.48 97.64h0.5v0.5h-0.5zM317.31 96.37h0.5v0.5h-0.5zM297.79 98.55h0.5v0.5h-0.5zM306.39 97.2h0.5v0.5h-0.5zM322.59 98.97h0.5v0.5h-0.5zM314.04 101.44h0.5v0.5h-0.5zM294.6 97.22h0.5v0.5h-0.5zM304.5 100.83h0.5v0.5h-0.5zM307.65 98.78h0.5v0.5h-0.5zM311.03 100.52h0.5v0.5h-0.5zM307.88 102.27h0.5v0.5h-0.5z" fill="#fff" fill-opacity="0.45"/>
<path d="M310.41 102.8h0.5v0.5h-0.5zM313.78 96.32h0.5v0.5h-0.5zM307.98 95.42h0.5v0.5h-0.5zM312.86 103.01h0.5v0.5h-0.5zM310.37 95.39h0.5v0.5h-0.5zM307 95.85h0.5v0.5h-0.5zM317.33 102.11h0.5v0.5h-0.5zM304.2 102.64h0.5v0.5h-0.5zM313.72 102.25h0.5v0.5h-0.5zM308.48 96.09h0.5v0.5h-0.5zM321.2 101.74h0.5v0.5h-0.5zM295.72 96.45h0.5v0.5h-0.5zM325.02 100.95h0.5v0.5h-0.5zM325.06 98.87h0.5v0.5h-0.5zM308.18 102.45h0.5v0.5h-0.5zM320.58 95.99h0.5v0.5h-0.5zM318.3 102.43h0.5v0.5h-0.5zM304.99 102.44h0.5v0.5h-0.5zM305.98 95.86h0.5v0.5h-0.5zM298.45 96.22h0.5v0.5h-0.5zM311.07 96.25h0.5v0.5h-0.5zM294.3 102.99h0.5v0.5h-0.5zM296.59 103.25h0.5v0.5h-0.5zM298.62 102.75h0.5v0.5h-0.5zM303.34 102.46h0.5v0.5h-0.5zM303.58 95.2h0.5v0.5h-0.5zM308.62 96.19h0.5v0.5h-0.5zM294.38 96.79h0.5v0.5h-0.5zM293.85 99.81h0.5v0.5h-0.5zM294.39 97.53h0.5v0.5h-0.5zM296.65 96.13h0.5v0.5h-0.5zM315.41 96.05h0.5v0.5h-0.5zM311.01 102.76h0.5v0.5h-0.5zM295.44 96.31h0.5v0.5h-0.5zM314.59 95.95h0.5v0.5h-0.5zM325.46 99.78h0.5v0.5h-0.5zM307.12 96.01h0.5v0.5h-0.5zM311.59 102.22h0.5v0.5h-0.5zM317.6 102.06h0.5v0.5h-0.5zM306.89 103.11h0.5v0.5h-0.5zM317.11 102.27h0.5v0.5h-0.5zM319.14 94.87h0.5v0.5h-0.5zM300.55 102.68h0.5v0.5h-0.5zM298.06 102.76h0.5v0.5h-0.5zM295.18 95.51h0.5v0.5h-0.5z" fill="#333"/>
<path d="M342.6 96.2 L352 95.8 L362 96.2 L370 95.4 L373.9 96.5 L373.8 100 L368 101 L356 100.8 L342.6 101.2Z" fill="#000" filter="url(#b)"/>
<path d="M367.55 96.66h0.5v0.5h-0.5zM357.27 98.37h0.5v0.5h-0.5zM370.08 98.9h0.5v0.5h-0.5zM370.66 99.27h0.5v0.5h-0.5zM344.99 99.71h0.5v0.5h-0.5zM356.34 99.52h0.5v0.5h-0.5zM359.63 96.61h0.5v0.5h-0.5zM369.57 97.9h0.5v0.5h-0.5zM354.04 100.6h0.5v0.5h-0.5zM357.91 98.08h0.5v0.5h-0.5zM345.31 98.21h0.5v0.5h-0.5zM345.77 98.93h0.5v0.5h-0.5zM362.01 99.53h0.5v0.5h-0.5zM345.11 96.6h0.5v0.5h-0.5zM366.24 99.24h0.5v0.5h-0.5zM370.98 98.79h0.5v0.5h-0.5zM360.85 96.69h0.5v0.5h-0.5zM347.42 98.4h0.5v0.5h-0.5zM358.91 99.88h0.5v0.5h-0.5zM365.51 98.67h0.5v0.5h-0.5zM362.48 97.82h0.5v0.5h-0.5zM369.96 97.38h0.5v0.5h-0.5zM363.81 96.57h0.5v0.5h-0.5zM367.87 96.41h0.5v0.5h-0.5zM348.67 99.42h0.5v0.5h-0.5zM354.56 97.91h0.5v0.5h-0.5zM364.63 97.48h0.5v0.5h-0.5zM365.73 100.84h0.5v0.5h-0.5zM357.19 96.07h0.5v0.5h-0.5zM353.34 100.29h0.5v0.5h-0.5zM349.09 98.06h0.5v0.5h-0.5zM345.29 100.77h0.5v0.5h-0.5zM345.63 96.5h0.5v0.5h-0.5zM359.52 100.54h0.5v0.5h-0.5zM352.37 97.73h0.5v0.5h-0.5zM353.05 97.64h0.5v0.5h-0.5zM354.74 97.05h0.5v0.5h-0.5zM353.48 100.06h0.5v0.5h-0.5zM358.31 100.36h0.5v0.5h-0.5zM371.33 97.48h0.5v0.5h-0.5z" fill="#fff" fill-opacity="0.45"/>
<path d="M353.07 95.05h0.5v0.5h-0.5zM372.51 95.94h0.5v0.5h-0.5zM348.11 101.56h0.5v0.5h-0.5zM365.52 95.51h0.5v0.5h-0.5zM347.43 94.84h0.5v0.5h-0.5zM355.07 94.8h0.5v0.5h-0.5zM349.23 101.03h0.5v0.5h-0.5zM361.04 101.14h0.5v0.5h-0.5zM370.32 95.35h0.5v0.5h-0.5zM372.1 95.43h0.5v0.5h-0.5zM342.33 96.49h0.5v0.5h-0.5zM349.2 101h0.5v0.5h-0.5zM353.45 95.69h0.5v0.5h-0.5zM371.86 95.6h0.5v0.5h-0.5zM356.51 95.88h0.5v0.5h-0.5zM370.03 95.17h0.5v0.5h-0.5zM354.88 101.04h0.5v0.5h-0.5zM371.94 95.82h0.5v0.5h-0.5zM373.94 99.23h0.5v0.5h-0.5zM341.53 99.83h0.5v0.5h-0.5zM369.12 100.83h0.5v0.5h-0.5zM342.59 97.87h0.5v0.5h-0.5zM367.17 94.87h0.5v0.5h-0.5zM346.89 101.38h0.5v0.5h-0.5zM354.12 94.95h0.5v0.5h-0.5zM360.55 101.01h0.5v0.5h-0.5zM366.36 101.69h0.5v0.5h-0.5zM356.79 100.93h0.5v0.5h-0.5zM351.31 101.54h0.5v0.5h-0.5zM367.3 95.37h0.5v0.5h-0.5zM373.89 96.98h0.5v0.5h-0.5zM362.91 95.85h0.5v0.5h-0.5zM357.68 101.4h0.5v0.5h-0.5zM354.81 101.8h0.5v0.5h-0.5zM360.79 95.78h0.5v0.5h-0.5zM365.06 95.63h0.5v0.5h-0.5zM362.93 101.51h0.5v0.5h-0.5zM354.74 100.84h0.5v0.5h-0.5zM370.69 95.16h0.5v0.5h-0.5zM346.67 95.66h0.5v0.5h-0.5zM373.89 95.42h0.5v0.5h-0.5zM357.49 100.83h0.5v0.5h-0.5zM367 95.4h0.5v0.5h-0.5zM374.22 97.37h0.5v0.5h-0.5zM347.43 95.88h0.5v0.5h-0.5z" fill="#333"/>
<path d="M390.6 95.8 L400 95.2 L410 95.8 L418 94.8 L420.7 96 L420.4 100 L412 101 L400 100.8 L390.6 101.3Z" fill="#000" filter="url(#b)"/>
<path d="M414.45 95.82h0.5v0.5h-0.5zM399.89 95.29h0.5v0.5h-0.5zM405.26 99.05h0.5v0.5h-0.5zM400.63 96.75h0.5v0.5h-0.5zM404.3 97.4h0.5v0.5h-0.5zM410.61 100.04h0.5v0.5h-0.5zM395.66 97.14h0.5v0.5h-0.5zM391.63 100.36h0.5v0.5h-0.5zM396.95 96.4h0.5v0.5h-0.5zM399.81 100.2h0.5v0.5h-0.5zM404.63 96.42h0.5v0.5h-0.5zM393.66 98.42h0.5v0.5h-0.5zM418.37 96.73h0.5v0.5h-0.5zM415.35 98.88h0.5v0.5h-0.5zM404.55 99.98h0.5v0.5h-0.5zM417.87 98.73h0.5v0.5h-0.5zM415.89 99.02h0.5v0.5h-0.5zM401.91 96.73h0.5v0.5h-0.5zM418.42 96.71h0.5v0.5h-0.5zM403.06 95.96h0.5v0.5h-0.5zM409.45 100.84h0.5v0.5h-0.5zM399.92 96.15h0.5v0.5h-0.5zM417.67 99.55h0.5v0.5h-0.5zM419.49 98.72h0.5v0.5h-0.5zM404.82 98.74h0.5v0.5h-0.5zM399.6 97.93h0.5v0.5h-0.5zM409.48 97.79h0.5v0.5h-0.5zM404.4 97.68h0.5v0.5h-0.5zM393.87 98.88h0.5v0.5h-0.5zM420.33 97.96h0.5v0.5h-0.5zM406.5 95.82h0.5v0.5h-0.5zM413.95 99.19h0.5v0.5h-0.5zM414.58 99.49h0.5v0.5h-0.5zM410.99 99.5h0.5v0.5h-0.5zM397.48 97.09h0.5v0.5h-0.5zM419.94 97.36h0.5v0.5h-0.5zM395.67 99.43h0.5v0.5h-0.5zM392.47 96.82h0.5v0.5h-0.5zM405.09 99.68h0.5v0.5h-0.5zM409.75 98.43h0.5v0.5h-0.5z" fill="#fff" fill-opacity="0.45"/>
<path d="M408.58 95.16h0.5v0.5h-0.5zM403.72 100.98h0.5v0.5h-0.5zM405.87 100.96h0.5v0.5h-0.5zM409.67 95.76h0.5v0.5h-0.5zM390.27 99.99h0.5v0.5h-0.5zM411.03 95.61h0.5v0.5h-0.5zM419.04 95.25h0.5v0.5h-0.5zM417.86 94.21h0.5v0.5h-0.5zM408.37 101.09h0.5v0.5h-0.5zM411.03 95.54h0.5v0.5h-0.5zM412.33 95.23h0.5v0.5h-0.5zM410.35 101.56h0.5v0.5h-0.5zM389.66 95.61h0.5v0.5h-0.5zM393.98 101.18h0.5v0.5h-0.5zM398.93 94.6h0.5v0.5h-0.5zM420.67 100.11h0.5v0.5h-0.5zM418.79 94.75h0.5v0.5h-0.5zM394.58 95.34h0.5v0.5h-0.5zM410.47 101.68h0.5v0.5h-0.5zM401.65 101.04h0.5v0.5h-0.5zM391.42 95.13h0.5v0.5h-0.5zM391.27 101.39h0.5v0.5h-0.5zM409.89 95.08h0.5v0.5h-0.5zM414.19 101.33h0.5v0.5h-0.5zM403.37 101.05h0.5v0.5h-0.5zM410.93 95.18h0.5v0.5h-0.5zM392.23 95.03h0.5v0.5h-0.5zM417.96 94.18h0.5v0.5h-0.5zM402.94 95.07h0.5v0.5h-0.5zM392.68 94.19h0.5v0.5h-0.5zM389.27 99.97h0.5v0.5h-0.5zM403.79 101.03h0.5v0.5h-0.5zM389.65 99.74h0.5v0.5h-0.5zM421.02 99.98h0.5v0.5h-0.5zM410.5 101.34h0.5v0.5h-0.5zM395.3 101.41h0.5v0.5h-0.5zM414.62 95.05h0.5v0.5h-0.5zM412.14 101.77h0.5v0.5h-0.5zM390.42 97.89h0.5v0.5h-0.5zM396.71 101.3h0.5v0.5h-0.5zM400.09 100.92h0.5v0.5h-0.5zM406.94 101.1h0.5v0.5h-0.5zM399.93 102.38h0.5v0.5h-0.5zM398.15 95h0.5v0.5h-0.5zM405.46 95.24h0.5v0.5h-0.5z" fill="#333"/>
<path d="M436.6 96 L446 95.4 L456 95.6 L463 94.8 L465.6 96 L465.4 100 L458 100.8 L446 100.6 L436.6 101.2Z" fill="#000" filter="url(#b)"/>
<path d="M451.35 99.96h0.5v0.5h-0.5zM460.63 95.89h0.5v0.5h-0.5zM445.13 98.53h0.5v0.5h-0.5zM448.47 96.71h0.5v0.5h-0.5zM458.06 98.82h0.5v0.5h-0.5zM443.02 100.46h0.5v0.5h-0.5zM438.51 99.17h0.5v0.5h-0.5zM437.81 98.14h0.5v0.5h-0.5zM440.3 96.43h0.5v0.5h-0.5zM438.96 99.93h0.5v0.5h-0.5zM465.22 99.1h0.5v0.5h-0.5zM457.8 96.94h0.5v0.5h-0.5zM444.24 99.53h0.5v0.5h-0.5zM440.28 97.96h0.5v0.5h-0.5zM445.62 96.3h0.5v0.5h-0.5zM457.87 100.74h0.5v0.5h-0.5zM459.05 99.29h0.5v0.5h-0.5zM441.02 98.86h0.5v0.5h-0.5zM448.78 97.9h0.5v0.5h-0.5zM455.92 99.41h0.5v0.5h-0.5zM450.93 97.7h0.5v0.5h-0.5zM455 96.88h0.5v0.5h-0.5zM444.22 99.24h0.5v0.5h-0.5zM456.59 98.34h0.5v0.5h-0.5zM445.69 100.02h0.5v0.5h-0.5zM459.48 96.24h0.5v0.5h-0.5zM437.32 100.09h0.5v0.5h-0.5zM461.35 99.43h0.5v0.5h-0.5zM460.12 100.17h0.5v0.5h-0.5zM463.87 98.17h0.5v0.5h-0.5zM463.7 99.75h0.5v0.5h-0.5zM459.99 100.42h0.5v0.5h-0.5zM448.63 99.95h0.5v0.5h-0.5zM458.73 95.41h0.5v0.5h-0.5zM461.58 97h0.5v0.5h-0.5zM437.26 99.43h0.5v0.5h-0.5zM460.14 99.29h0.5v0.5h-0.5zM453.99 98.4h0.5v0.5h-0.5zM455.13 96h0.5v0.5h-0.5zM458.18 98.52h0.5v0.5h-0.5z" fill="#fff" fill-opacity="0.45"/>
<path d="M462.79 100.51h0.5v0.5h-0.5zM453.92 95.49h0.5v0.5h-0.5zM461.87 101.07h0.5v0.5h-0.5zM467.12 96.28h0.5v0.5h-0.5zM451.94 95.39h0.5v0.5h-0.5zM465.38 100.95h0.5v0.5h-0.5zM465.55 98.76h0.5v0.5h-0.5zM451.04 101.76h0.5v0.5h-0.5zM450.58 100.96h0.5v0.5h-0.5zM447.96 100.82h0.5v0.5h-0.5zM436.63 95.71h0.5v0.5h-0.5zM466.56 98.01h0.5v0.5h-0.5zM454.69 100.9h0.5v0.5h-0.5zM466.1 96.47h0.5v0.5h-0.5zM436.05 96.4h0.5v0.5h-0.5zM458.61 101.27h0.5v0.5h-0.5zM446.57 95.34h0.5v0.5h-0.5zM458.4 95.05h0.5v0.5h-0.5zM458.46 102.16h0.5v0.5h-0.5zM457.68 95.31h0.5v0.5h-0.5zM465.14 95.57h0.5v0.5h-0.5zM456.45 100.78h0.5v0.5h-0.5zM442.23 100.9h0.5v0.5h-0.5zM447.94 100.95h0.5v0.5h-0.5zM453.3 94.89h0.5v0.5h-0.5zM441.76 95.58h0.5v0.5h-0.5zM455.59 102h0.5v0.5h-0.5zM435.97 101.01h0.5v0.5h-0.5zM454.27 102.21h0.5v0.5h-0.5zM444.11 101.21h0.5v0.5h-0.5zM465.05 100.29h0.5v0.5h-0.5zM463.85 94.89h0.5v0.5h-0.5zM465.07 95.53h0.5v0.5h-0.5zM460.18 95.12h0.5v0.5h-0.5zM434.93 101.94h0.5v0.5h-0.5zM441.43 95.21h0.5v0.5h-0.5zM463.24 100.57h0.5v0.5h-0.5zM465.52 95.4h0.5v0.5h-0.5zM452.66 100.85h0.5v0.5h-0.5zM465.65 96.37h0.5v0.5h-0.5zM436.39 98.93h0.5v0.5h-0.5zM452.71 100.85h0.5v0.5h-0.5zM461.86 94.58h0.5v0.5h-0.5zM439.02 101.59h0.5v0.5h-0.5zM462 94.89h0.5v0.5h-0.5z" fill="#333"/>
<path d="M481.6 96 L490 95.4 L500 95.6 L508 94.6 L510.9 95.6 L510.6 99.6 L502 100.8 L490 100.6 L481.6 101.3Z" fill="#000" filter="url(#b)"/>
<path d="M505.63 97.47h0.5v0.5h-0.5zM505.66 95.16h0.5v0.5h-0.5zM497.69 100.57h0.5v0.5h-0.5zM492.89 97.04h0.5v0.5h-0.5zM509.81 96.17h0.5v0.5h-0.5zM510.39 96.54h0.5v0.5h-0.5zM488.89 96.25h0.5v0.5h-0.5zM498.73 97.64h0.5v0.5h-0.5zM499.27 100.17h0.5v0.5h-0.5zM499.9 97.26h0.5v0.5h-0.5zM495.67 96.46h0.5v0.5h-0.5zM504.37 95.27h0.5v0.5h-0.5zM505.75 98.14h0.5v0.5h-0.5zM490.92 99.32h0.5v0.5h-0.5zM503.81 95.53h0.5v0.5h-0.5zM494.74 100.36h0.5v0.5h-0.5zM507.37 99.63h0.5v0.5h-0.5zM498.48 96.75h0.5v0.5h-0.5zM487.22 99.62h0.5v0.5h-0.5zM500.75 100.42h0.5v0.5h-0.5zM488.87 96.81h0.5v0.5h-0.5zM496.35 100.05h0.5v0.5h-0.5zM500.05 98.22h0.5v0.5h-0.5zM502.95 99.67h0.5v0.5h-0.5zM489.71 95.89h0.5v0.5h-0.5zM485.86 99.09h0.5v0.5h-0.5zM509.45 95.46h0.5v0.5h-0.5zM502.73 99.08h0.5v0.5h-0.5zM505.12 97.11h0.5v0.5h-0.5zM493.53 99.58h0.5v0.5h-0.5zM504.3 100.23h0.5v0.5h-0.5zM498.81 100.58h0.5v0.5h-0.5zM494.64 100.04h0.5v0.5h-0.5zM497.17 97.41h0.5v0.5h-0.5zM486.82 96.83h0.5v0.5h-0.5zM489.12 97.88h0.5v0.5h-0.5zM485.41 96.8h0.5v0.5h-0.5zM490.56 98.31h0.5v0.5h-0.5zM501.9 99.64h0.5v0.5h-0.5zM502.18 98.27h0.5v0.5h-0.5z" fill="#fff" fill-opacity="0.45"/>
<path d="M511.34 97.59h0.5v0.5h-0.5zM483.3 101.18h0.5v0.5h-0.5zM493.62 94.65h0.5v0.5h-0.5zM499.25 101.59h0.5v0.5h-0.5zM502.21 101.68h0.5v0.5h-0.5zM481.48 99.54h0.5v0.5h-0.5zM507.12 94.34h0.5v0.5h-0.5zM499.33 94.57h0.5v0.5h-0.5zM502.3 101.55h0.5v0.5h-0.5zM492.34 101.13h0.5v0.5h-0.5zM503.46 94.49h0.5v0.5h-0.5zM487.33 101.69h0.5v0.5h-0.5zM508.46 94.07h0.5v0.5h-0.5zM499.19 100.93h0.5v0.5h-0.5zM480.81 98.24h0.5v0.5h-0.5zM485.74 95.16h0.5v0.5h-0.5zM510.34 100.18h0.5v0.5h-0.5zM481.29 97.91h0.5v0.5h-0.5zM483.75 95.6h0.5v0.5h-0.5zM502.26 100.81h0.5v0.5h-0.5zM507.85 100.02h0.5v0.5h-0.5zM505.32 94.92h0.5v0.5h-0.5zM508.62 94.42h0.5v0.5h-0.5zM510.32 99.94h0.5v0.5h-0.5zM510.77 98.63h0.5v0.5h-0.5zM506.38 101.07h0.5v0.5h-0.5zM494.32 101.75h0.5v0.5h-0.5zM489.45 95.31h0.5v0.5h-0.5zM485.34 101.07h0.5v0.5h-0.5zM485.76 95.07h0.5v0.5h-0.5zM481.44 95.66h0.5v0.5h-0.5zM502.58 100.84h0.5v0.5h-0.5zM505.09 93.49h0.5v0.5h-0.5zM492.26 95.12h0.5v0.5h-0.5zM505.56 93.27h0.5v0.5h-0.5zM492 100.68h0.5v0.5h-0.5zM487.4 101.42h0.5v0.5h-0.5zM499.18 101.35h0.5v0.5h-0.5zM482.69 101.33h0.5v0.5h-0.5zM496.24 101.57h0.5v0.5h-0.5zM497.35 100.9h0.5v0.5h-0.5zM483.66 101.71h0.5v0.5h-0.5zM486.48 94.96h0.5v0.5h-0.5zM501.78 101.53h0.5v0.5h-0.5zM499.38 95.4h0.5v0.5h-0.5z" fill="#333"/>
<text x="0.8" y="136.1" font-size="11.4" text-anchor="start" font-weight="bold" fill="#000" textLength="7.7" lengthAdjust="spacingAndGlyphs" stroke="#000" stroke-width="0.3">C</text>
<line x1="25.5" y1="142.4" x2="25.5" y2="236.9" stroke="#555" stroke-width="1.0" />
<line x1="25.5" y1="236.6" x2="279.6" y2="236.6" stroke="#1a1a1a" stroke-width="0.9" />
<line x1="23.8" y1="236.6" x2="25.5" y2="236.6" stroke="#333" stroke-width="0.6" />
<text x="23.4" y="238.1" font-size="4.3" text-anchor="end" font-weight="bold" fill="#000" textLength="2.5" lengthAdjust="spacingAndGlyphs"  stroke="#000" stroke-width="0.14">0</text>
<line x1="23.8" y1="217.92" x2="25.5" y2="217.92" stroke="#333" stroke-width="0.6" />
<text x="23.4" y="219.42" font-size="4.3" text-anchor="end" font-weight="bold" fill="#000" textLength="2.5" lengthAdjust="spacingAndGlyphs"  stroke="#000" stroke-width="0.14">5</text>
<line x1="23.8" y1="199.25" x2="25.5" y2="199.25" stroke="#333" stroke-width="0.6" />
<text x="23.4" y="200.75" font-size="4.3" text-anchor="end" font-weight="bold" fill="#000" textLength="5" lengthAdjust="spacingAndGlyphs"  stroke="#000" stroke-width="0.14">10</text>
<line x1="23.8" y1="180.57" x2="25.5" y2="180.57" stroke="#333" stroke-width="0.6" />
<text x="23.4" y="182.07" font-size="4.3" text-anchor="end" font-weight="bold" fill="#000" textLength="5" lengthAdjust="spacingAndGlyphs"  stroke="#000" stroke-width="0.14">15</text>
<line x1="23.8" y1="161.9" x2="25.5" y2="161.9" stroke="#333" stroke-width="0.6" />
<text x="23.4" y="163.4" font-size="4.3" text-anchor="end" font-weight="bold" fill="#000" textLength="5" lengthAdjust="spacingAndGlyphs"  stroke="#000" stroke-width="0.14">20</text>
<line x1="23.8" y1="143.22" x2="25.5" y2="143.22" stroke="#333" stroke-width="0.6" />
<text x="23.4" y="144.72" font-size="4.3" text-anchor="end" font-weight="bold" fill="#000" textLength="5" lengthAdjust="spacingAndGlyphs"  stroke="#000" stroke-width="0.14">25</text>
<text transform="translate(8.9,189.5) rotate(-90)" font-size="4.5" font-weight="bold" text-anchor="middle" fill="#000" textLength="74.6" lengthAdjust="spacingAndGlyphs">%CMV-Specific of Lymphocyte Gate</text>
<text x="98" y="133.8" font-size="5.0" text-anchor="start" font-weight="bold" fill="#000" textLength="7.4" lengthAdjust="spacingAndGlyphs"  stroke="#000" stroke-width="0.14">CMV</text>
<text x="108.3" y="131.6" font-size="3.0" text-anchor="start" font-weight="bold" fill="#000" textLength="1.6" lengthAdjust="spacingAndGlyphs"  stroke="#000" stroke-width="0.14">+</text>
<text x="111.4" y="133.8" font-size="5.0" text-anchor="start" font-weight="bold" fill="#000" textLength="20.8" lengthAdjust="spacingAndGlyphs"  stroke="#000" stroke-width="0.14">Recipients</text>
<text x="210.4" y="134.1" font-size="5.0" text-anchor="start" font-weight="bold" fill="#000" textLength="7.6" lengthAdjust="spacingAndGlyphs"  stroke="#000" stroke-width="0.14">CMV</text>
<text x="220.8" y="131.7" font-size="3.0" text-anchor="start" font-weight="bold" fill="#000" textLength="1.4" lengthAdjust="spacingAndGlyphs"  stroke="#000" stroke-width="0.14">-</text>
<text x="225" y="134.1" font-size="5.0" text-anchor="start" font-weight="bold" fill="#000" textLength="21" lengthAdjust="spacingAndGlyphs"  stroke="#000" stroke-width="0.14">Recipients</text>
<text x="255.6" y="132.9" font-size="4.6" text-anchor="start" font-weight="bold" fill="#000" textLength="26.5" lengthAdjust="spacingAndGlyphs"  stroke="#000" stroke-width="0.14">Normal Donor</text>
<line x1="206.7" y1="140.4" x2="206.7" y2="236.6" stroke="#888" stroke-width="0.6" />
<line x1="253.5" y1="143.8" x2="253.5" y2="236.6" stroke="#888" stroke-width="0.6" />
<text x="31.8" y="242.9" font-size="5.0" text-anchor="middle" font-weight="normal" fill="#000" >1</text>
<line x1="26.6" y1="236.6" x2="26.6" y2="238.8" stroke="#222" stroke-width="0.7" />
<rect x="26.9" y="226.14" width="2.15" height="10.46" fill="#f4f4f4" stroke="#777" stroke-width="0.45" />
<rect x="29.4" y="224.8" width="2.25" height="11.8" fill="#8c8c8c" stroke="#3a3a3a" stroke-width="0.3" />
<rect x="31.95" y="207.99" width="2.25" height="28.61" fill="#525252" stroke="#3a3a3a" stroke-width="0.3" />
<rect x="34.35" y="202.61" width="2.55" height="33.99" fill="#0a0a0a" />
<text x="43.83" y="242.9" font-size="5.0" text-anchor="middle" font-weight="normal" fill="#000" >2</text>
<line x1="38.63" y1="236.6" x2="38.63" y2="238.8" stroke="#222" stroke-width="0.7" />
<rect x="38.93" y="198.88" width="2.15" height="37.72" fill="#f4f4f4" stroke="#777" stroke-width="0.45" />
<rect x="41.43" y="200.89" width="2.25" height="35.71" fill="#8c8c8c" stroke="#3a3a3a" stroke-width="0.3" />
<rect x="43.98" y="213.22" width="2.25" height="23.38" fill="#525252" stroke="#3a3a3a" stroke-width="0.3" />
<rect x="46.38" y="211.58" width="2.55" height="25.02" fill="#0a0a0a" />
<text x="55.86" y="242.9" font-size="5.0" text-anchor="middle" font-weight="normal" fill="#000" >3</text>
<line x1="50.66" y1="236.6" x2="50.66" y2="238.8" stroke="#222" stroke-width="0.7" />
<rect x="50.96" y="223.15" width="2.15" height="13.45" fill="#f4f4f4" stroke="#777" stroke-width="0.45" />
<rect x="53.46" y="187.82" width="2.25" height="48.78" fill="#8c8c8c" stroke="#3a3a3a" stroke-width="0.3" />
<rect x="56.01" y="147.48" width="2.25" height="89.12" fill="#525252" stroke="#3a3a3a" stroke-width="0.3" />
<rect x="58.41" y="202.61" width="2.55" height="33.99" fill="#0a0a0a" />
<text x="67.89" y="242.9" font-size="5.0" text-anchor="middle" font-weight="normal" fill="#000" >4</text>
<line x1="62.69" y1="236.6" x2="62.69" y2="238.8" stroke="#222" stroke-width="0.7" />
<rect x="62.99" y="213.44" width="2.15" height="23.16" fill="#f4f4f4" stroke="#777" stroke-width="0.45" />
<rect x="65.49" y="182.97" width="2.25" height="53.63" fill="#8c8c8c" stroke="#3a3a3a" stroke-width="0.3" />
<rect x="68.04" y="170.27" width="2.25" height="66.33" fill="#525252" stroke="#3a3a3a" stroke-width="0.3" />
<rect x="70.44" y="146.21" width="2.55" height="90.39" fill="#0a0a0a" />
<text x="79.92" y="242.9" font-size="5.0" text-anchor="middle" font-weight="normal" fill="#000" >5</text>
<line x1="74.72" y1="236.6" x2="74.72" y2="238.8" stroke="#222" stroke-width="0.7" />
<rect x="75.02" y="207.84" width="2.15" height="28.76" fill="#f4f4f4" stroke="#777" stroke-width="0.45" />
<rect x="77.52" y="208.74" width="2.25" height="27.86" fill="#8c8c8c" stroke="#3a3a3a" stroke-width="0.3" />
<rect x="80.07" y="226.29" width="2.25" height="10.31" fill="#525252" stroke="#3a3a3a" stroke-width="0.3" />
<rect x="82.47" y="169.74" width="2.55" height="66.86" fill="#0a0a0a" />
<text x="91.95" y="242.9" font-size="5.0" text-anchor="middle" font-weight="normal" fill="#000" >6</text>
<line x1="86.75" y1="236.6" x2="86.75" y2="238.8" stroke="#222" stroke-width="0.7" />
<rect x="87.05" y="235.85" width="2.15" height="0.75" fill="#f4f4f4" stroke="#777" stroke-width="0.45" />
<rect x="89.55" y="219.57" width="2.25" height="17.03" fill="#8c8c8c" stroke="#3a3a3a" stroke-width="0.3" />
<rect x="92.1" y="215.83" width="2.25" height="20.77" fill="#525252" stroke="#3a3a3a" stroke-width="0.3" />
<rect x="94.5" y="218.3" width="2.55" height="18.3" fill="#0a0a0a" />
<text x="103.98" y="242.9" font-size="5.0" text-anchor="middle" font-weight="normal" fill="#000" >7</text>
<line x1="98.78" y1="236.6" x2="98.78" y2="238.8" stroke="#222" stroke-width="0.7" />
<rect x="99.08" y="229.32" width="2.15" height="7.28" fill="#f4f4f4" stroke="#777" stroke-width="0.45" />
<rect x="101.58" y="229.47" width="2.25" height="7.13" fill="#8c8c8c" stroke="#3a3a3a" stroke-width="0.3" />
<rect x="104.13" y="222.56" width="2.25" height="14.04" fill="#525252" stroke="#3a3a3a" stroke-width="0.3" />
<ellipse cx="108.21" cy="233.6" rx="0.85" ry="0.85" fill="#000" />
<text x="116.01" y="242.9" font-size="5.0" text-anchor="middle" font-weight="normal" fill="#000" >8</text>
<line x1="110.81" y1="236.6" x2="110.81" y2="238.8" stroke="#222" stroke-width="0.7" />
<rect x="111.11" y="187.67" width="2.15" height="48.93" fill="#f4f4f4" stroke="#777" stroke-width="0.45" />
<rect x="113.61" y="194.92" width="2.25" height="41.68" fill="#8c8c8c" stroke="#3a3a3a" stroke-width="0.3" />
<rect x="116.16" y="191.18" width="2.25" height="45.42" fill="#525252" stroke="#3a3a3a" stroke-width="0.3" />
<rect x="118.56" y="204.11" width="2.55" height="32.49" fill="#0a0a0a" />
<text x="128.04" y="242.9" font-size="5.0" text-anchor="middle" font-weight="normal" fill="#000" >9</text>
<line x1="122.84" y1="236.6" x2="122.84" y2="238.8" stroke="#222" stroke-width="0.7" />
<rect x="123.14" y="235.48" width="2.15" height="1.12" fill="#f4f4f4" stroke="#777" stroke-width="0.45" />
<rect x="125.64" y="207.99" width="2.25" height="28.61" fill="#8c8c8c" stroke="#3a3a3a" stroke-width="0.3" />
<rect x="128.19" y="232.27" width="2.25" height="4.33" fill="#525252" stroke="#3a3a3a" stroke-width="0.3" />
<ellipse cx="132.27" cy="233.6" rx="0.85" ry="0.85" fill="#000" />
<text x="140.07" y="242.9" font-size="5.0" text-anchor="middle" font-weight="normal" fill="#000" >10</text>
<line x1="134.87" y1="236.6" x2="134.87" y2="238.8" stroke="#222" stroke-width="0.7" />
<ellipse cx="144.3" cy="233.6" rx="0.85" ry="0.85" fill="#000" />
<text x="152.1" y="242.9" font-size="5.0" text-anchor="middle" font-weight="normal" fill="#000" >11</text>
<line x1="146.9" y1="236.6" x2="146.9" y2="238.8" stroke="#222" stroke-width="0.7" />
<rect x="147.2" y="207.47" width="2.15" height="29.13" fill="#f4f4f4" stroke="#777" stroke-width="0.45" />
<rect x="149.7" y="224.05" width="2.25" height="12.55" fill="#8c8c8c" stroke="#3a3a3a" stroke-width="0.3" />
<rect x="152.25" y="225.92" width="2.25" height="10.68" fill="#525252" stroke="#3a3a3a" stroke-width="0.3" />
<ellipse cx="156.33" cy="233.6" rx="0.85" ry="0.85" fill="#000" />
<text x="164.13" y="242.9" font-size="5.0" text-anchor="middle" font-weight="normal" fill="#000" >12</text>
<line x1="158.93" y1="236.6" x2="158.93" y2="238.8" stroke="#222" stroke-width="0.7" />
<rect x="164.28" y="194.17" width="2.25" height="42.43" fill="#525252" stroke="#3a3a3a" stroke-width="0.3" />
<ellipse cx="168.36" cy="233.6" rx="0.85" ry="0.85" fill="#000" />
<text x="176.16" y="242.9" font-size="5.0" text-anchor="middle" font-weight="normal" fill="#000" >13</text>
<line x1="170.96" y1="236.6" x2="170.96" y2="238.8" stroke="#222" stroke-width="0.7" />
<ellipse cx="180.39" cy="233.6" rx="0.85" ry="0.85" fill="#000" />
<text x="188.19" y="242.9" font-size="5.0" text-anchor="middle" font-weight="normal" fill="#000" >14</text>
<line x1="182.99" y1="236.6" x2="182.99" y2="238.8" stroke="#222" stroke-width="0.7" />
<rect x="183.29" y="188.42" width="2.15" height="48.18" fill="#f4f4f4" stroke="#777" stroke-width="0.45" />
<rect x="185.79" y="188.57" width="2.25" height="48.03" fill="#8c8c8c" stroke="#3a3a3a" stroke-width="0.3" />
<ellipse cx="189.87" cy="233.6" rx="0.85" ry="0.85" fill="#000" />
<ellipse cx="192.42" cy="233.6" rx="0.85" ry="0.85" fill="#000" />
<text x="200.22" y="242.9" font-size="5.0" text-anchor="middle" font-weight="normal" fill="#000" >15</text>
<line x1="195.02" y1="236.6" x2="195.02" y2="238.8" stroke="#222" stroke-width="0.7" />
<rect x="197.82" y="207.24" width="2.25" height="29.36" fill="#8c8c8c" stroke="#3a3a3a" stroke-width="0.3" />
<rect x="200.37" y="207.24" width="2.25" height="29.36" fill="#525252" stroke="#3a3a3a" stroke-width="0.3" />
<rect x="202.77" y="221.29" width="2.55" height="15.31" fill="#0a0a0a" />
<text x="212.25" y="242.9" font-size="5.0" text-anchor="middle" font-weight="normal" fill="#000" >16</text>
<line x1="207.05" y1="236.6" x2="207.05" y2="238.8" stroke="#222" stroke-width="0.7" />
<ellipse cx="213.93" cy="233.6" rx="0.85" ry="0.85" fill="#000" />
<ellipse cx="216.48" cy="233.6" rx="0.85" ry="0.85" fill="#000" />
<text x="224.28" y="242.9" font-size="5.0" text-anchor="middle" font-weight="normal" fill="#000" >17</text>
<line x1="219.08" y1="236.6" x2="219.08" y2="238.8" stroke="#222" stroke-width="0.7" />
<rect x="221.88" y="235.82" width="2.25" height="0.78" fill="#8c8c8c" stroke="#3a3a3a" stroke-width="0.3" />
<text x="236.31" y="242.9" font-size="5.0" text-anchor="middle" font-weight="normal" fill="#000" >18</text>
<line x1="231.11" y1="236.6" x2="231.11" y2="238.8" stroke="#222" stroke-width="0.7" />
<rect x="236.46" y="234.88" width="2.25" height="1.72" fill="#525252" stroke="#3a3a3a" stroke-width="0.3" />
<ellipse cx="240.54" cy="233.6" rx="0.85" ry="0.85" fill="#000" />
<text x="248.34" y="242.9" font-size="5.0" text-anchor="middle" font-weight="normal" fill="#000" >19</text>
<line x1="243.14" y1="236.6" x2="243.14" y2="238.8" stroke="#222" stroke-width="0.7" />
<ellipse cx="252.57" cy="233.6" rx="0.85" ry="0.85" fill="#000" />
<line x1="265.7" y1="236.6" x2="265.7" y2="238.8" stroke="#222" stroke-width="0.7" />
<rect x="255.6" y="220.54" width="2.2" height="16.06" fill="#f4f4f4" stroke="#777" stroke-width="0.45" />
<defs><pattern id="ck" x="267.2" y="154.9" width="2.6" height="5.75" patternUnits="userSpaceOnUse"><rect width="2.6" height="5.75" fill="#eee"/><ellipse cx="1.3" cy="2.9" rx="1.0" ry="1.25" fill="#000"/></pattern></defs>
<rect x="267.4" y="154.5" width="2.3" height="82.1" fill="url(#ck)" stroke="#555" stroke-width="0.6" />
<text x="258.3" y="242.9" font-size="5.0" text-anchor="middle" font-weight="normal" fill="#000" >ND</text>
<text x="272.9" y="242.9" font-size="5.0" text-anchor="middle" font-weight="normal" fill="#000" >ND 2</text>
<text x="153.1" y="250.6" font-size="4.6" text-anchor="middle" font-weight="bold" fill="#000" textLength="31.8" lengthAdjust="spacingAndGlyphs"  stroke="#000" stroke-width="0.14">Patient Number</text>
<ellipse cx="3.1" cy="252.1" rx="1" ry="1" fill="#111" />
<text x="5.9" y="255.6" font-size="5.6" text-anchor="start" font-weight="bold" fill="#000" textLength="20.9" lengthAdjust="spacingAndGlyphs"  stroke="#000" stroke-width="0.14">not done</text>
<text x="334.8" y="135.8" font-size="11.0" text-anchor="start" font-weight="bold" fill="#000" textLength="7" lengthAdjust="spacingAndGlyphs" stroke="#000" stroke-width="0.3">D</text>
<line x1="359.3" y1="150.6" x2="359.3" y2="230.6" stroke="#333" stroke-width="0.9" />
<line x1="359.3" y1="214.2" x2="478.2" y2="214.2" stroke="#111" stroke-width="1.0" />
<line x1="357.6" y1="229.9" x2="359.3" y2="229.9" stroke="#333" stroke-width="0.7" />
<text x="357.4" y="231.4" font-size="4.3" text-anchor="end" font-weight="bold" fill="#000" textLength="8.1" lengthAdjust="spacingAndGlyphs"  stroke="#000" stroke-width="0.14">-20</text>
<line x1="357.6" y1="214.2" x2="359.3" y2="214.2" stroke="#333" stroke-width="0.7" />
<text x="357.4" y="215.7" font-size="4.3" text-anchor="end" font-weight="bold" fill="#000" textLength="2.7" lengthAdjust="spacingAndGlyphs"  stroke="#000" stroke-width="0.14">0</text>
<line x1="357.6" y1="198.5" x2="359.3" y2="198.5" stroke="#333" stroke-width="0.7" />
<text x="357.4" y="200" font-size="4.3" text-anchor="end" font-weight="bold" fill="#000" textLength="5.4" lengthAdjust="spacingAndGlyphs"  stroke="#000" stroke-width="0.14">20</text>
<line x1="357.6" y1="182.8" x2="359.3" y2="182.8" stroke="#333" stroke-width="0.7" />
<text x="357.4" y="184.3" font-size="4.3" text-anchor="end" font-weight="bold" fill="#000" textLength="5.4" lengthAdjust="spacingAndGlyphs"  stroke="#000" stroke-width="0.14">40</text>
<line x1="357.6" y1="167.1" x2="359.3" y2="167.1" stroke="#333" stroke-width="0.7" />
<text x="357.4" y="168.6" font-size="4.3" text-anchor="end" font-weight="bold" fill="#000" textLength="5.4" lengthAdjust="spacingAndGlyphs"  stroke="#000" stroke-width="0.14">60</text>
<line x1="357.6" y1="151.4" x2="359.3" y2="151.4" stroke="#333" stroke-width="0.7" />
<text x="357.4" y="152.9" font-size="4.3" text-anchor="end" font-weight="bold" fill="#000" textLength="5.4" lengthAdjust="spacingAndGlyphs"  stroke="#000" stroke-width="0.14">80</text>
<text transform="translate(346.4,192.2) rotate(-90)" font-size="5.6" font-weight="bold" text-anchor="middle" fill="#000" textLength="41" lengthAdjust="spacingAndGlyphs">% Specific Lysis</text>
<text x="418.5" y="232.4" font-size="7.8" text-anchor="middle" font-weight="bold" fill="#000" textLength="11.2" lengthAdjust="spacingAndGlyphs" >Day</text>
<text x="373.7" y="222.7" font-size="4.6" text-anchor="middle" font-weight="bold" fill="#000" textLength="5.4" lengthAdjust="spacingAndGlyphs"  stroke="#000" stroke-width="0.14">56</text>
<line x1="373.7" y1="214.2" x2="373.7" y2="217.4" stroke="#222" stroke-width="0.8" />
<rect x="361.7" y="206.35" width="3.5" height="7.85" fill="#f6f6f6" stroke="#666" stroke-width="0.6" />
<line x1="363.45" y1="202.42" x2="363.45" y2="210.27" stroke="#333" stroke-width="0.7" />
<line x1="362.45" y1="202.42" x2="364.45" y2="202.42" stroke="#222" stroke-width="0.9" />
<rect x="366.3" y="179.03" width="4.1" height="35.17" fill="#b0b0b0" stroke="#777" stroke-width="0.5" />
<rect x="366.8" y="179.03" width="3.1" height="15.94" fill="#4a4a4a" />
<line x1="368.35" y1="163.1" x2="368.35" y2="179.03" stroke="#6a6a6a" stroke-width="1.6" />
<line x1="367.35" y1="163.1" x2="369.35" y2="163.1" stroke="#111" stroke-width="1.0" />
<rect x="371.7" y="196.93" width="4.1" height="17.27" fill="#888" stroke="#555" stroke-width="0.5" />
<rect x="372" y="196.93" width="3.5" height="11.46" fill="#202020" />
<line x1="373.75" y1="185.47" x2="373.75" y2="196.93" stroke="#333" stroke-width="0.8" />
<line x1="372.75" y1="185.47" x2="374.75" y2="185.47" stroke="#111" stroke-width="1.0" />
<rect x="377" y="211.22" width="4.1" height="2.98" fill="#111" />
<line x1="379.05" y1="207.29" x2="379.05" y2="211.22" stroke="#333" stroke-width="0.6" />
<line x1="378.05" y1="207.29" x2="380.05" y2="207.29" stroke="#222" stroke-width="0.8" />
<text x="402.6" y="222.7" font-size="4.6" text-anchor="middle" font-weight="bold" fill="#000" textLength="5.4" lengthAdjust="spacingAndGlyphs"  stroke="#000" stroke-width="0.14">80</text>
<line x1="402.6" y1="214.2" x2="402.6" y2="217.4" stroke="#222" stroke-width="0.8" />
<rect x="390.7" y="209.33" width="3.5" height="4.87" fill="#f6f6f6" stroke="#666" stroke-width="0.6" />
<line x1="392.45" y1="206.19" x2="392.45" y2="212.47" stroke="#333" stroke-width="0.7" />
<line x1="391.45" y1="206.19" x2="393.45" y2="206.19" stroke="#222" stroke-width="0.9" />
<rect x="395.3" y="176.13" width="4.1" height="38.07" fill="#b0b0b0" stroke="#777" stroke-width="0.5" />
<rect x="395.8" y="176.13" width="3.1" height="16.88" fill="#4a4a4a" />
<line x1="397.35" y1="159.25" x2="397.35" y2="176.13" stroke="#6a6a6a" stroke-width="1.6" />
<line x1="396.35" y1="159.25" x2="398.35" y2="159.25" stroke="#111" stroke-width="1.0" />
<rect x="400.7" y="203.6" width="4.1" height="10.6" fill="#888" stroke="#555" stroke-width="0.5" />
<rect x="401" y="203.6" width="3.5" height="10.6" fill="#202020" />
<line x1="402.75" y1="189.08" x2="402.75" y2="203.6" stroke="#333" stroke-width="0.8" />
<line x1="401.75" y1="189.08" x2="403.75" y2="189.08" stroke="#111" stroke-width="1.0" />
<path d="M406.2 214.2Q408.05 209.04 409.9 214.2Z" fill="#111"/>
<line x1="408.05" y1="211.06" x2="408.05" y2="212.24" stroke="#333" stroke-width="0.6" />
<line x1="407.05" y1="211.06" x2="409.05" y2="211.06" stroke="#222" stroke-width="0.8" />
<text x="431.9" y="222.7" font-size="4.6" text-anchor="middle" font-weight="bold" fill="#000" textLength="8.1" lengthAdjust="spacingAndGlyphs"  stroke="#000" stroke-width="0.14">180</text>
<line x1="431.9" y1="214.2" x2="431.9" y2="217.4" stroke="#222" stroke-width="0.8" />
<rect x="420.6" y="209.49" width="3.5" height="4.71" fill="#f6f6f6" stroke="#666" stroke-width="0.6" />
<line x1="422.35" y1="207.76" x2="422.35" y2="211.22" stroke="#333" stroke-width="0.7" />
<line x1="421.35" y1="207.76" x2="423.35" y2="207.76" stroke="#222" stroke-width="0.9" />
<rect x="425.2" y="169.3" width="4.1" height="44.9" fill="#b0b0b0" stroke="#777" stroke-width="0.5" />
<rect x="425.7" y="169.3" width="3.1" height="13.03" fill="#4a4a4a" />
<line x1="427.25" y1="156.27" x2="427.25" y2="169.3" stroke="#6a6a6a" stroke-width="1.6" />
<line x1="426.25" y1="156.27" x2="428.25" y2="156.27" stroke="#111" stroke-width="1.0" />
<rect x="430.6" y="202.42" width="4.1" height="11.78" fill="#888" stroke="#555" stroke-width="0.5" />
<rect x="430.9" y="202.42" width="3.5" height="11.78" fill="#202020" />
<line x1="432.65" y1="187.27" x2="432.65" y2="202.42" stroke="#333" stroke-width="0.8" />
<line x1="431.65" y1="187.27" x2="433.65" y2="187.27" stroke="#111" stroke-width="1.0" />
<path d="M436.1 214.2Q437.95 208.02 439.8 214.2Z" fill="#111"/>
<text x="461.1" y="222.7" font-size="4.6" text-anchor="middle" font-weight="bold" fill="#000" textLength="8.1" lengthAdjust="spacingAndGlyphs"  stroke="#000" stroke-width="0.14">365</text>
<line x1="461.1" y1="214.2" x2="461.1" y2="217.4" stroke="#222" stroke-width="0.8" />
<rect x="449.7" y="209.96" width="3.5" height="4.24" fill="#f6f6f6" stroke="#666" stroke-width="0.6" />
<line x1="451.45" y1="208.55" x2="451.45" y2="211.37" stroke="#333" stroke-width="0.7" />
<line x1="450.45" y1="208.55" x2="452.45" y2="208.55" stroke="#222" stroke-width="0.9" />
<rect x="454.3" y="173.22" width="4.1" height="40.98" fill="#b0b0b0" stroke="#777" stroke-width="0.5" />
<rect x="454.8" y="173.22" width="3.1" height="7.85" fill="#4a4a4a" />
<line x1="456.35" y1="165.37" x2="456.35" y2="173.22" stroke="#6a6a6a" stroke-width="1.6" />
<line x1="455.35" y1="165.37" x2="457.35" y2="165.37" stroke="#111" stroke-width="1.0" />
<rect x="459.7" y="202.03" width="4.1" height="12.17" fill="#888" stroke="#555" stroke-width="0.5" />
<rect x="460" y="202.03" width="3.5" height="12.17" fill="#202020" />
<line x1="461.75" y1="183.19" x2="461.75" y2="202.03" stroke="#333" stroke-width="0.8" />
<line x1="460.75" y1="183.19" x2="462.75" y2="183.19" stroke="#111" stroke-width="1.0" />
<path d="M465.2 214.2Q467.05 206.84 468.9 214.2Z" fill="#111"/>
<line x1="467.05" y1="208.78" x2="467.05" y2="210.04" stroke="#333" stroke-width="0.6" />
<line x1="466.05" y1="208.78" x2="468.05" y2="208.78" stroke="#222" stroke-width="0.8" />
</g>
</svg></body></html>
